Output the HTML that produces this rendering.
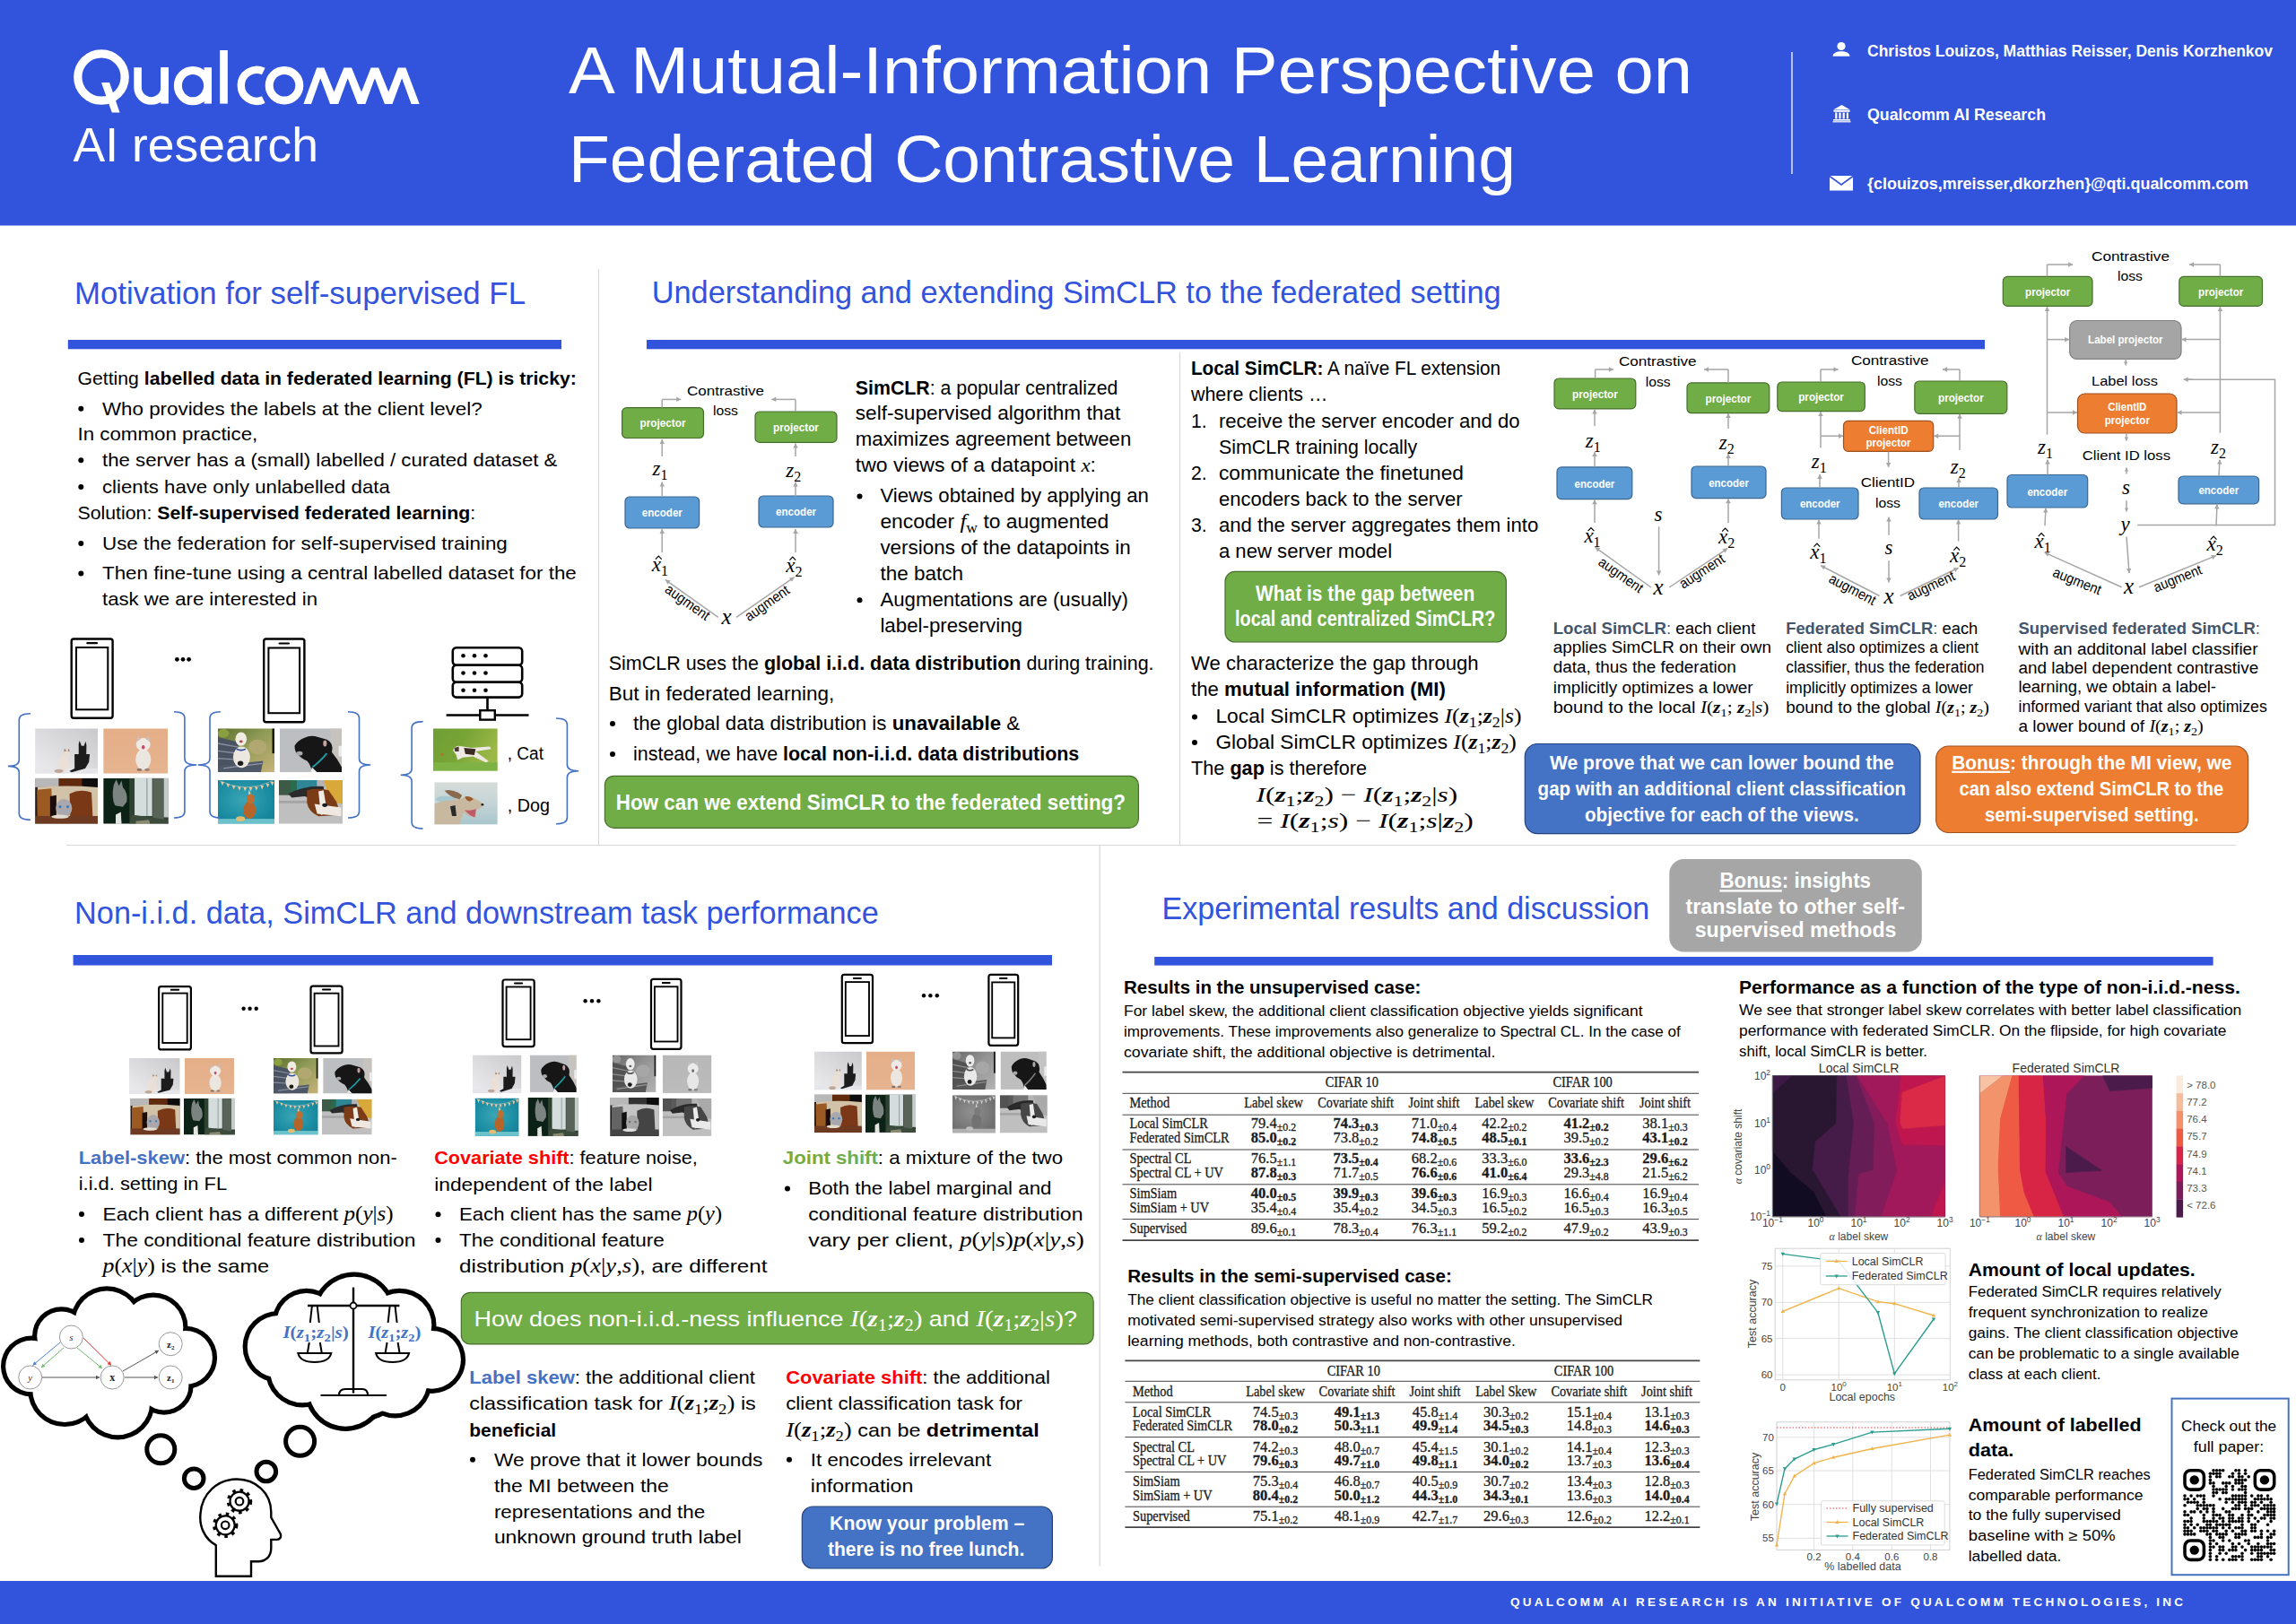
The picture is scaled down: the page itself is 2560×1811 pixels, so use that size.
<!DOCTYPE html>
<html><head><meta charset="utf-8"><title>A Mutual-Information Perspective on Federated Contrastive Learning</title>
<style>html,body{margin:0;padding:0;background:#fff;overflow:hidden}svg{display:block}</style></head>
<body><svg width="2560" height="1811" viewBox="0 0 2560 1811" font-family="Liberation Sans, sans-serif">
<defs>
<filter id="gray" color-interpolation-filters="sRGB"><feColorMatrix type="saturate" values="0"/></filter>
<filter id="soft" x="0" y="0" width="1" height="1"><feGaussianBlur stdDeviation="0.9"/></filter>
<linearGradient id="gCatSh" x1="0" y1="1" x2="1" y2="0"><stop offset="0" stop-color="#EDEDEF"/><stop offset="1" stop-color="#C9C9CB"/></linearGradient>
<linearGradient id="gPeach" x1="0" y1="0" x2="0" y2="1"><stop offset="0" stop-color="#E4AE88"/><stop offset="1" stop-color="#E6B490"/></linearGradient>
<linearGradient id="gGrass" x1="0" y1="0" x2="1" y2="0.4"><stop offset="0" stop-color="#6E9E34"/><stop offset="0.5" stop-color="#78A436"/><stop offset="1" stop-color="#9CB848"/></linearGradient>
<linearGradient id="gSky" x1="0" y1="0" x2="0" y2="1"><stop offset="0" stop-color="#D6DCD8"/><stop offset="0.5" stop-color="#C4D4D6"/><stop offset="1" stop-color="#A8C6CC"/></linearGradient>
<linearGradient id="gBench" x1="0" y1="0" x2="1" y2="1"><stop offset="0" stop-color="#5C6E2C"/><stop offset="0.45" stop-color="#8E9A56"/><stop offset="1" stop-color="#C8B27A"/></linearGradient>
<radialGradient id="gTeal" cx="0.45" cy="0.45" r="0.6"><stop offset="0" stop-color="#3AA6B6"/><stop offset="1" stop-color="#13859C"/></radialGradient>
<symbol id="phCatShadow" viewBox="0 0 100 70" preserveAspectRatio="none"><g filter="url(#soft)">
 <rect width="100" height="70" fill="url(#gCatSh)"/>
 <rect y="62" width="100" height="8" fill="#E6E6EA"/>
 <path d="M69.6,40 L69.6,24 L71.1,19 L74,27 L78,27 L80.7,20 L82,26 L81.7,40 L87.2,40 L86,52 L80,62 L58,68 L55,66 L63,62 L63,40 Z" fill="#1A1A1A"/>
 <ellipse cx="45.5" cy="54" rx="9" ry="13" fill="#EAE0D8"/>
 <circle cx="50" cy="40" r="5.5" fill="#E8DED4"/>
 <path d="M46,36 L47,31 L50,35 Z M52,35 L54,31 L55,36 Z" fill="#A08070"/>
 <ellipse cx="38" cy="66" rx="7" ry="3" fill="#C0A898"/>
</g></symbol>
<symbol id="phCatPeach" viewBox="0 0 100 70" preserveAspectRatio="none"><g filter="url(#soft)">
 <rect width="100" height="70" fill="url(#gPeach)"/>
 <ellipse cx="62" cy="48" rx="12" ry="16" fill="#ECE6E0"/>
 <ellipse cx="62" cy="25" rx="11" ry="10" fill="#EFEAE6"/>
 <path d="M52,20 L53,11 L58,17 Z M72,20 L71,11 L66,17 Z" fill="#C8C0C0"/>
 <ellipse cx="62" cy="29" rx="2.5" ry="3.2" fill="#C0506A"/>
 <ellipse cx="56" cy="64" rx="4" ry="2" fill="#807070"/><ellipse cx="68" cy="64" rx="4" ry="2" fill="#908080"/>
</g></symbol>
<symbol id="phCatBag" viewBox="0 0 100 70" preserveAspectRatio="none"><g filter="url(#soft)">
 <rect width="100" height="70" fill="#2A1A12"/>
 <rect x="0" y="0" width="38" height="14" fill="#B8B8B8"/>
 <rect x="38" y="0" width="37" height="14" fill="#5E2A10"/>
 <rect x="75" y="0" width="25" height="16" fill="#0E0A08"/>
 <path d="M4,14 Q50,10 100,14 L100,60 L4,60 Z" fill="#D2C2A8"/>
 <path d="M3,18 L26,16 L28,62 L4,62 Z" fill="#9A5A22"/>
 <path d="M24,28 L34,26 L34,62 L24,62 Z" fill="#1C0E08"/>
 <path d="M55,24 Q72,16 90,22 L92,60 L56,60 Z" fill="#7A3812"/>
 <ellipse cx="46" cy="46" rx="13" ry="14" fill="#A8A8AE"/>
 <ellipse cx="40" cy="44" rx="2.2" ry="2" fill="#3A78B0"/><ellipse cx="52" cy="44" rx="2.2" ry="2" fill="#3A78B0"/>
 <rect x="0" y="58" width="100" height="12" fill="#6E3A22"/>
 <ellipse cx="40" cy="59" rx="14" ry="3" fill="#E4DCD0"/>
</g></symbol>
<symbol id="phCatWindow" viewBox="0 0 100 70" preserveAspectRatio="none"><g filter="url(#soft)">
 <rect width="100" height="70" fill="#0E2214"/>
 <rect x="40" y="0" width="60" height="70" fill="#2E4232"/>
 <rect x="48" y="0" width="27" height="58" fill="#D4DCDC"/>
 <rect x="66" y="0" width="2" height="58" fill="#9AA8AA"/>
 <rect x="76" y="0" width="17" height="70" fill="#5A6458"/>
 <rect x="93" y="0" width="7" height="60" fill="#C4CCCC"/>
 <path d="M44,56 L100,64 L100,70 L40,70 Z" fill="#3C4C3C"/>
 <path d="M16,10 L20,2 L24,12 L28,4 L30,14 Q38,22 36,36 L30,44 L18,42 Q12,30 16,10 Z" fill="#7C8482"/>
 <path d="M19,56 L27,52 L28,70 L19,70 Z" fill="#E4E4E0"/>
 <path d="M50,66 L70,64 L72,70 L50,70 Z" fill="#8A8A70"/>
</g></symbol>
<symbol id="phDogBench" viewBox="0 0 100 70" preserveAspectRatio="none"><g filter="url(#soft)">
 <rect width="100" height="70" fill="url(#gBench)"/>
 <ellipse cx="10" cy="8" rx="10" ry="7" fill="#8AA040"/>
 <ellipse cx="70" cy="30" rx="16" ry="12" fill="#B0A870"/>
 <rect x="96" y="0" width="4" height="40" fill="#1A1A10"/>
 <path d="M0,14 L36,22 L36,70 L0,70 Z" fill="#4A5262"/>
 <path d="M0,24 L36,30 M0,36 L36,40 M0,48 L36,50" stroke="#8890A0" stroke-width="2"/>
 <path d="M0,60 L80,52 L76,70 L0,70 Z" fill="#505868"/>
 <path d="M10,64 L78,56" stroke="#9098A8" stroke-width="1.8"/>
 <ellipse cx="42" cy="46" rx="15" ry="17" fill="#ECE8E0"/>
 <ellipse cx="41" cy="17" rx="10" ry="11" fill="#F0ECE4"/>
 <path d="M33,33 Q41,37 49,33" stroke="#2A4CA0" stroke-width="2.6" fill="none"/>
 <ellipse cx="40" cy="56" rx="5" ry="4" fill="#1A1A1A"/>
 <ellipse cx="41" cy="21" rx="3" ry="2" fill="#C04050"/>
</g></symbol>
<symbol id="phDogBlack" viewBox="0 0 100 70" preserveAspectRatio="none"><g filter="url(#soft)">
 <rect width="100" height="70" fill="#BDBEC2"/>
 <rect x="82" y="0" width="18" height="70" fill="#C6C2BE"/>
 <rect x="95" y="28" width="5" height="17" fill="#ECECEC"/>
 <path d="M24,28 Q28,20 40,15 Q50,10 62,14 L76,18 Q88,24 84,38 Q94,50 100,62 L100,70 L52,70 Q50,58 44,52 Q34,48 30,42 Q24,38 24,28 Z" fill="#141516"/>
 <ellipse cx="32" cy="40" rx="5" ry="3.5" fill="#A8A8A8"/>
 <path d="M53,62 Q64,54 76,40" stroke="#1E9AA0" stroke-width="3" fill="none"/>
 <path d="M52,62 L60,70 L50,70 Z" fill="#EDEDED"/>
 <ellipse cx="73" cy="24" rx="3" ry="5" fill="#C8A0A0"/>
</g></symbol>
<symbol id="phDogTeal" viewBox="0 0 100 70" preserveAspectRatio="none"><g filter="url(#soft)">
 <rect width="100" height="70" fill="url(#gTeal)"/>
 <path d="M3,1 Q50,22 97,1" stroke="#E8D0B0" stroke-width="0.8" fill="none"/>
 <path d="M5,2 l3,7 l3,-6 z M15,5 l3,7 l3,-6 z M25,8 l3,7 l3,-6 z M35,10 l3,7 l3,-6 z M45,11 l3,7 l3,-6 z M55,11 l3,7 l3,-6 z M65,10 l3,7 l3,-6 z M75,8 l3,7 l3,-6 z M85,5 l3,7 l3,-6 z M93,2 l3,7 l3,-6 z" fill="#F2C8A0"/>
 <ellipse cx="56" cy="48" rx="11" ry="14" fill="#B5652A"/>
 <ellipse cx="58" cy="30" rx="7" ry="8" fill="#BE6E30"/>
 <path d="M54,23 L55,15 L58,22 Z" fill="#F0D0B0"/>
 <rect x="0" y="62" width="100" height="8" fill="#6CC2CA"/>
 <ellipse cx="40" cy="62" rx="8" ry="4" fill="#E2BC70"/>
</g></symbol>
<symbol id="phDogCouch" viewBox="0 0 100 70" preserveAspectRatio="none"><g filter="url(#soft)">
 <rect width="100" height="70" fill="#BFBFBF"/>
 <rect x="0" y="0" width="22" height="24" fill="#3C5A46"/>
 <rect x="18" y="0" width="12" height="22" fill="#2C6A4E"/>
 <rect x="28" y="0" width="32" height="18" fill="#2E8696"/>
 <rect x="60" y="0" width="12" height="18" fill="#B4B4B4"/>
 <path d="M70,0 L100,0 L100,38 L86,36 Q76,20 70,0 Z" fill="#D8A838"/>
 <rect x="0" y="33" width="45" height="4" fill="#A4A4A4"/>
 <path d="M15,22 Q40,8 70,10 L72,28 Q50,30 40,26 L20,28 Z" fill="#2A2A2C"/>
 <path d="M44,16 Q60,12 78,16 L90,34 Q96,48 92,56 L62,58 Q46,50 44,36 Z" fill="#7A3A14"/>
 <path d="M62,18 L70,16 L76,52 L66,56 Z" fill="#F0ECE6"/>
 <path d="M56,38 L98,44 L98,58 L60,54 Z" fill="#EEE8E0"/>
 <ellipse cx="72" cy="40" rx="4" ry="3" fill="#1A1A1A"/>
</g></symbol>
<symbol id="phCatGrass" viewBox="0 0 100 70" preserveAspectRatio="none"><g filter="url(#soft)">
 <rect width="100" height="70" fill="url(#gGrass)"/>
 <rect x="0" y="56" width="100" height="14" fill="#7EB244"/>
 <path d="M31,36 Q34,28 42,29 L60,32 L88,30 L90,34 L66,38 L86,54 L82,56 L62,46 L46,48 L38,52 L36,44 Z" fill="#EDEAE4"/>
 <path d="M48,32 L66,34 L64,44 L50,42 Z" fill="#3A2A20"/>
 <path d="M33,32 L40,30 L40,38 L34,38 Z" fill="#4A3A30"/>
 <circle cx="14" cy="43" r="2.2" fill="#C06A2A"/>
</g></symbol>
<symbol id="phDogSky" viewBox="0 0 100 70" preserveAspectRatio="none"><g filter="url(#soft)">
 <rect width="100" height="70" fill="url(#gSky)"/>
 <ellipse cx="18" cy="28" rx="16" ry="5" fill="#A8C8D0"/>
 <path d="M0,36 Q14,30 26,30 L40,28 Q52,22 62,26 L78,36 L74,42 L66,46 L66,58 L54,56 L46,50 L40,70 L0,70 Z" fill="#C8B8A0"/>
 <path d="M16,14 Q30,10 44,22 L40,28 Q26,26 16,14 Z" fill="#8A6A50"/>
 <path d="M48,24 Q56,22 62,28 L56,32 Q50,30 48,24 Z" fill="#9A5A2A"/>
 <path d="M48,46 Q58,48 66,44 L64,58 Q56,56 48,46 Z" fill="#C05A6A"/>
 <path d="M25,40 L33,38 L35,56 L28,56 Z" fill="#2A2A2A"/>
 <circle cx="76" cy="37" r="2" fill="#1A1A1A"/>
</g></symbol>
</defs>
<rect x="0.0" y="0.0" width="2560.0" height="251.5" fill="#3253DC"/>
<circle cx="113.0" cy="86.0" r="26.2" fill="none" stroke="#fff" stroke-width="9.3"/>
<polygon points="113.0,92.1 122.1,92.1 133.5,125.5 124.8,125.5" fill="#fff"/>
<path d="M153.6,75.2 V97.5 A 15 15 0 0 0 183.6 97.5 V75.2" fill="none" stroke="#fff" stroke-width="8.6"/>
<line x1="183.6" y1="75.2" x2="183.6" y2="115.6" stroke="#fff" stroke-width="8.6" />
<ellipse cx="215" cy="95.6" rx="16.6" ry="17.2" fill="none" stroke="#fff" stroke-width="9"/>
<line x1="231.8" y1="75.2" x2="231.8" y2="115.6" stroke="#fff" stroke-width="8.4" />
<line x1="249.5" y1="56.0" x2="249.5" y2="115.6" stroke="#fff" stroke-width="8.7" />
<path d="M293.8,79.5 A 17.5 17.5 0 1 0 293.8 111.1" fill="none" stroke="#fff" stroke-width="8.4"/>
<circle cx="317.0" cy="95.3" r="16.8" fill="none" stroke="#fff" stroke-width="9"/>
<polygon points="338.4,115.9 353.2,75.5 361.4,75.5 372.4,102.5 383.4,75.5 392.0,75.5 403.0,102.5 413.6,75.5 422.2,75.5 433.2,102.5 443.8,75.5 452.4,75.5 467.7,115.9 458.6,115.9 448.1,87.2 437.5,115.9 428.9,115.9 417.9,87.2 407.4,115.9 398.7,115.9 387.7,87.2 377.2,115.9 368.1,115.9 357.3,87.2 347.0,115.9" fill="#fff"/>
<text x="81.5" y="179.5" font-family="Liberation Sans" font-size="53" fill="#fff" textLength="273.5" lengthAdjust="spacingAndGlyphs">AI research</text>
<text x="634.0" y="103.6" font-family="Liberation Sans" font-size="75" fill="#fff" textLength="1253.0" lengthAdjust="spacingAndGlyphs">A Mutual-Information Perspective on</text>
<text x="634.0" y="202.7" font-family="Liberation Sans" font-size="75" fill="#fff" textLength="1056.0" lengthAdjust="spacingAndGlyphs">Federated Contrastive Learning</text>
<line x1="1998.0" y1="58.0" x2="1998.0" y2="194.0" stroke="#fff" stroke-width="1.3" />
<circle cx="2053.0" cy="51.5" r="4.6" fill="#fff"/>
<path d="M2043.5,62.8 C2043.5,55.5 2062.5,55.5 2062.5,62.8 Z" fill="#fff"/>
<polygon points="2044.0,122.5 2053.5,117.0 2063.0,122.5" fill="#fff"/>
<rect x="2044.5" y="123.0" width="18.0" height="1.8" fill="#fff"/>
<rect x="2046.2" y="125.5" width="2.2" height="7.0" fill="#fff"/>
<rect x="2050.4" y="125.5" width="2.2" height="7.0" fill="#fff"/>
<rect x="2054.6" y="125.5" width="2.2" height="7.0" fill="#fff"/>
<rect x="2058.8" y="125.5" width="2.2" height="7.0" fill="#fff"/>
<rect x="2044.0" y="133.0" width="19.0" height="1.6" fill="#fff"/>
<rect x="2043.5" y="135.2" width="20.0" height="1.2" fill="#fff"/>
<rect x="2040.0" y="196.0" width="26.0" height="16.5" fill="#fff"/>
<path d="M2040,196.5 L2053,206 L2066,196.5" fill="none" stroke="#3253DC" stroke-width="1.6"/>
<text x="2082.0" y="62.8" font-family="Liberation Sans" font-size="19" fill="#fff" font-weight="bold" textLength="452.0" lengthAdjust="spacingAndGlyphs">Christos Louizos, Matthias Reisser, Denis Korzhenkov</text>
<text x="2082.0" y="133.6" font-family="Liberation Sans" font-size="19" fill="#fff" font-weight="bold" textLength="199.0" lengthAdjust="spacingAndGlyphs">Qualcomm AI Research</text>
<text x="2082.0" y="210.6" font-family="Liberation Sans" font-size="19" fill="#fff" font-weight="bold" textLength="425.0" lengthAdjust="spacingAndGlyphs">{clouizos,mreisser,dkorzhen}@qti.qualcomm.com</text>
<line x1="667.5" y1="300.0" x2="667.5" y2="942.5" stroke="#D9D9D9" stroke-width="1.2" />
<line x1="1315.5" y1="393.0" x2="1315.5" y2="942.5" stroke="#D9D9D9" stroke-width="1.2" />
<line x1="73.5" y1="942.5" x2="2493.0" y2="942.5" stroke="#D9D9D9" stroke-width="1.2" />
<line x1="1226.2" y1="942.5" x2="1226.2" y2="1746.7" stroke="#D9D9D9" stroke-width="1.2" />
<rect x="75.8" y="379.0" width="550.2" height="10.3" fill="#3253DC"/>
<rect x="721.0" y="379.0" width="1492.0" height="10.3" fill="#3253DC"/>
<rect x="81.6" y="1065.0" width="1091.4" height="11.5" fill="#3253DC"/>
<rect x="1287.2" y="1067.0" width="1180.4" height="9.6" fill="#3253DC"/>
<text x="83.0" y="339.0" font-family="Liberation Sans" font-size="35" fill="#3253DC" textLength="503.0" lengthAdjust="spacingAndGlyphs">Motivation for self-supervised FL</text>
<text x="726.7" y="338.0" font-family="Liberation Sans" font-size="35" fill="#3253DC" textLength="947.0" lengthAdjust="spacingAndGlyphs">Understanding and extending SimCLR to the federated setting</text>
<text x="83.1" y="1029.8" font-family="Liberation Sans" font-size="35" fill="#3253DC" textLength="896.6" lengthAdjust="spacingAndGlyphs">Non-i.i.d. data, SimCLR and downstream task performance</text>
<text x="1295.6" y="1025.4" font-family="Liberation Sans" font-size="35" fill="#3253DC" textLength="543.7" lengthAdjust="spacingAndGlyphs">Experimental results and discussion</text>
<rect x="79.7" y="712.5" width="45.9" height="88.3" fill="#fff" rx="2.5" stroke="#000" stroke-width="2.4"/>
<rect x="85.0" y="722.0" width="35.3" height="69.3" fill="none" stroke="#000" stroke-width="2.04"/>
<line x1="97.3" y1="717.2" x2="108.0" y2="717.2" stroke="#000" stroke-width="2.16" stroke-linecap="round"/>
<rect x="294.2" y="712.5" width="45.2" height="92.7" fill="#fff" rx="2.5" stroke="#000" stroke-width="2.4"/>
<rect x="299.4" y="722.5" width="34.7" height="72.7" fill="none" stroke="#000" stroke-width="2.04"/>
<line x1="311.6" y1="717.5" x2="322.0" y2="717.5" stroke="#000" stroke-width="2.16" stroke-linecap="round"/>
<circle cx="197.4" cy="735.3" r="2.4" fill="#000"/>
<circle cx="204.0" cy="735.3" r="2.4" fill="#000"/>
<circle cx="210.6" cy="735.3" r="2.4" fill="#000"/>
<rect x="504.8" y="722.3" width="77.4" height="19.4" fill="#fff" rx="4" stroke="#000" stroke-width="2.6"/>
<circle cx="516.5" cy="731.2" r="2.3" fill="#000"/>
<circle cx="529.0" cy="731.2" r="2.3" fill="#000"/>
<circle cx="541.5" cy="731.2" r="2.3" fill="#000"/>
<rect x="504.8" y="741.7" width="77.4" height="19.1" fill="#fff" rx="4" stroke="#000" stroke-width="2.6"/>
<circle cx="516.5" cy="750.5" r="2.3" fill="#000"/>
<circle cx="529.0" cy="750.5" r="2.3" fill="#000"/>
<circle cx="541.5" cy="750.5" r="2.3" fill="#000"/>
<rect x="504.8" y="760.8" width="77.4" height="16.8" fill="#fff" rx="4" stroke="#000" stroke-width="2.6"/>
<circle cx="516.5" cy="769.7" r="2.3" fill="#000"/>
<circle cx="529.0" cy="769.7" r="2.3" fill="#000"/>
<circle cx="541.5" cy="769.7" r="2.3" fill="#000"/>
<line x1="543.5" y1="778.9" x2="543.5" y2="792.2" stroke="#000" stroke-width="2.6" />
<rect x="535.3" y="792.2" width="16.5" height="10.4" fill="#fff" stroke="#000" stroke-width="2.4"/>
<line x1="497.6" y1="797.5" x2="535.3" y2="797.5" stroke="#000" stroke-width="2.6" />
<line x1="551.8" y1="797.5" x2="589.5" y2="797.5" stroke="#000" stroke-width="2.6" />
<use href="#phCatShadow" x="39.1" y="812.3" width="69.9" height="50.4"/>
<use href="#phCatPeach" x="115.2" y="812.3" width="71.8" height="50.4"/>
<use href="#phCatBag" x="39.1" y="867.7" width="69.9" height="51.0"/>
<use href="#phCatWindow" x="115.2" y="867.7" width="72.6" height="51.0"/>
<use href="#phDogBench" x="242.9" y="812.3" width="63.1" height="48.7"/>
<use href="#phDogBlack" x="311.9" y="812.3" width="69.1" height="48.7"/>
<use href="#phDogTeal" x="242.9" y="870.0" width="63.1" height="48.7"/>
<use href="#phDogCouch" x="311.0" y="870.0" width="71.0" height="48.7"/>
<use href="#phCatGrass" x="482.8" y="812.3" width="72.0" height="47.4"/>
<use href="#phDogSky" x="484.3" y="872.2" width="70.5" height="47.4"/>
<text x="565.8" y="847.0" font-family="Liberation Sans" font-size="20" fill="#000" textLength="40.2" lengthAdjust="spacingAndGlyphs">, Cat</text>
<text x="565.8" y="904.7" font-family="Liberation Sans" font-size="20" fill="#000" textLength="47.2" lengthAdjust="spacingAndGlyphs">, Dog</text>
<path d="M34,795.7 Q21.3,795.7 21.3,802.7 L21.3,847.4 Q21.3,854.4 8.9,854.4 Q21.3,854.4 21.3,861.4 L21.3,907.2 Q21.3,914.2 34,914.2" fill="none" stroke="#4472C4" stroke-width="1.6"/>
<path d="M194,793.7 Q205.9,793.7 205.9,800.7 L205.9,846 Q205.9,853 219.2,853 Q205.9,853 205.9,860 L205.9,905 Q205.9,912 194,912" fill="none" stroke="#4472C4" stroke-width="1.6"/>
<path d="M245.9,793.7 Q234,793.7 234,800.7 L234,846 Q234,853 220.7,853 Q234,853 234,860 L234,905 Q234,912 245.9,912" fill="none" stroke="#4472C4" stroke-width="1.6"/>
<path d="M388,793.7 Q400.5,793.7 400.5,800.7 L400.5,846 Q400.5,853 413.2,853 Q400.5,853 400.5,860 L400.5,905 Q400.5,912 388,912" fill="none" stroke="#4472C4" stroke-width="1.6"/>
<path d="M471.6,804.6 Q459.1,804.6 459.1,811.6 L459.1,857.2 Q459.1,864.2 446.7,864.2 Q459.1,864.2 459.1,871.2 L459.1,917 Q459.1,924 471.6,924" fill="none" stroke="#4472C4" stroke-width="1.6"/>
<path d="M620,801 Q632.4,801 632.4,808 L632.4,852.7 Q632.4,859.7 645.1,859.7 Q632.4,859.7 632.4,866.7 L632.4,911.7 Q632.4,918.7 620,918.7" fill="none" stroke="#4472C4" stroke-width="1.6"/>
<rect x="177.1" y="1100.1" width="35.8" height="70.3" fill="#fff" rx="2.5" stroke="#000" stroke-width="2.2"/>
<rect x="181.3" y="1107.6" width="27.4" height="55.4" fill="none" stroke="#000" stroke-width="1.87"/>
<line x1="190.8" y1="1103.7" x2="199.2" y2="1103.7" stroke="#000" stroke-width="1.9800000000000002" stroke-linecap="round"/>
<rect x="346.5" y="1099.7" width="35.1" height="74.7" fill="#fff" rx="2.5" stroke="#000" stroke-width="2.2"/>
<rect x="350.6" y="1107.7" width="26.9" height="58.8" fill="none" stroke="#000" stroke-width="1.87"/>
<line x1="359.9" y1="1103.6" x2="368.2" y2="1103.6" stroke="#000" stroke-width="1.9800000000000002" stroke-linecap="round"/>
<circle cx="271.6" cy="1124.7" r="2.2" fill="#000"/>
<circle cx="278.6" cy="1124.7" r="2.2" fill="#000"/>
<circle cx="285.7" cy="1124.7" r="2.2" fill="#000"/>
<use href="#phCatShadow" x="144.0" y="1180.0" width="56.7" height="40.0"/>
<use href="#phCatPeach" x="206.0" y="1180.0" width="55.0" height="40.0"/>
<use href="#phCatBag" x="145.3" y="1224.8" width="55.4" height="40.6"/>
<use href="#phCatWindow" x="205.0" y="1224.8" width="57.0" height="40.6"/>
<use href="#phDogBench" x="305.0" y="1180.0" width="49.7" height="39.6"/>
<use href="#phDogBlack" x="360.2" y="1180.0" width="54.5" height="39.6"/>
<use href="#phDogTeal" x="305.0" y="1227.0" width="49.7" height="38.4"/>
<use href="#phDogCouch" x="359.0" y="1225.7" width="55.7" height="39.7"/>
<rect x="560.5" y="1092.5" width="35.2" height="74.6" fill="#fff" rx="2.5" stroke="#000" stroke-width="2.2"/>
<rect x="564.6" y="1100.5" width="27.0" height="58.7" fill="none" stroke="#000" stroke-width="1.87"/>
<line x1="574.0" y1="1096.4" x2="582.2" y2="1096.4" stroke="#000" stroke-width="1.9800000000000002" stroke-linecap="round"/>
<rect x="726.0" y="1091.9" width="33.5" height="77.9" fill="#fff" rx="2.5" stroke="#000" stroke-width="2.2"/>
<rect x="729.9" y="1100.3" width="25.6" height="61.2" fill="none" stroke="#000" stroke-width="1.87"/>
<line x1="738.8" y1="1096.0" x2="746.7" y2="1096.0" stroke="#000" stroke-width="1.9800000000000002" stroke-linecap="round"/>
<circle cx="652.6" cy="1116.3" r="2.2" fill="#000"/>
<circle cx="660.0" cy="1116.3" r="2.2" fill="#000"/>
<circle cx="667.4" cy="1116.3" r="2.2" fill="#000"/>
<use href="#phCatShadow" x="527.0" y="1176.5" width="54.5" height="42.4"/>
<use href="#phDogBlack" x="590.8" y="1176.5" width="52.0" height="41.4"/>
<use href="#phDogTeal" x="529.6" y="1224.5" width="49.0" height="42.4"/>
<use href="#phCatWindow" x="588.5" y="1223.9" width="56.3" height="43.0"/>
<use href="#phDogBench" x="682.8" y="1176.5" width="48.7" height="41.4" filter="url(#gray)"/>
<use href="#phCatPeach" x="738.8" y="1176.5" width="54.6" height="42.4" filter="url(#gray)"/>
<use href="#phCatBag" x="680.2" y="1223.9" width="54.6" height="43.0" filter="url(#gray)"/>
<use href="#phDogCouch" x="738.8" y="1224.8" width="54.6" height="42.1" filter="url(#gray)"/>
<rect x="938.8" y="1086.9" width="34.2" height="76.3" fill="#fff" rx="2.5" stroke="#000" stroke-width="2.2"/>
<rect x="942.8" y="1095.1" width="26.2" height="60.0" fill="none" stroke="#000" stroke-width="1.87"/>
<line x1="951.9" y1="1090.9" x2="959.9" y2="1090.9" stroke="#000" stroke-width="1.9800000000000002" stroke-linecap="round"/>
<rect x="1102.4" y="1086.9" width="32.8" height="78.9" fill="#fff" rx="2.5" stroke="#000" stroke-width="2.2"/>
<rect x="1106.2" y="1095.4" width="25.1" height="62.0" fill="none" stroke="#000" stroke-width="1.87"/>
<line x1="1115.0" y1="1091.1" x2="1122.6" y2="1091.1" stroke="#000" stroke-width="1.9800000000000002" stroke-linecap="round"/>
<circle cx="1030.0" cy="1110.3" r="2.2" fill="#000"/>
<circle cx="1037.4" cy="1110.3" r="2.2" fill="#000"/>
<circle cx="1044.8" cy="1110.3" r="2.2" fill="#000"/>
<use href="#phCatShadow" x="907.9" y="1172.5" width="53.0" height="43.1"/>
<use href="#phCatPeach" x="965.9" y="1172.5" width="54.3" height="43.1"/>
<use href="#phCatBag" x="907.9" y="1220.5" width="53.0" height="42.4"/>
<use href="#phCatWindow" x="964.9" y="1220.5" width="56.2" height="42.4"/>
<use href="#phDogBench" x="1061.9" y="1172.5" width="48.0" height="42.4" filter="url(#gray)"/>
<use href="#phDogBlack" x="1115.5" y="1172.5" width="51.3" height="42.4" filter="url(#gray)"/>
<use href="#phDogTeal" x="1061.9" y="1221.2" width="48.0" height="42.4" filter="url(#gray)"/>
<use href="#phDogCouch" x="1114.8" y="1221.2" width="53.0" height="42.4" filter="url(#gray)"/>
<circle cx="68.6" cy="1489.8" r="32.6" fill="#000"/>
<circle cx="119.2" cy="1475.4" r="41.1" fill="#000"/>
<circle cx="170.9" cy="1480.2" r="38.6" fill="#000"/>
<circle cx="207.0" cy="1513.9" r="35.1" fill="#000"/>
<circle cx="183.0" cy="1545.2" r="32.6" fill="#000"/>
<circle cx="131.2" cy="1564.4" r="41.1" fill="#000"/>
<circle cx="72.2" cy="1550.0" r="41.1" fill="#000"/>
<circle cx="34.9" cy="1523.5" r="33.9" fill="#000"/>
<circle cx="120.4" cy="1521.1" r="62.6" fill="#000"/>
<circle cx="160.0" cy="1515.0" r="42.6" fill="#000"/>
<circle cx="80.0" cy="1520.0" r="42.6" fill="#000"/>
<circle cx="68.6" cy="1489.8" r="27.4" fill="#fff"/>
<circle cx="119.2" cy="1475.4" r="35.9" fill="#fff"/>
<circle cx="170.9" cy="1480.2" r="33.4" fill="#fff"/>
<circle cx="207.0" cy="1513.9" r="29.9" fill="#fff"/>
<circle cx="183.0" cy="1545.2" r="27.4" fill="#fff"/>
<circle cx="131.2" cy="1564.4" r="35.9" fill="#fff"/>
<circle cx="72.2" cy="1550.0" r="35.9" fill="#fff"/>
<circle cx="34.9" cy="1523.5" r="28.7" fill="#fff"/>
<circle cx="120.4" cy="1521.1" r="57.4" fill="#fff"/>
<circle cx="160.0" cy="1515.0" r="37.4" fill="#fff"/>
<circle cx="80.0" cy="1520.0" r="37.4" fill="#fff"/>
<circle cx="394.8" cy="1465.7" r="47.1" fill="#000"/>
<circle cx="341.8" cy="1475.4" r="38.6" fill="#000"/>
<circle cx="445.4" cy="1477.8" r="41.1" fill="#000"/>
<circle cx="481.5" cy="1516.3" r="37.6" fill="#000"/>
<circle cx="440.5" cy="1540.4" r="41.1" fill="#000"/>
<circle cx="385.2" cy="1550.0" r="45.9" fill="#000"/>
<circle cx="337.0" cy="1528.3" r="41.1" fill="#000"/>
<circle cx="310.5" cy="1501.8" r="39.9" fill="#000"/>
<circle cx="394.8" cy="1511.5" r="74.6" fill="#000"/>
<circle cx="350.0" cy="1505.0" r="47.6" fill="#000"/>
<circle cx="440.0" cy="1510.0" r="47.6" fill="#000"/>
<circle cx="394.8" cy="1465.7" r="41.9" fill="#fff"/>
<circle cx="341.8" cy="1475.4" r="33.4" fill="#fff"/>
<circle cx="445.4" cy="1477.8" r="35.9" fill="#fff"/>
<circle cx="481.5" cy="1516.3" r="32.4" fill="#fff"/>
<circle cx="440.5" cy="1540.4" r="35.9" fill="#fff"/>
<circle cx="385.2" cy="1550.0" r="40.7" fill="#fff"/>
<circle cx="337.0" cy="1528.3" r="35.9" fill="#fff"/>
<circle cx="310.5" cy="1501.8" r="34.7" fill="#fff"/>
<circle cx="394.8" cy="1511.5" r="69.4" fill="#fff"/>
<circle cx="350.0" cy="1505.0" r="42.4" fill="#fff"/>
<circle cx="440.0" cy="1510.0" r="42.4" fill="#fff"/>
<circle cx="179.3" cy="1616.2" r="15.5" fill="#fff" stroke="#000" stroke-width="5"/>
<circle cx="216.2" cy="1648.7" r="10.8" fill="#fff" stroke="#000" stroke-width="5"/>
<circle cx="296.8" cy="1641.0" r="10.8" fill="#fff" stroke="#000" stroke-width="5"/>
<circle cx="334.6" cy="1607.3" r="16.0" fill="#fff" stroke="#000" stroke-width="5"/>
<circle cx="79.4" cy="1491.0" r="13.0" fill="#fff" stroke="#9A9A9A" stroke-width="1"/>
<circle cx="33.7" cy="1536.0" r="13.0" fill="#fff" stroke="#9A9A9A" stroke-width="1"/>
<circle cx="125.2" cy="1536.0" r="13.0" fill="#fff" stroke="#9A9A9A" stroke-width="1"/>
<circle cx="190.2" cy="1498.7" r="13.0" fill="#fff" stroke="#9A9A9A" stroke-width="1"/>
<circle cx="190.2" cy="1536.0" r="13.0" fill="#fff" stroke="#9A9A9A" stroke-width="1"/>
<text x="79.4" y="1495.0" font-family="Liberation Serif" font-size="11" fill="#333" font-style="italic" text-anchor="middle">s</text>
<text x="33.7" y="1540.0" font-family="Liberation Serif" font-size="11" fill="#333" font-style="italic" text-anchor="middle">y</text>
<text x="125.2" y="1540.0" font-family="Liberation Serif" font-size="12" fill="#222" font-weight="bold" text-anchor="middle">x</text>
<text x="190.2" y="1502.5" font-family="Liberation Serif" font-size="11" fill="#222" font-weight="bold" text-anchor="middle">z<tspan font-size="7" baseline-shift="-2">2</tspan></text>
<text x="190.2" y="1540.0" font-family="Liberation Serif" font-size="11" fill="#222" font-weight="bold" text-anchor="middle">z<tspan font-size="7" baseline-shift="-2">1</tspan></text>
<line x1="67.0" y1="1497.0" x2="36.5" y2="1522.5" stroke="#4A7FD0" stroke-width="1" />
<polygon points="36.5,1522.5 41.0,1521.6 38.2,1518.2" fill="#4A7FD0"/>
<line x1="71.0" y1="1503.0" x2="46.0" y2="1525.0" stroke="#6CB86C" stroke-width="1" />
<polygon points="46.0,1525.0 50.5,1524.0 47.5,1520.7" fill="#6CB86C"/>
<line x1="86.0" y1="1503.0" x2="114.0" y2="1526.0" stroke="#6CB86C" stroke-width="1" />
<polygon points="114.0,1526.0 112.3,1521.8 109.5,1525.2" fill="#6CB86C"/>
<line x1="93.0" y1="1492.0" x2="124.0" y2="1522.5" stroke="#E03030" stroke-width="1" />
<polygon points="124.0,1522.5 122.7,1518.1 119.6,1521.3" fill="#E03030"/>
<line x1="47.0" y1="1536.0" x2="111.0" y2="1536.0" stroke="#555" stroke-width="1" />
<polygon points="111.0,1536.0 107.0,1533.8 107.0,1538.2" fill="#555"/>
<line x1="139.0" y1="1536.0" x2="176.0" y2="1536.0" stroke="#555" stroke-width="1" />
<polygon points="176.0,1536.0 172.0,1533.8 172.0,1538.2" fill="#555"/>
<line x1="137.0" y1="1529.0" x2="177.0" y2="1506.0" stroke="#555" stroke-width="1" />
<polygon points="177.0,1506.0 172.4,1506.1 174.6,1509.9" fill="#555"/>
<line x1="394.0" y1="1435.6" x2="394.0" y2="1553.6" stroke="#000" stroke-width="2.4" />
<line x1="343.0" y1="1456.0" x2="445.4" y2="1456.0" stroke="#000" stroke-width="2.4" />
<circle cx="394.0" cy="1456.0" r="3.5" fill="#fff" stroke="#000" stroke-width="1.8"/>
<path d="M357.5,1556 L431,1556 M378,1556 Q378,1549 385,1549 L404,1549 Q410,1549 410,1556" fill="none" stroke="#000" stroke-width="2"/>
<line x1="347.8" y1="1457.0" x2="345.8" y2="1475.0" stroke="#000" stroke-width="2" />
<line x1="353.8" y1="1457.0" x2="355.8" y2="1475.0" stroke="#000" stroke-width="2" />
<line x1="344.8" y1="1497.0" x2="342.8" y2="1509.0" stroke="#000" stroke-width="2" />
<line x1="356.8" y1="1497.0" x2="358.8" y2="1509.0" stroke="#000" stroke-width="2" />
<path d="M332.3,1509 L369.3,1509 Q366.8,1519 350.8,1519 Q334.8,1519 332.3,1509 Z" fill="#fff" stroke="#000" stroke-width="2"/>
<line x1="434.6" y1="1457.0" x2="432.6" y2="1475.0" stroke="#000" stroke-width="2" />
<line x1="440.6" y1="1457.0" x2="442.6" y2="1475.0" stroke="#000" stroke-width="2" />
<line x1="431.6" y1="1497.0" x2="429.6" y2="1509.0" stroke="#000" stroke-width="2" />
<line x1="443.6" y1="1497.0" x2="445.6" y2="1509.0" stroke="#000" stroke-width="2" />
<path d="M419.1,1509 L456.1,1509 Q453.6,1519 437.6,1519 Q421.6,1519 419.1,1509 Z" fill="#fff" stroke="#000" stroke-width="2"/>
<text x="315.4" y="1492.0" font-family="Liberation Sans" font-size="19" fill="#4472C4" textLength="73.4" lengthAdjust="spacingAndGlyphs"><tspan font-family="Liberation Serif" font-size="19" font-style="italic" font-weight="bold">I</tspan><tspan font-family="Liberation Serif" font-size="19" font-weight="bold">(</tspan><tspan font-family="Liberation Serif" font-size="19" font-weight="bold" font-style="italic">z</tspan><tspan font-family="Liberation Serif" font-size="13.3" baseline-shift="-3.8" font-weight="bold">1</tspan><tspan font-family="Liberation Serif" font-size="19" font-weight="bold">;</tspan><tspan font-family="Liberation Serif" font-size="19" font-weight="bold" font-style="italic">z</tspan><tspan font-family="Liberation Serif" font-size="13.3" baseline-shift="-3.8" font-weight="bold">2</tspan><tspan font-family="Liberation Serif" font-size="19" font-weight="bold">|</tspan><tspan font-family="Liberation Serif" font-size="19" font-style="italic" font-weight="bold">s</tspan><tspan font-family="Liberation Serif" font-size="19" font-weight="bold">)</tspan></text>
<text x="410.4" y="1492.0" font-family="Liberation Sans" font-size="19" fill="#4472C4" textLength="59.0" lengthAdjust="spacingAndGlyphs"><tspan font-family="Liberation Serif" font-size="19" font-style="italic" font-weight="bold">I</tspan><tspan font-family="Liberation Serif" font-size="19" font-weight="bold">(</tspan><tspan font-family="Liberation Serif" font-size="19" font-weight="bold" font-style="italic">z</tspan><tspan font-family="Liberation Serif" font-size="13.3" baseline-shift="-3.8" font-weight="bold">1</tspan><tspan font-family="Liberation Serif" font-size="19" font-weight="bold">;</tspan><tspan font-family="Liberation Serif" font-size="19" font-weight="bold" font-style="italic">z</tspan><tspan font-family="Liberation Serif" font-size="13.3" baseline-shift="-3.8" font-weight="bold">2</tspan><tspan font-family="Liberation Serif" font-size="19" font-weight="bold">)</tspan></text>
<path d="M240.8,1757.7 L240.8,1723.1 C228,1716 222,1702 223.5,1688 C225,1665 243,1649.5 264.2,1649.5 C285,1649.5 302.3,1665 302.3,1686.2 L302.3,1692.3 L312.7,1710.5 C314,1714 312,1716.9 308.8,1716.9 L302.3,1716.9 L302.3,1726.2 C302.3,1736 296,1741.2 288.1,1741.2 L280,1741.2 L280,1757.7 Z" fill="#fff" stroke="#000" stroke-width="2.4"/>
<circle cx="267" cy="1674.2" r="12.10" fill="none" stroke="#000" stroke-width="4.2" stroke-dasharray="3.43 4.74"/>
<circle cx="267.0" cy="1674.2" r="10.5" fill="#fff" stroke="#000" stroke-width="2.2"/>
<circle cx="267.0" cy="1674.2" r="4.3" fill="#fff" stroke="#000" stroke-width="2.2"/>
<circle cx="251.2" cy="1700.8" r="12.10" fill="none" stroke="#000" stroke-width="4.2" stroke-dasharray="3.43 4.74"/>
<circle cx="251.2" cy="1700.8" r="10.5" fill="#fff" stroke="#000" stroke-width="2.2"/>
<circle cx="251.2" cy="1700.8" r="4.3" fill="#fff" stroke="#000" stroke-width="2.2"/>
<text x="86.5" y="429.2" font-family="Liberation Sans" font-size="21" fill="#000" textLength="556.3" lengthAdjust="spacingAndGlyphs">Getting <tspan font-weight="bold">labelled data in federated learning (FL) is tricky:</tspan></text>
<circle cx="90.3" cy="455.8" r="3.0" fill="#000"/>
<text x="114.0" y="462.7" font-family="Liberation Sans" font-size="21" fill="#000" textLength="423.6" lengthAdjust="spacingAndGlyphs">Who provides the labels at the client level?</text>
<text x="86.5" y="491.4" font-family="Liberation Sans" font-size="21" fill="#000" textLength="200.8" lengthAdjust="spacingAndGlyphs">In common practice,</text>
<circle cx="90.3" cy="513.2" r="3.0" fill="#000"/>
<text x="114.0" y="520.1" font-family="Liberation Sans" font-size="21" fill="#000" textLength="507.4" lengthAdjust="spacingAndGlyphs">the server has a (small) labelled / curated dataset &amp;</text>
<circle cx="90.3" cy="542.9" r="3.0" fill="#000"/>
<text x="114.0" y="549.8" font-family="Liberation Sans" font-size="21" fill="#000" textLength="320.8" lengthAdjust="spacingAndGlyphs">clients have only unlabelled data</text>
<text x="86.5" y="578.8" font-family="Liberation Sans" font-size="21" fill="#000" textLength="443.7" lengthAdjust="spacingAndGlyphs">Solution: <tspan font-weight="bold">Self-supervised federated learning</tspan>:</text>
<circle cx="90.3" cy="606.0" r="3.0" fill="#000"/>
<text x="114.0" y="612.9" font-family="Liberation Sans" font-size="21" fill="#000" textLength="451.8" lengthAdjust="spacingAndGlyphs">Use the federation for self-supervised training</text>
<circle cx="90.3" cy="639.4" r="3.0" fill="#000"/>
<text x="114.0" y="646.3" font-family="Liberation Sans" font-size="21" fill="#000" textLength="528.8" lengthAdjust="spacingAndGlyphs">Then fine-tune using a central labelled dataset for the</text>
<text x="114.0" y="675.1" font-family="Liberation Sans" font-size="21" fill="#000" textLength="240.0" lengthAdjust="spacingAndGlyphs">task we are interested in</text>
<text x="953.8" y="439.6" font-family="Liberation Sans" font-size="21.3" fill="#000" textLength="292.6" lengthAdjust="spacingAndGlyphs"><tspan font-weight="bold">SimCLR</tspan>: a popular centralized</text>
<text x="953.8" y="467.5" font-family="Liberation Sans" font-size="21.3" fill="#000" textLength="295.4" lengthAdjust="spacingAndGlyphs">self-supervised algorithm that</text>
<text x="953.8" y="497.4" font-family="Liberation Sans" font-size="21.3" fill="#000" textLength="307.5" lengthAdjust="spacingAndGlyphs">maximizes agreement between</text>
<text x="953.8" y="525.9" font-family="Liberation Sans" font-size="21.3" fill="#000" textLength="268.2" lengthAdjust="spacingAndGlyphs">two views of a datapoint <tspan font-family="Liberation Serif" font-size="21.3" font-style="italic">x</tspan>:</text>
<circle cx="958.5" cy="553.5" r="3.0" fill="#000"/>
<text x="981.4" y="560.4" font-family="Liberation Sans" font-size="21.3" fill="#000" textLength="299.5" lengthAdjust="spacingAndGlyphs">Views obtained by applying an</text>
<text x="981.4" y="589.0" font-family="Liberation Sans" font-size="21.3" fill="#000" textLength="254.9" lengthAdjust="spacingAndGlyphs">encoder <tspan font-family="Liberation Serif" font-size="23.430000000000003" font-style="italic">f</tspan><tspan font-family="Liberation Serif" font-size="16.4" baseline-shift="-4.7">w</tspan> to augmented</text>
<text x="981.4" y="617.9" font-family="Liberation Sans" font-size="21.3" fill="#000" textLength="279.3" lengthAdjust="spacingAndGlyphs">versions of the datapoints in</text>
<text x="981.4" y="646.6" font-family="Liberation Sans" font-size="21.3" fill="#000" textLength="92.5" lengthAdjust="spacingAndGlyphs">the batch</text>
<circle cx="958.5" cy="669.3" r="3.0" fill="#000"/>
<text x="981.4" y="676.2" font-family="Liberation Sans" font-size="21.3" fill="#000" textLength="276.5" lengthAdjust="spacingAndGlyphs">Augmentations are (usually)</text>
<text x="981.4" y="705.0" font-family="Liberation Sans" font-size="21.3" fill="#000" textLength="158.6" lengthAdjust="spacingAndGlyphs">label-preserving</text>
<text x="678.7" y="746.6" font-family="Liberation Sans" font-size="21.3" fill="#000" textLength="607.9" lengthAdjust="spacingAndGlyphs">SimCLR uses the <tspan font-weight="bold">global i.i.d. data distribution</tspan> during training.</text>
<text x="678.7" y="780.5" font-family="Liberation Sans" font-size="21.3" fill="#000" textLength="251.5" lengthAdjust="spacingAndGlyphs">But in federated learning,</text>
<circle cx="683.0" cy="807.1" r="3.0" fill="#000"/>
<text x="706.0" y="814.0" font-family="Liberation Sans" font-size="21.3" fill="#000" textLength="431.1" lengthAdjust="spacingAndGlyphs">the global data distribution is <tspan font-weight="bold">unavailable</tspan> &amp;</text>
<circle cx="683.0" cy="841.1" r="3.0" fill="#000"/>
<text x="706.0" y="848.0" font-family="Liberation Sans" font-size="21.3" fill="#000" textLength="497.3" lengthAdjust="spacingAndGlyphs">instead, we have <tspan font-weight="bold">local non-i.i.d. data distributions</tspan></text>
<rect x="674.4" y="865.3" width="595.0" height="58.0" fill="#70AD47" rx="10" stroke="#466F2C" stroke-width="1.2"/>
<text x="686.7" y="902.6" font-family="Liberation Sans" font-size="24" fill="#fff" font-weight="bold" textLength="568.3" lengthAdjust="spacingAndGlyphs">How can we extend SimCLR to the federated setting?</text>
<text x="1327.9" y="418.0" font-family="Liberation Sans" font-size="21.3" fill="#000" textLength="345.2" lengthAdjust="spacingAndGlyphs"><tspan font-weight="bold">Local SimCLR:</tspan>  A naïve FL extension</text>
<text x="1327.9" y="446.8" font-family="Liberation Sans" font-size="21.3" fill="#000" textLength="152.6" lengthAdjust="spacingAndGlyphs">where clients …</text>
<text x="1327.9" y="477.0" font-family="Liberation Sans" font-size="21.3" fill="#000">1.</text>
<text x="1358.9" y="477.0" font-family="Liberation Sans" font-size="21.3" fill="#000" textLength="335.7" lengthAdjust="spacingAndGlyphs">receive the server encoder and do</text>
<text x="1358.9" y="505.8" font-family="Liberation Sans" font-size="21.3" fill="#000" textLength="221.4" lengthAdjust="spacingAndGlyphs">SimCLR training locally</text>
<text x="1327.9" y="534.5" font-family="Liberation Sans" font-size="21.3" fill="#000">2.</text>
<text x="1358.9" y="534.5" font-family="Liberation Sans" font-size="21.3" fill="#000" textLength="273.1" lengthAdjust="spacingAndGlyphs">communicate the finetuned</text>
<text x="1358.9" y="564.0" font-family="Liberation Sans" font-size="21.3" fill="#000" textLength="271.7" lengthAdjust="spacingAndGlyphs">encoders back to the server</text>
<text x="1327.9" y="593.4" font-family="Liberation Sans" font-size="21.3" fill="#000">3.</text>
<text x="1358.9" y="593.4" font-family="Liberation Sans" font-size="21.3" fill="#000" textLength="356.4" lengthAdjust="spacingAndGlyphs">and the server aggregates them into</text>
<text x="1358.9" y="622.2" font-family="Liberation Sans" font-size="21.3" fill="#000" textLength="193.2" lengthAdjust="spacingAndGlyphs">a new server model</text>
<rect x="1366.0" y="637.4" width="313.4" height="78.6" fill="#70AD47" rx="11" stroke="#466F2C" stroke-width="1.2"/>
<text x="1400.0" y="669.6" font-family="Liberation Sans" font-size="24" fill="#fff" font-weight="bold" textLength="244.3" lengthAdjust="spacingAndGlyphs">What is the gap between</text>
<text x="1377.0" y="698.3" font-family="Liberation Sans" font-size="24" fill="#fff" font-weight="bold" textLength="290.3" lengthAdjust="spacingAndGlyphs">local and centralized SimCLR?</text>
<text x="1328.1" y="747.4" font-family="Liberation Sans" font-size="21.3" fill="#000" textLength="320.5" lengthAdjust="spacingAndGlyphs">We characterize the gap through</text>
<text x="1328.1" y="776.0" font-family="Liberation Sans" font-size="21.3" fill="#000" textLength="283.7" lengthAdjust="spacingAndGlyphs">the <tspan font-weight="bold">mutual information (MI)</tspan></text>
<circle cx="1332.0" cy="799.5" r="3.0" fill="#000"/>
<text x="1355.4" y="806.4" font-family="Liberation Sans" font-size="21.3" fill="#000" textLength="341.2" lengthAdjust="spacingAndGlyphs">Local SimCLR optimizes <tspan font-family="Liberation Serif" font-size="24" font-style="italic">I</tspan><tspan font-family="Liberation Serif" font-size="24">(</tspan><tspan font-family="Liberation Serif" font-size="24" font-weight="bold" font-style="italic">z</tspan><tspan font-family="Liberation Serif" font-size="16.8" baseline-shift="-4.8">1</tspan><tspan font-family="Liberation Serif" font-size="24">;</tspan><tspan font-family="Liberation Serif" font-size="24" font-weight="bold" font-style="italic">z</tspan><tspan font-family="Liberation Serif" font-size="16.8" baseline-shift="-4.8">2</tspan><tspan font-family="Liberation Serif" font-size="24">|</tspan><tspan font-family="Liberation Serif" font-size="24" font-style="italic">s</tspan><tspan font-family="Liberation Serif" font-size="24">)</tspan></text>
<circle cx="1332.0" cy="828.1" r="3.0" fill="#000"/>
<text x="1355.4" y="835.0" font-family="Liberation Sans" font-size="21.3" fill="#000" textLength="335.5" lengthAdjust="spacingAndGlyphs">Global SimCLR optimizes <tspan font-family="Liberation Serif" font-size="24" font-style="italic">I</tspan><tspan font-family="Liberation Serif" font-size="24">(</tspan><tspan font-family="Liberation Serif" font-size="24" font-weight="bold" font-style="italic">z</tspan><tspan font-family="Liberation Serif" font-size="16.8" baseline-shift="-4.8">1</tspan><tspan font-family="Liberation Serif" font-size="24">;</tspan><tspan font-family="Liberation Serif" font-size="24" font-weight="bold" font-style="italic">z</tspan><tspan font-family="Liberation Serif" font-size="16.8" baseline-shift="-4.8">2</tspan><tspan font-family="Liberation Serif" font-size="24">)</tspan></text>
<text x="1328.1" y="863.8" font-family="Liberation Sans" font-size="21.3" fill="#000" textLength="196.0" lengthAdjust="spacingAndGlyphs">The <tspan font-weight="bold">gap</tspan> is therefore</text>
<text x="1400.5" y="894.0" font-family="Liberation Sans" font-size="24" fill="#000" textLength="224.8" lengthAdjust="spacingAndGlyphs"><tspan font-family="Liberation Serif" font-size="24" font-style="italic">I</tspan><tspan font-family="Liberation Serif" font-size="24">(</tspan><tspan font-family="Liberation Serif" font-size="24" font-weight="bold" font-style="italic">z</tspan><tspan font-family="Liberation Serif" font-size="16.8" baseline-shift="-4.8">1</tspan><tspan font-family="Liberation Serif" font-size="24">;</tspan><tspan font-family="Liberation Serif" font-size="24" font-weight="bold" font-style="italic">z</tspan><tspan font-family="Liberation Serif" font-size="16.8" baseline-shift="-4.8">2</tspan><tspan font-family="Liberation Serif" font-size="24">)</tspan><tspan font-family="Liberation Serif" font-size="24"> </tspan><tspan font-family="Liberation Serif" font-size="24">−</tspan><tspan font-family="Liberation Serif" font-size="24"> </tspan><tspan font-family="Liberation Serif" font-size="24" font-style="italic">I</tspan><tspan font-family="Liberation Serif" font-size="24">(</tspan><tspan font-family="Liberation Serif" font-size="24" font-weight="bold" font-style="italic">z</tspan><tspan font-family="Liberation Serif" font-size="16.8" baseline-shift="-4.8">1</tspan><tspan font-family="Liberation Serif" font-size="24">;</tspan><tspan font-family="Liberation Serif" font-size="24" font-weight="bold" font-style="italic">z</tspan><tspan font-family="Liberation Serif" font-size="16.8" baseline-shift="-4.8">2</tspan><tspan font-family="Liberation Serif" font-size="24">|</tspan><tspan font-family="Liberation Serif" font-size="24" font-style="italic">s</tspan><tspan font-family="Liberation Serif" font-size="24">)</tspan></text>
<text x="1401.4" y="922.8" font-family="Liberation Sans" font-size="24" fill="#000" textLength="241.5" lengthAdjust="spacingAndGlyphs"><tspan font-family="Liberation Serif" font-size="24">=</tspan><tspan font-family="Liberation Serif" font-size="24"> </tspan><tspan font-family="Liberation Serif" font-size="24"> </tspan><tspan font-family="Liberation Serif" font-size="24" font-style="italic">I</tspan><tspan font-family="Liberation Serif" font-size="24">(</tspan><tspan font-family="Liberation Serif" font-size="24" font-weight="bold" font-style="italic">z</tspan><tspan font-family="Liberation Serif" font-size="16.8" baseline-shift="-4.8">1</tspan><tspan font-family="Liberation Serif" font-size="24">;</tspan><tspan font-family="Liberation Serif" font-size="24" font-style="italic">s</tspan><tspan font-family="Liberation Serif" font-size="24">)</tspan><tspan font-family="Liberation Serif" font-size="24"> </tspan><tspan font-family="Liberation Serif" font-size="24">−</tspan><tspan font-family="Liberation Serif" font-size="24"> </tspan><tspan font-family="Liberation Serif" font-size="24" font-style="italic">I</tspan><tspan font-family="Liberation Serif" font-size="24">(</tspan><tspan font-family="Liberation Serif" font-size="24" font-weight="bold" font-style="italic">z</tspan><tspan font-family="Liberation Serif" font-size="16.8" baseline-shift="-4.8">1</tspan><tspan font-family="Liberation Serif" font-size="24">;</tspan><tspan font-family="Liberation Serif" font-size="24" font-style="italic">s</tspan><tspan font-family="Liberation Serif" font-size="24">|</tspan><tspan font-family="Liberation Serif" font-size="24" font-weight="bold" font-style="italic">z</tspan><tspan font-family="Liberation Serif" font-size="16.8" baseline-shift="-4.8">2</tspan><tspan font-family="Liberation Serif" font-size="24">)</tspan></text>
<rect x="1700.3" y="829.5" width="440.7" height="100.1" fill="#4472C4" rx="14" stroke="#24427A" stroke-width="1.2"/>
<text x="1727.9" y="857.7" font-family="Liberation Sans" font-size="22.5" fill="#fff" font-weight="bold" textLength="383.9" lengthAdjust="spacingAndGlyphs">We prove that we can lower bound the</text>
<text x="1714.6" y="887.2" font-family="Liberation Sans" font-size="22.5" fill="#fff" font-weight="bold" textLength="410.4" lengthAdjust="spacingAndGlyphs">gap with an additional client classification</text>
<text x="1766.9" y="916.4" font-family="Liberation Sans" font-size="22.5" fill="#fff" font-weight="bold" textLength="305.8" lengthAdjust="spacingAndGlyphs">objective for each of the views.</text>
<rect x="2158.7" y="832.0" width="347.9" height="96.5" fill="#ED7D31" rx="14" stroke="#9E521E" stroke-width="1.2"/>
<text x="2176.2" y="857.7" font-family="Liberation Sans" font-size="22.5" fill="#fff" font-weight="bold" textLength="312.2" lengthAdjust="spacingAndGlyphs"><tspan text-decoration="underline">Bonus</tspan>: through the MI view, we</text>
<text x="2184.5" y="887.2" font-family="Liberation Sans" font-size="22.5" fill="#fff" font-weight="bold" textLength="294.8" lengthAdjust="spacingAndGlyphs">can also extend SimCLR to the</text>
<text x="2212.9" y="916.4" font-family="Liberation Sans" font-size="22.5" fill="#fff" font-weight="bold" textLength="238.8" lengthAdjust="spacingAndGlyphs">semi-supervised setting.</text>
<rect x="1861.3" y="958.0" width="281.5" height="103.5" fill="#A6A6A6" rx="16"/>
<text x="1917.4" y="990.3" font-family="Liberation Sans" font-size="23" fill="#fff" font-weight="bold" textLength="168.6" lengthAdjust="spacingAndGlyphs"><tspan text-decoration="underline">Bonus</tspan>: insights</text>
<text x="1879.5" y="1018.7" font-family="Liberation Sans" font-size="23" fill="#fff" font-weight="bold" textLength="244.4" lengthAdjust="spacingAndGlyphs">translate to other self-</text>
<text x="1889.7" y="1045.3" font-family="Liberation Sans" font-size="23" fill="#fff" font-weight="bold" textLength="224.7" lengthAdjust="spacingAndGlyphs">supervised methods</text>
<text x="1731.7" y="706.5" font-family="Liberation Sans" font-size="18" fill="#000" textLength="225.7" lengthAdjust="spacingAndGlyphs"><tspan font-weight="bold" fill="#44546A">Local SimCLR</tspan><tspan fill="#44546A">:</tspan> each client</text>
<text x="1731.7" y="728.0" font-family="Liberation Sans" font-size="18" fill="#000" textLength="243.3" lengthAdjust="spacingAndGlyphs">applies SimCLR on their own</text>
<text x="1731.7" y="749.8" font-family="Liberation Sans" font-size="18" fill="#000" textLength="204.0" lengthAdjust="spacingAndGlyphs">data, thus the federation</text>
<text x="1731.7" y="772.8" font-family="Liberation Sans" font-size="18" fill="#000" textLength="223.0" lengthAdjust="spacingAndGlyphs">implicitly optimizes a lower</text>
<text x="1731.7" y="794.5" font-family="Liberation Sans" font-size="18" fill="#000" textLength="240.6" lengthAdjust="spacingAndGlyphs">bound to the local <tspan font-family="Liberation Serif" font-size="19" font-style="italic">I</tspan><tspan font-family="Liberation Serif" font-size="19">(</tspan><tspan font-family="Liberation Serif" font-size="19" font-weight="bold" font-style="italic">z</tspan><tspan font-family="Liberation Serif" font-size="13.3" baseline-shift="-3.8">1</tspan><tspan font-family="Liberation Serif" font-size="19">;</tspan><tspan font-family="Liberation Serif" font-size="19"> </tspan><tspan font-family="Liberation Serif" font-size="19" font-weight="bold" font-style="italic">z</tspan><tspan font-family="Liberation Serif" font-size="13.3" baseline-shift="-3.8">2</tspan><tspan font-family="Liberation Serif" font-size="19">|</tspan><tspan font-family="Liberation Serif" font-size="19" font-style="italic">s</tspan><tspan font-family="Liberation Serif" font-size="19">)</tspan></text>
<text x="1991.2" y="706.5" font-family="Liberation Sans" font-size="18" fill="#000" textLength="214.1" lengthAdjust="spacingAndGlyphs"><tspan font-weight="bold" fill="#44546A">Federated SimCLR</tspan><tspan fill="#44546A">:</tspan> each</text>
<text x="1991.2" y="728.0" font-family="Liberation Sans" font-size="18" fill="#000" textLength="214.9" lengthAdjust="spacingAndGlyphs">client also optimizes a client</text>
<text x="1991.2" y="749.8" font-family="Liberation Sans" font-size="18" fill="#000" textLength="221.4" lengthAdjust="spacingAndGlyphs">classifier, thus the federation</text>
<text x="1991.2" y="772.8" font-family="Liberation Sans" font-size="18" fill="#000" textLength="208.7" lengthAdjust="spacingAndGlyphs">implicitly optimizes a lower</text>
<text x="1991.2" y="794.5" font-family="Liberation Sans" font-size="18" fill="#000" textLength="226.8" lengthAdjust="spacingAndGlyphs">bound to the global <tspan font-family="Liberation Serif" font-size="19" font-style="italic">I</tspan><tspan font-family="Liberation Serif" font-size="19">(</tspan><tspan font-family="Liberation Serif" font-size="19" font-weight="bold" font-style="italic">z</tspan><tspan font-family="Liberation Serif" font-size="13.3" baseline-shift="-3.8">1</tspan><tspan font-family="Liberation Serif" font-size="19">;</tspan><tspan font-family="Liberation Serif" font-size="19"> </tspan><tspan font-family="Liberation Serif" font-size="19" font-weight="bold" font-style="italic">z</tspan><tspan font-family="Liberation Serif" font-size="13.3" baseline-shift="-3.8">2</tspan><tspan font-family="Liberation Serif" font-size="19">)</tspan></text>
<text x="2250.5" y="707.4" font-family="Liberation Sans" font-size="18" fill="#000" textLength="269.5" lengthAdjust="spacingAndGlyphs"><tspan font-weight="bold" fill="#44546A">Supervised federated SimCLR</tspan><tspan fill="#44546A">:</tspan></text>
<text x="2250.5" y="729.5" font-family="Liberation Sans" font-size="18" fill="#000" textLength="267.0" lengthAdjust="spacingAndGlyphs">with an additonal label classifier</text>
<text x="2250.5" y="751.0" font-family="Liberation Sans" font-size="18" fill="#000" textLength="267.7" lengthAdjust="spacingAndGlyphs">and label dependent contrastive</text>
<text x="2250.5" y="772.0" font-family="Liberation Sans" font-size="18" fill="#000" textLength="220.4" lengthAdjust="spacingAndGlyphs">learning, we obtain a label-</text>
<text x="2250.5" y="794.0" font-family="Liberation Sans" font-size="18" fill="#000" textLength="277.2" lengthAdjust="spacingAndGlyphs">informed variant that also optimizes</text>
<text x="2250.5" y="816.0" font-family="Liberation Sans" font-size="18" fill="#000" textLength="206.3" lengthAdjust="spacingAndGlyphs">a lower bound of <tspan font-family="Liberation Serif" font-size="19" font-style="italic">I</tspan><tspan font-family="Liberation Serif" font-size="19">(</tspan><tspan font-family="Liberation Serif" font-size="19" font-weight="bold" font-style="italic">z</tspan><tspan font-family="Liberation Serif" font-size="13.3" baseline-shift="-3.8">1</tspan><tspan font-family="Liberation Serif" font-size="19">;</tspan><tspan font-family="Liberation Serif" font-size="19"> </tspan><tspan font-family="Liberation Serif" font-size="19" font-weight="bold" font-style="italic">z</tspan><tspan font-family="Liberation Serif" font-size="13.3" baseline-shift="-3.8">2</tspan><tspan font-family="Liberation Serif" font-size="19">)</tspan></text>
<text x="87.7" y="1298.0" font-family="Liberation Sans" font-size="21" fill="#000" textLength="355.0" lengthAdjust="spacingAndGlyphs"><tspan font-weight="bold" fill="#4472C4">Label-skew</tspan>: the most common non-</text>
<text x="87.7" y="1327.3" font-family="Liberation Sans" font-size="21" fill="#000" textLength="165.4" lengthAdjust="spacingAndGlyphs">i.i.d. setting in FL</text>
<circle cx="91.0" cy="1354.0" r="3.0" fill="#000"/>
<text x="114.5" y="1360.9" font-family="Liberation Sans" font-size="21" fill="#000" textLength="324.2" lengthAdjust="spacingAndGlyphs">Each client has a different <tspan font-family="Liberation Serif" font-size="23" font-style="italic">p</tspan><tspan font-family="Liberation Serif" font-size="23">(</tspan><tspan font-family="Liberation Serif" font-size="23" font-style="italic">y</tspan><tspan font-family="Liberation Serif" font-size="23">|</tspan><tspan font-family="Liberation Serif" font-size="23" font-style="italic">s</tspan><tspan font-family="Liberation Serif" font-size="23">)</tspan></text>
<circle cx="91.0" cy="1383.1" r="3.0" fill="#000"/>
<text x="114.5" y="1390.0" font-family="Liberation Sans" font-size="21" fill="#000" textLength="348.9" lengthAdjust="spacingAndGlyphs">The conditional feature distribution</text>
<text x="114.5" y="1419.4" font-family="Liberation Sans" font-size="21" fill="#000" textLength="185.7" lengthAdjust="spacingAndGlyphs"><tspan font-family="Liberation Serif" font-size="23" font-style="italic">p</tspan><tspan font-family="Liberation Serif" font-size="23">(</tspan><tspan font-family="Liberation Serif" font-size="23" font-style="italic">x</tspan><tspan font-family="Liberation Serif" font-size="23">|</tspan><tspan font-family="Liberation Serif" font-size="23" font-style="italic">y</tspan><tspan font-family="Liberation Serif" font-size="23">)</tspan> is the same</text>
<text x="484.2" y="1298.3" font-family="Liberation Sans" font-size="21" fill="#000" textLength="293.6" lengthAdjust="spacingAndGlyphs"><tspan font-weight="bold" fill="#FF0000">Covariate shift</tspan>: feature noise,</text>
<text x="484.2" y="1327.5" font-family="Liberation Sans" font-size="21" fill="#000" textLength="243.3" lengthAdjust="spacingAndGlyphs">independent of the label</text>
<circle cx="488.5" cy="1354.3" r="3.0" fill="#000"/>
<text x="512.0" y="1361.2" font-family="Liberation Sans" font-size="21" fill="#000" textLength="293.0" lengthAdjust="spacingAndGlyphs">Each client has the same <tspan font-family="Liberation Serif" font-size="23" font-style="italic">p</tspan><tspan font-family="Liberation Serif" font-size="23">(</tspan><tspan font-family="Liberation Serif" font-size="23" font-style="italic">y</tspan><tspan font-family="Liberation Serif" font-size="23">)</tspan></text>
<circle cx="488.5" cy="1383.1" r="3.0" fill="#000"/>
<text x="512.0" y="1390.0" font-family="Liberation Sans" font-size="21" fill="#000" textLength="228.8" lengthAdjust="spacingAndGlyphs">The conditional feature</text>
<text x="512.0" y="1419.2" font-family="Liberation Sans" font-size="21" fill="#000" textLength="343.6" lengthAdjust="spacingAndGlyphs">distribution <tspan font-family="Liberation Serif" font-size="23" font-style="italic">p</tspan><tspan font-family="Liberation Serif" font-size="23">(</tspan><tspan font-family="Liberation Serif" font-size="23" font-style="italic">x</tspan><tspan font-family="Liberation Serif" font-size="23">|</tspan><tspan font-family="Liberation Serif" font-size="23" font-style="italic">y</tspan><tspan font-family="Liberation Serif" font-size="23">,</tspan><tspan font-family="Liberation Serif" font-size="23" font-style="italic">s</tspan><tspan font-family="Liberation Serif" font-size="23">)</tspan>, are different</text>
<text x="872.8" y="1298.3" font-family="Liberation Sans" font-size="21" fill="#000" textLength="312.2" lengthAdjust="spacingAndGlyphs"><tspan font-weight="bold" fill="#70AD47">Joint shift</tspan>: a mixture of the two</text>
<circle cx="878.0" cy="1325.5" r="3.0" fill="#000"/>
<text x="901.3" y="1332.4" font-family="Liberation Sans" font-size="21" fill="#000" textLength="271.1" lengthAdjust="spacingAndGlyphs">Both the label marginal and</text>
<text x="901.3" y="1361.2" font-family="Liberation Sans" font-size="21" fill="#000" textLength="306.2" lengthAdjust="spacingAndGlyphs">conditional feature distribution</text>
<text x="901.3" y="1390.0" font-family="Liberation Sans" font-size="21" fill="#000" textLength="307.5" lengthAdjust="spacingAndGlyphs">vary per client, <tspan font-family="Liberation Serif" font-size="23" font-style="italic">p</tspan><tspan font-family="Liberation Serif" font-size="23">(</tspan><tspan font-family="Liberation Serif" font-size="23" font-style="italic">y</tspan><tspan font-family="Liberation Serif" font-size="23">|</tspan><tspan font-family="Liberation Serif" font-size="23" font-style="italic">s</tspan><tspan font-family="Liberation Serif" font-size="23">)</tspan><tspan font-family="Liberation Serif" font-size="23" font-style="italic">p</tspan><tspan font-family="Liberation Serif" font-size="23">(</tspan><tspan font-family="Liberation Serif" font-size="23" font-style="italic">x</tspan><tspan font-family="Liberation Serif" font-size="23">|</tspan><tspan font-family="Liberation Serif" font-size="23" font-style="italic">y</tspan><tspan font-family="Liberation Serif" font-size="23">,</tspan><tspan font-family="Liberation Serif" font-size="23" font-style="italic">s</tspan><tspan font-family="Liberation Serif" font-size="23">)</tspan></text>
<rect x="514.3" y="1441.3" width="704.9" height="57.6" fill="#70AD47" rx="10" stroke="#466F2C" stroke-width="1.2"/>
<text x="528.6" y="1478.8" font-family="Liberation Sans" font-size="24" fill="#fff" textLength="672.4" lengthAdjust="spacingAndGlyphs">How does non-i.i.d.-ness influence <tspan font-family="Liberation Serif" font-size="26" font-style="italic">I</tspan><tspan font-family="Liberation Serif" font-size="26">(</tspan><tspan font-family="Liberation Serif" font-size="26" font-weight="bold" font-style="italic">z</tspan><tspan font-family="Liberation Serif" font-size="18.2" baseline-shift="-5.2">1</tspan><tspan font-family="Liberation Serif" font-size="26">;</tspan><tspan font-family="Liberation Serif" font-size="26" font-weight="bold" font-style="italic">z</tspan><tspan font-family="Liberation Serif" font-size="18.2" baseline-shift="-5.2">2</tspan><tspan font-family="Liberation Serif" font-size="26">)</tspan> and <tspan font-family="Liberation Serif" font-size="26" font-style="italic">I</tspan><tspan font-family="Liberation Serif" font-size="26">(</tspan><tspan font-family="Liberation Serif" font-size="26" font-weight="bold" font-style="italic">z</tspan><tspan font-family="Liberation Serif" font-size="18.2" baseline-shift="-5.2">1</tspan><tspan font-family="Liberation Serif" font-size="26">;</tspan><tspan font-family="Liberation Serif" font-size="26" font-weight="bold" font-style="italic">z</tspan><tspan font-family="Liberation Serif" font-size="18.2" baseline-shift="-5.2">2</tspan><tspan font-family="Liberation Serif" font-size="26">|</tspan><tspan font-family="Liberation Serif" font-size="26" font-style="italic">s</tspan><tspan font-family="Liberation Serif" font-size="26">)</tspan>?</text>
<text x="523.2" y="1543.4" font-family="Liberation Sans" font-size="21" fill="#000" textLength="318.6" lengthAdjust="spacingAndGlyphs"><tspan font-weight="bold" fill="#4472C4">Label skew</tspan>: the additional client</text>
<text x="523.2" y="1572.0" font-family="Liberation Sans" font-size="21" fill="#000" textLength="319.6" lengthAdjust="spacingAndGlyphs">classification task for <tspan font-family="Liberation Serif" font-size="24" font-style="italic">I</tspan><tspan font-family="Liberation Serif" font-size="24">(</tspan><tspan font-family="Liberation Serif" font-size="24" font-weight="bold" font-style="italic">z</tspan><tspan font-family="Liberation Serif" font-size="16.8" baseline-shift="-4.8">1</tspan><tspan font-family="Liberation Serif" font-size="24">;</tspan><tspan font-family="Liberation Serif" font-size="24" font-weight="bold" font-style="italic">z</tspan><tspan font-family="Liberation Serif" font-size="16.8" baseline-shift="-4.8">2</tspan><tspan font-family="Liberation Serif" font-size="24">)</tspan> is</text>
<text x="523.2" y="1601.9" font-family="Liberation Sans" font-size="21" fill="#000" textLength="97.0" lengthAdjust="spacingAndGlyphs"><tspan font-weight="bold">beneficial</tspan></text>
<circle cx="527.0" cy="1627.7" r="3.0" fill="#000"/>
<text x="550.9" y="1634.6" font-family="Liberation Sans" font-size="21" fill="#000" textLength="299.5" lengthAdjust="spacingAndGlyphs">We prove that it lower bounds</text>
<text x="550.9" y="1664.2" font-family="Liberation Sans" font-size="21" fill="#000" textLength="194.9" lengthAdjust="spacingAndGlyphs">the MI between the</text>
<text x="550.9" y="1692.8" font-family="Liberation Sans" font-size="21" fill="#000" textLength="235.3" lengthAdjust="spacingAndGlyphs">representations and the</text>
<text x="550.9" y="1721.4" font-family="Liberation Sans" font-size="21" fill="#000" textLength="276.0" lengthAdjust="spacingAndGlyphs">unknown ground truth label</text>
<text x="876.2" y="1543.4" font-family="Liberation Sans" font-size="21" fill="#000" textLength="294.7" lengthAdjust="spacingAndGlyphs"><tspan font-weight="bold" fill="#FF0000">Covariate shift</tspan>: the additional</text>
<text x="876.2" y="1572.0" font-family="Liberation Sans" font-size="21" fill="#000" textLength="263.8" lengthAdjust="spacingAndGlyphs">client classification task for</text>
<text x="876.2" y="1601.9" font-family="Liberation Sans" font-size="21" fill="#000" textLength="282.6" lengthAdjust="spacingAndGlyphs"><tspan font-family="Liberation Serif" font-size="24" font-style="italic">I</tspan><tspan font-family="Liberation Serif" font-size="24">(</tspan><tspan font-family="Liberation Serif" font-size="24" font-weight="bold" font-style="italic">z</tspan><tspan font-family="Liberation Serif" font-size="16.8" baseline-shift="-4.8">1</tspan><tspan font-family="Liberation Serif" font-size="24">;</tspan><tspan font-family="Liberation Serif" font-size="24" font-weight="bold" font-style="italic">z</tspan><tspan font-family="Liberation Serif" font-size="16.8" baseline-shift="-4.8">2</tspan><tspan font-family="Liberation Serif" font-size="24">)</tspan> can be <tspan font-weight="bold">detrimental</tspan></text>
<circle cx="880.0" cy="1627.7" r="3.0" fill="#000"/>
<text x="903.8" y="1634.6" font-family="Liberation Sans" font-size="21" fill="#000" textLength="201.3" lengthAdjust="spacingAndGlyphs">It encodes irrelevant</text>
<text x="903.8" y="1664.2" font-family="Liberation Sans" font-size="21" fill="#000" textLength="114.5" lengthAdjust="spacingAndGlyphs">information</text>
<rect x="894.3" y="1680.0" width="279.1" height="69.0" fill="#4472C4" rx="12" stroke="#24427A" stroke-width="1.2"/>
<text x="925.1" y="1706.2" font-family="Liberation Sans" font-size="22" fill="#fff" font-weight="bold" textLength="217.2" lengthAdjust="spacingAndGlyphs">Know your problem –</text>
<text x="922.9" y="1734.8" font-family="Liberation Sans" font-size="22" fill="#fff" font-weight="bold" textLength="219.4" lengthAdjust="spacingAndGlyphs">there is no free lunch.</text>
<text x="1253.0" y="1108.0" font-family="Liberation Sans" font-size="20.5" fill="#000" textLength="331.4" lengthAdjust="spacingAndGlyphs"><tspan font-weight="bold">Results in the unsupervised case:</tspan></text>
<text x="1253.0" y="1132.5" font-family="Liberation Sans" font-size="16.3" fill="#000" textLength="578.5" lengthAdjust="spacingAndGlyphs">For label skew, the additional client classification objective yields significant</text>
<text x="1253.0" y="1155.5" font-family="Liberation Sans" font-size="16.3" fill="#000" textLength="620.8" lengthAdjust="spacingAndGlyphs">improvements. These improvements also generalize to Spectral CL. In the case of</text>
<text x="1253.0" y="1178.5" font-family="Liberation Sans" font-size="16.3" fill="#000" textLength="414.4" lengthAdjust="spacingAndGlyphs">covariate shift, the additional objective is detrimental.</text>
<text x="1257.2" y="1430.2" font-family="Liberation Sans" font-size="20.5" fill="#000" textLength="361.6" lengthAdjust="spacingAndGlyphs"><tspan font-weight="bold">Results in the semi-supervised case:</tspan></text>
<text x="1257.2" y="1454.6" font-family="Liberation Sans" font-size="16.3" fill="#000" textLength="585.8" lengthAdjust="spacingAndGlyphs">The client classification objective is useful no matter the setting. The SimCLR</text>
<text x="1257.2" y="1477.6" font-family="Liberation Sans" font-size="16.3" fill="#000" textLength="551.9" lengthAdjust="spacingAndGlyphs">motivated semi-supervised strategy also works with other unsupervised</text>
<text x="1257.2" y="1500.6" font-family="Liberation Sans" font-size="16.3" fill="#000" textLength="432.6" lengthAdjust="spacingAndGlyphs">learning methods, both contrastive and non-contrastive.</text>
<text x="1938.9" y="1108.4" font-family="Liberation Sans" font-size="20.5" fill="#000" textLength="559.0" lengthAdjust="spacingAndGlyphs"><tspan font-weight="bold">Performance as a function of the type of non-i.i.d.-ness.</tspan></text>
<text x="1939.0" y="1132.1" font-family="Liberation Sans" font-size="16.3" fill="#000" textLength="560.3" lengthAdjust="spacingAndGlyphs">We see that stronger label skew correlates with better label classification</text>
<text x="1939.0" y="1154.8" font-family="Liberation Sans" font-size="16.3" fill="#000" textLength="543.5" lengthAdjust="spacingAndGlyphs">performance with federated SimCLR. On the flipside, for high covariate</text>
<text x="1939.0" y="1177.8" font-family="Liberation Sans" font-size="16.3" fill="#000" textLength="210.0" lengthAdjust="spacingAndGlyphs">shift, local SimCLR is better.</text>
<text x="2194.7" y="1422.7" font-family="Liberation Sans" font-size="20.5" fill="#000" textLength="253.0" lengthAdjust="spacingAndGlyphs"><tspan font-weight="bold">Amount of local updates.</tspan></text>
<text x="2194.7" y="1446.2" font-family="Liberation Sans" font-size="16.3" fill="#000" textLength="281.9" lengthAdjust="spacingAndGlyphs">Federated SimCLR requires relatively</text>
<text x="2194.7" y="1469.1" font-family="Liberation Sans" font-size="16.3" fill="#000" textLength="267.3" lengthAdjust="spacingAndGlyphs">frequent synchronization to realize</text>
<text x="2194.7" y="1492.0" font-family="Liberation Sans" font-size="16.3" fill="#000" textLength="300.8" lengthAdjust="spacingAndGlyphs">gains. The client classification objective</text>
<text x="2194.7" y="1515.0" font-family="Liberation Sans" font-size="16.3" fill="#000" textLength="302.1" lengthAdjust="spacingAndGlyphs">can be problematic to a single available</text>
<text x="2194.7" y="1538.0" font-family="Liberation Sans" font-size="16.3" fill="#000" textLength="147.7" lengthAdjust="spacingAndGlyphs">class at each client.</text>
<text x="2194.7" y="1596.0" font-family="Liberation Sans" font-size="20.5" fill="#000" textLength="192.8" lengthAdjust="spacingAndGlyphs"><tspan font-weight="bold">Amount of labelled</tspan></text>
<text x="2194.7" y="1624.4" font-family="Liberation Sans" font-size="20.5" fill="#000" textLength="50.5" lengthAdjust="spacingAndGlyphs"><tspan font-weight="bold">data.</tspan></text>
<text x="2194.7" y="1650.0" font-family="Liberation Sans" font-size="16.3" fill="#000" textLength="203.0" lengthAdjust="spacingAndGlyphs">Federated SimCLR reaches</text>
<text x="2194.7" y="1673.0" font-family="Liberation Sans" font-size="16.3" fill="#000" textLength="194.9" lengthAdjust="spacingAndGlyphs">comparable performance</text>
<text x="2194.7" y="1695.4" font-family="Liberation Sans" font-size="16.3" fill="#000" textLength="170.1" lengthAdjust="spacingAndGlyphs">to the fully supervised</text>
<text x="2194.7" y="1718.4" font-family="Liberation Sans" font-size="16.3" fill="#000" textLength="163.9" lengthAdjust="spacingAndGlyphs">baseline with ≥ 50%</text>
<text x="2194.7" y="1740.5" font-family="Liberation Sans" font-size="16.3" fill="#000" textLength="103.7" lengthAdjust="spacingAndGlyphs">labelled data.</text>
<rect x="2421.5" y="1559.6" width="130.2" height="196.6" fill="none" stroke="#4472C4" stroke-width="2"/>
<text x="2432.0" y="1596.0" font-family="Liberation Sans" font-size="16.3" fill="#000" textLength="106.2" lengthAdjust="spacingAndGlyphs">Check out the</text>
<text x="2445.8" y="1619.0" font-family="Liberation Sans" font-size="16.3" fill="#000" textLength="78.3" lengthAdjust="spacingAndGlyphs">full paper:</text>
<rect x="693.6" y="454.6" width="90.9" height="33.9" fill="#70AD47" rx="5" stroke="#466F2C" stroke-width="1.2"/>
<text x="713.6" y="476.4" font-family="Liberation Sans" font-size="13.5" fill="#fff" font-weight="bold" textLength="50.9" lengthAdjust="spacingAndGlyphs">projector</text>
<rect x="842.0" y="459.0" width="91.0" height="34.4" fill="#70AD47" rx="5" stroke="#466F2C" stroke-width="1.2"/>
<text x="862.0" y="481.1" font-family="Liberation Sans" font-size="13.5" fill="#fff" font-weight="bold" textLength="50.9" lengthAdjust="spacingAndGlyphs">projector</text>
<rect x="697.0" y="554.0" width="82.6" height="35.0" fill="#5B9BD5" rx="5" stroke="#3A6690" stroke-width="1.2"/>
<text x="715.8" y="576.4" font-family="Liberation Sans" font-size="13.5" fill="#fff" font-weight="bold" textLength="45.1" lengthAdjust="spacingAndGlyphs">encoder</text>
<rect x="846.0" y="553.0" width="83.0" height="35.0" fill="#5B9BD5" rx="5" stroke="#3A6690" stroke-width="1.2"/>
<text x="865.0" y="575.4" font-family="Liberation Sans" font-size="13.5" fill="#fff" font-weight="bold" textLength="45.1" lengthAdjust="spacingAndGlyphs">encoder</text>
<text x="766.0" y="440.5" font-family="Liberation Sans" font-size="15.5" fill="#000" textLength="86.0" lengthAdjust="spacingAndGlyphs">Contrastive</text>
<text x="795.0" y="463.0" font-family="Liberation Sans" font-size="15.5" fill="#000" textLength="28.0" lengthAdjust="spacingAndGlyphs">loss</text>
<line x1="738.2" y1="454.6" x2="738.2" y2="445.4" stroke="#A6A6A6" stroke-width="1.5" />
<line x1="738.2" y1="445.4" x2="759.2" y2="445.4" stroke="#A6A6A6" stroke-width="1.5" />
<polygon points="759.2,445.4 754.2,442.6 754.2,448.1" fill="#A6A6A6"/>
<line x1="887.0" y1="459.0" x2="887.0" y2="445.4" stroke="#A6A6A6" stroke-width="1.5" />
<line x1="887.0" y1="445.4" x2="860.3" y2="445.4" stroke="#A6A6A6" stroke-width="1.5" />
<polygon points="860.3,445.4 865.3,448.1 865.3,442.6" fill="#A6A6A6"/>
<line x1="738.2" y1="509.0" x2="738.2" y2="490.0" stroke="#A6A6A6" stroke-width="1.5" />
<polygon points="738.2,490.0 735.5,495.0 741.0,495.0" fill="#A6A6A6"/>
<line x1="738.2" y1="553.5" x2="738.2" y2="537.5" stroke="#A6A6A6" stroke-width="1.5" />
<polygon points="738.2,537.5 735.5,542.5 741.0,542.5" fill="#A6A6A6"/>
<line x1="738.2" y1="616.0" x2="738.2" y2="590.0" stroke="#A6A6A6" stroke-width="1.5" />
<polygon points="738.2,590.0 735.5,595.0 741.0,595.0" fill="#A6A6A6"/>
<line x1="887.0" y1="509.0" x2="887.0" y2="494.5" stroke="#A6A6A6" stroke-width="1.5" />
<polygon points="887.0,494.5 884.2,499.5 889.8,499.5" fill="#A6A6A6"/>
<line x1="887.0" y1="553.5" x2="887.0" y2="537.5" stroke="#A6A6A6" stroke-width="1.5" />
<polygon points="887.0,537.5 884.2,542.5 889.8,542.5" fill="#A6A6A6"/>
<line x1="887.0" y1="616.0" x2="887.0" y2="590.0" stroke="#A6A6A6" stroke-width="1.5" />
<polygon points="887.0,590.0 884.2,595.0 889.8,595.0" fill="#A6A6A6"/>
<text x="727.5" y="530.0" font-family="Liberation Serif" font-size="23" fill="#000"><tspan font-style="italic">z</tspan><tspan font-size="16.1" baseline-shift="-5.1">1</tspan></text>
<text x="876.2" y="531.5" font-family="Liberation Serif" font-size="23" fill="#000"><tspan font-style="italic">z</tspan><tspan font-size="16.1" baseline-shift="-5.1">2</tspan></text>
<text x="726.7" y="636.5" font-family="Liberation Serif" font-size="23" fill="#000"><tspan font-style="italic">x</tspan><tspan font-size="16.1" baseline-shift="-5.1">1</tspan></text>
<path d="M730.9,623.7 L734.3,620.1 L737.7,623.7" fill="none" stroke="#000" stroke-width="1.2"/>
<text x="876.2" y="637.5" font-family="Liberation Serif" font-size="23" fill="#000"><tspan font-style="italic">x</tspan><tspan font-size="16.1" baseline-shift="-5.1">2</tspan></text>
<path d="M880.4,624.7 L883.8,621.1 L887.2,624.7" fill="none" stroke="#000" stroke-width="1.2"/>
<text x="804.6" y="695.5" font-family="Liberation Serif" font-size="25" fill="#000"><tspan font-style="italic">x</tspan></text>
<line x1="800.8" y1="688.3" x2="741.9" y2="646.6" stroke="#A6A6A6" stroke-width="1.5" />
<polygon points="741.9,646.6 744.4,651.7 747.6,647.2" fill="#A6A6A6"/>
<line x1="821.0" y1="688.3" x2="885.6" y2="643.7" stroke="#A6A6A6" stroke-width="1.5" />
<polygon points="885.6,643.7 879.9,644.3 883.0,648.8" fill="#A6A6A6"/>
<text x="0" y="0" font-family="Liberation Sans" font-size="16" text-anchor="middle" transform="translate(763.5,676.0) rotate(35.3)" textLength="56.8" lengthAdjust="spacingAndGlyphs">augment</text>
<text x="0" y="0" font-family="Liberation Sans" font-size="16" text-anchor="middle" transform="translate(858.3,677.0) rotate(-35.0)" textLength="56.8" lengthAdjust="spacingAndGlyphs">augment</text>
<rect x="1733.0" y="422.0" width="90.8" height="33.9" fill="#70AD47" rx="5" stroke="#466F2C" stroke-width="1.2"/>
<text x="1753.1" y="443.8" font-family="Liberation Sans" font-size="13.5" fill="#fff" font-weight="bold" textLength="50.7" lengthAdjust="spacingAndGlyphs">projector</text>
<rect x="1881.0" y="426.9" width="91.8" height="33.8" fill="#70AD47" rx="5" stroke="#466F2C" stroke-width="1.2"/>
<text x="1901.6" y="448.7" font-family="Liberation Sans" font-size="13.5" fill="#fff" font-weight="bold" textLength="50.7" lengthAdjust="spacingAndGlyphs">projector</text>
<rect x="1736.0" y="520.9" width="83.8" height="35.7" fill="#5B9BD5" rx="5" stroke="#3A6690" stroke-width="1.2"/>
<text x="1755.6" y="543.6" font-family="Liberation Sans" font-size="13.5" fill="#fff" font-weight="bold" textLength="44.7" lengthAdjust="spacingAndGlyphs">encoder</text>
<rect x="1886.0" y="520.0" width="83.0" height="35.6" fill="#5B9BD5" rx="5" stroke="#3A6690" stroke-width="1.2"/>
<text x="1905.2" y="542.7" font-family="Liberation Sans" font-size="13.5" fill="#fff" font-weight="bold" textLength="44.7" lengthAdjust="spacingAndGlyphs">encoder</text>
<text x="1805.0" y="408.0" font-family="Liberation Sans" font-size="15.5" fill="#000" textLength="86.5" lengthAdjust="spacingAndGlyphs">Contrastive</text>
<text x="1834.7" y="430.5" font-family="Liberation Sans" font-size="15.5" fill="#000" textLength="27.9" lengthAdjust="spacingAndGlyphs">loss</text>
<line x1="1778.6" y1="422.0" x2="1778.6" y2="412.0" stroke="#A6A6A6" stroke-width="1.5" />
<line x1="1778.6" y1="412.0" x2="1798.9" y2="412.0" stroke="#A6A6A6" stroke-width="1.5" />
<polygon points="1798.9,412.0 1793.9,409.2 1793.9,414.8" fill="#A6A6A6"/>
<line x1="1927.0" y1="426.9" x2="1927.0" y2="412.0" stroke="#A6A6A6" stroke-width="1.5" />
<line x1="1927.0" y1="412.0" x2="1900.0" y2="412.0" stroke="#A6A6A6" stroke-width="1.5" />
<polygon points="1900.0,412.0 1905.0,414.8 1905.0,409.2" fill="#A6A6A6"/>
<line x1="1778.0" y1="475.0" x2="1778.0" y2="456.5" stroke="#A6A6A6" stroke-width="1.5" />
<polygon points="1778.0,456.5 1775.2,461.5 1780.8,461.5" fill="#A6A6A6"/>
<line x1="1927.0" y1="478.0" x2="1927.0" y2="461.0" stroke="#A6A6A6" stroke-width="1.5" />
<polygon points="1927.0,461.0 1924.2,466.0 1929.8,466.0" fill="#A6A6A6"/>
<line x1="1778.0" y1="520.5" x2="1778.0" y2="504.0" stroke="#A6A6A6" stroke-width="1.5" />
<polygon points="1778.0,504.0 1775.2,509.0 1780.8,509.0" fill="#A6A6A6"/>
<line x1="1927.0" y1="520.0" x2="1927.0" y2="506.0" stroke="#A6A6A6" stroke-width="1.5" />
<polygon points="1927.0,506.0 1924.2,511.0 1929.8,511.0" fill="#A6A6A6"/>
<line x1="1778.0" y1="583.0" x2="1778.0" y2="557.3" stroke="#A6A6A6" stroke-width="1.5" />
<polygon points="1778.0,557.3 1775.2,562.3 1780.8,562.3" fill="#A6A6A6"/>
<line x1="1927.0" y1="583.0" x2="1927.0" y2="556.3" stroke="#A6A6A6" stroke-width="1.5" />
<polygon points="1927.0,556.3 1924.2,561.3 1929.8,561.3" fill="#A6A6A6"/>
<text x="1767.7" y="499.2" font-family="Liberation Serif" font-size="23" fill="#000"><tspan font-style="italic">z</tspan><tspan font-size="16.1" baseline-shift="-5.1">1</tspan></text>
<text x="1916.7" y="500.6" font-family="Liberation Serif" font-size="23" fill="#000"><tspan font-style="italic">z</tspan><tspan font-size="16.1" baseline-shift="-5.1">2</tspan></text>
<text x="1766.4" y="604.9" font-family="Liberation Serif" font-size="23" fill="#000"><tspan font-style="italic">x</tspan><tspan font-size="16.1" baseline-shift="-5.1">1</tspan></text>
<path d="M1770.6,592.1 L1774.0,588.5 L1777.4,592.1" fill="none" stroke="#000" stroke-width="1.2"/>
<text x="1916.0" y="605.5" font-family="Liberation Serif" font-size="23" fill="#000"><tspan font-style="italic">x</tspan><tspan font-size="16.1" baseline-shift="-5.1">2</tspan></text>
<path d="M1920.2,592.7 L1923.6,589.1 L1927.0,592.7" fill="none" stroke="#000" stroke-width="1.2"/>
<text x="1844.5" y="580.5" font-family="Liberation Serif" font-size="23" fill="#000"><tspan font-style="italic">s</tspan></text>
<text x="1843.5" y="663.1" font-family="Liberation Serif" font-size="25" fill="#000"><tspan font-style="italic">x</tspan></text>
<line x1="1849.6" y1="587.3" x2="1849.6" y2="641.4" stroke="#A6A6A6" stroke-width="1.5" />
<polygon points="1849.6,641.4 1852.3,636.4 1846.8,636.4" fill="#A6A6A6"/>
<line x1="1840.9" y1="655.0" x2="1778.6" y2="610.3" stroke="#A6A6A6" stroke-width="1.5" />
<polygon points="1778.6,610.3 1781.1,615.4 1784.3,611.0" fill="#A6A6A6"/>
<line x1="1861.2" y1="655.0" x2="1926.2" y2="611.6" stroke="#A6A6A6" stroke-width="1.5" />
<polygon points="1926.2,611.6 1920.5,612.1 1923.6,616.7" fill="#A6A6A6"/>
<text x="0" y="0" font-family="Liberation Sans" font-size="16" text-anchor="middle" transform="translate(1804.3,645.5) rotate(35.0)" textLength="56.8" lengthAdjust="spacingAndGlyphs">augment</text>
<text x="0" y="0" font-family="Liberation Sans" font-size="16" text-anchor="middle" transform="translate(1900.5,641.5) rotate(-33.0)" textLength="56.8" lengthAdjust="spacingAndGlyphs">augment</text>
<rect x="1981.8" y="426.0" width="97.5" height="32.6" fill="#70AD47" rx="5" stroke="#466F2C" stroke-width="1.2"/>
<text x="2005.2" y="447.2" font-family="Liberation Sans" font-size="13.5" fill="#fff" font-weight="bold" textLength="50.7" lengthAdjust="spacingAndGlyphs">projector</text>
<rect x="2134.8" y="425.0" width="103.0" height="36.3" fill="#70AD47" rx="5" stroke="#466F2C" stroke-width="1.2"/>
<text x="2161.0" y="448.0" font-family="Liberation Sans" font-size="13.5" fill="#fff" font-weight="bold" textLength="50.7" lengthAdjust="spacingAndGlyphs">projector</text>
<rect x="2055.5" y="469.4" width="100.2" height="33.9" fill="#ED7D31" rx="5" stroke="#9E521E" stroke-width="1.2"/>
<text x="2083.7" y="483.8" font-family="Liberation Sans" font-size="13" fill="#fff" font-weight="bold" textLength="43.9" lengthAdjust="spacingAndGlyphs">ClientID</text>
<text x="2080.5" y="498.3" font-family="Liberation Sans" font-size="13" fill="#fff" font-weight="bold" textLength="50.1" lengthAdjust="spacingAndGlyphs">projector</text>
<rect x="1986.4" y="544.0" width="85.6" height="35.0" fill="#5B9BD5" rx="5" stroke="#3A6690" stroke-width="1.2"/>
<text x="2006.9" y="566.4" font-family="Liberation Sans" font-size="13.5" fill="#fff" font-weight="bold" textLength="44.7" lengthAdjust="spacingAndGlyphs">encoder</text>
<rect x="2140.0" y="544.0" width="87.5" height="35.0" fill="#5B9BD5" rx="5" stroke="#3A6690" stroke-width="1.2"/>
<text x="2161.4" y="566.4" font-family="Liberation Sans" font-size="13.5" fill="#fff" font-weight="bold" textLength="44.7" lengthAdjust="spacingAndGlyphs">encoder</text>
<text x="2064.0" y="407.0" font-family="Liberation Sans" font-size="15.5" fill="#000" textLength="86.5" lengthAdjust="spacingAndGlyphs">Contrastive</text>
<text x="2093.0" y="429.6" font-family="Liberation Sans" font-size="15.5" fill="#000" textLength="28.0" lengthAdjust="spacingAndGlyphs">loss</text>
<text x="2074.7" y="542.6" font-family="Liberation Sans" font-size="15.5" fill="#000" textLength="60.3" lengthAdjust="spacingAndGlyphs">ClientID</text>
<text x="2091.0" y="565.6" font-family="Liberation Sans" font-size="15.5" fill="#000" textLength="28.0" lengthAdjust="spacingAndGlyphs">loss</text>
<line x1="2030.0" y1="426.0" x2="2030.0" y2="412.0" stroke="#A6A6A6" stroke-width="1.5" />
<line x1="2030.0" y1="412.0" x2="2049.5" y2="412.0" stroke="#A6A6A6" stroke-width="1.5" />
<polygon points="2049.5,412.0 2044.5,409.2 2044.5,414.8" fill="#A6A6A6"/>
<line x1="2185.0" y1="425.0" x2="2185.0" y2="412.0" stroke="#A6A6A6" stroke-width="1.5" />
<line x1="2185.0" y1="412.0" x2="2166.0" y2="412.0" stroke="#A6A6A6" stroke-width="1.5" />
<polygon points="2166.0,412.0 2171.0,414.8 2171.0,409.2" fill="#A6A6A6"/>
<line x1="2030.0" y1="499.2" x2="2030.0" y2="459.0" stroke="#A6A6A6" stroke-width="1.5" />
<polygon points="2030.0,459.0 2027.2,464.0 2032.8,464.0" fill="#A6A6A6"/>
<line x1="2030.0" y1="486.2" x2="2055.0" y2="486.2" stroke="#A6A6A6" stroke-width="1.5" />
<polygon points="2055.0,486.2 2050.0,483.4 2050.0,488.9" fill="#A6A6A6"/>
<line x1="2185.0" y1="501.9" x2="2185.0" y2="461.8" stroke="#A6A6A6" stroke-width="1.5" />
<polygon points="2185.0,461.8 2182.2,466.8 2187.8,466.8" fill="#A6A6A6"/>
<line x1="2185.0" y1="486.2" x2="2156.2" y2="486.2" stroke="#A6A6A6" stroke-width="1.5" />
<polygon points="2156.2,486.2 2161.2,488.9 2161.2,483.4" fill="#A6A6A6"/>
<line x1="2105.6" y1="503.5" x2="2105.6" y2="520.9" stroke="#A6A6A6" stroke-width="1.5" />
<polygon points="2105.6,520.9 2108.3,515.9 2102.8,515.9" fill="#A6A6A6"/>
<line x1="2029.0" y1="543.5" x2="2029.0" y2="529.0" stroke="#A6A6A6" stroke-width="1.5" />
<polygon points="2029.0,529.0 2026.2,534.0 2031.8,534.0" fill="#A6A6A6"/>
<line x1="2184.0" y1="543.5" x2="2184.0" y2="533.0" stroke="#A6A6A6" stroke-width="1.5" />
<polygon points="2184.0,533.0 2181.2,538.0 2186.8,538.0" fill="#A6A6A6"/>
<line x1="2028.0" y1="600.8" x2="2028.0" y2="579.5" stroke="#A6A6A6" stroke-width="1.5" />
<polygon points="2028.0,579.5 2025.2,584.5 2030.8,584.5" fill="#A6A6A6"/>
<line x1="2183.6" y1="603.5" x2="2183.6" y2="579.5" stroke="#A6A6A6" stroke-width="1.5" />
<polygon points="2183.6,579.5 2180.8,584.5 2186.3,584.5" fill="#A6A6A6"/>
<line x1="2106.0" y1="596.7" x2="2106.0" y2="576.4" stroke="#A6A6A6" stroke-width="1.5" />
<polygon points="2106.0,576.4 2103.2,581.4 2108.8,581.4" fill="#A6A6A6"/>
<line x1="2106.0" y1="625.2" x2="2106.0" y2="649.6" stroke="#A6A6A6" stroke-width="1.5" />
<polygon points="2106.0,649.6 2108.8,644.6 2103.2,644.6" fill="#A6A6A6"/>
<text x="2019.7" y="522.2" font-family="Liberation Serif" font-size="23" fill="#000"><tspan font-style="italic">z</tspan><tspan font-size="16.1" baseline-shift="-5.1">1</tspan></text>
<text x="2174.7" y="527.7" font-family="Liberation Serif" font-size="23" fill="#000"><tspan font-style="italic">z</tspan><tspan font-size="16.1" baseline-shift="-5.1">2</tspan></text>
<text x="2018.3" y="622.5" font-family="Liberation Serif" font-size="23" fill="#000"><tspan font-style="italic">x</tspan><tspan font-size="16.1" baseline-shift="-5.1">1</tspan></text>
<path d="M2022.5,609.7 L2025.9,606.1 L2029.3,609.7" fill="none" stroke="#000" stroke-width="1.2"/>
<text x="2174.1" y="626.5" font-family="Liberation Serif" font-size="23" fill="#000"><tspan font-style="italic">x</tspan><tspan font-size="16.1" baseline-shift="-5.1">2</tspan></text>
<path d="M2178.3,613.7 L2181.7,610.1 L2185.1,613.7" fill="none" stroke="#000" stroke-width="1.2"/>
<text x="2101.5" y="618.4" font-family="Liberation Serif" font-size="23" fill="#000"><tspan font-style="italic">s</tspan></text>
<text x="2100.5" y="672.6" font-family="Liberation Serif" font-size="25" fill="#000"><tspan font-style="italic">x</tspan></text>
<line x1="2095.6" y1="664.5" x2="2030.0" y2="630.6" stroke="#A6A6A6" stroke-width="1.5" />
<polygon points="2030.0,630.6 2033.2,635.3 2035.7,630.5" fill="#A6A6A6"/>
<line x1="2118.6" y1="664.5" x2="2183.6" y2="633.3" stroke="#A6A6A6" stroke-width="1.5" />
<polygon points="2183.6,633.3 2177.9,633.0 2180.3,637.9" fill="#A6A6A6"/>
<text x="0" y="0" font-family="Liberation Sans" font-size="16" text-anchor="middle" transform="translate(2063.0,662.0) rotate(28.0)" textLength="56.8" lengthAdjust="spacingAndGlyphs">augment</text>
<text x="0" y="0" font-family="Liberation Sans" font-size="16" text-anchor="middle" transform="translate(2155.2,658.0) rotate(-25.0)" textLength="56.8" lengthAdjust="spacingAndGlyphs">augment</text>
<rect x="2233.3" y="308.4" width="99.7" height="33.0" fill="#70AD47" rx="5" stroke="#466F2C" stroke-width="1.2"/>
<text x="2258.1" y="329.8" font-family="Liberation Sans" font-size="13.5" fill="#fff" font-weight="bold" textLength="50.2" lengthAdjust="spacingAndGlyphs">projector</text>
<rect x="2429.8" y="308.4" width="92.7" height="33.0" fill="#70AD47" rx="5" stroke="#466F2C" stroke-width="1.2"/>
<text x="2451.1" y="329.8" font-family="Liberation Sans" font-size="13.5" fill="#fff" font-weight="bold" textLength="50.2" lengthAdjust="spacingAndGlyphs">projector</text>
<rect x="2307.7" y="357.5" width="124.3" height="42.9" fill="#A5A5A5" rx="8" stroke="#7F7F7F" stroke-width="1.2"/>
<text x="2328.1" y="383.4" font-family="Liberation Sans" font-size="12.5" fill="#fff" font-weight="bold" textLength="83.5" lengthAdjust="spacingAndGlyphs">Label projector</text>
<rect x="2316.5" y="439.0" width="110.5" height="44.0" fill="#ED7D31" rx="8" stroke="#9E521E" stroke-width="1.2"/>
<text x="2350.2" y="458.4" font-family="Liberation Sans" font-size="13" fill="#fff" font-weight="bold" textLength="43.2" lengthAdjust="spacingAndGlyphs">ClientID</text>
<text x="2346.7" y="473.0" font-family="Liberation Sans" font-size="13" fill="#fff" font-weight="bold" textLength="50.2" lengthAdjust="spacingAndGlyphs">projector</text>
<rect x="2238.0" y="529.5" width="89.7" height="36.5" fill="#5B9BD5" rx="5" stroke="#3A6690" stroke-width="1.2"/>
<text x="2260.4" y="552.6" font-family="Liberation Sans" font-size="13.5" fill="#fff" font-weight="bold" textLength="44.9" lengthAdjust="spacingAndGlyphs">encoder</text>
<rect x="2429.0" y="531.0" width="89.6" height="30.8" fill="#5B9BD5" rx="5" stroke="#3A6690" stroke-width="1.2"/>
<text x="2451.4" y="551.3" font-family="Liberation Sans" font-size="13.5" fill="#fff" font-weight="bold" textLength="44.9" lengthAdjust="spacingAndGlyphs">encoder</text>
<text x="2332.0" y="291.0" font-family="Liberation Sans" font-size="15.5" fill="#000" textLength="87.0" lengthAdjust="spacingAndGlyphs">Contrastive</text>
<text x="2361.0" y="313.0" font-family="Liberation Sans" font-size="15.5" fill="#000" textLength="28.0" lengthAdjust="spacingAndGlyphs">loss</text>
<text x="2332.0" y="430.0" font-family="Liberation Sans" font-size="15.5" fill="#000" textLength="74.0" lengthAdjust="spacingAndGlyphs">Label loss</text>
<text x="2321.8" y="512.6" font-family="Liberation Sans" font-size="15.5" fill="#000" textLength="98.2" lengthAdjust="spacingAndGlyphs">Client ID loss</text>
<line x1="2282.5" y1="308.4" x2="2282.5" y2="295.0" stroke="#A6A6A6" stroke-width="1.5" />
<line x1="2282.5" y1="295.0" x2="2311.2" y2="295.0" stroke="#A6A6A6" stroke-width="1.5" />
<polygon points="2311.2,295.0 2306.2,292.2 2306.2,297.8" fill="#A6A6A6"/>
<line x1="2475.4" y1="308.4" x2="2475.4" y2="295.0" stroke="#A6A6A6" stroke-width="1.5" />
<line x1="2475.4" y1="295.0" x2="2441.0" y2="295.0" stroke="#A6A6A6" stroke-width="1.5" />
<polygon points="2441.0,295.0 2446.0,297.8 2446.0,292.2" fill="#A6A6A6"/>
<line x1="2282.5" y1="484.6" x2="2282.5" y2="341.9" stroke="#A6A6A6" stroke-width="1.5" />
<polygon points="2282.5,341.9 2279.8,346.9 2285.2,346.9" fill="#A6A6A6"/>
<line x1="2282.5" y1="378.6" x2="2307.2" y2="378.6" stroke="#A6A6A6" stroke-width="1.5" />
<polygon points="2307.2,378.6 2302.2,375.9 2302.2,381.4" fill="#A6A6A6"/>
<line x1="2282.5" y1="460.0" x2="2316.0" y2="460.0" stroke="#A6A6A6" stroke-width="1.5" />
<polygon points="2316.0,460.0 2311.0,457.2 2311.0,462.8" fill="#A6A6A6"/>
<line x1="2475.4" y1="482.8" x2="2475.4" y2="341.9" stroke="#A6A6A6" stroke-width="1.5" />
<polygon points="2475.4,341.9 2472.7,346.9 2478.2,346.9" fill="#A6A6A6"/>
<line x1="2475.4" y1="378.6" x2="2432.5" y2="378.6" stroke="#A6A6A6" stroke-width="1.5" />
<polygon points="2432.5,378.6 2437.5,381.4 2437.5,375.9" fill="#A6A6A6"/>
<line x1="2475.4" y1="460.0" x2="2427.5" y2="460.0" stroke="#A6A6A6" stroke-width="1.5" />
<polygon points="2427.5,460.0 2432.5,462.8 2432.5,457.2" fill="#A6A6A6"/>
<line x1="2370.2" y1="400.6" x2="2370.2" y2="407.4" stroke="#A6A6A6" stroke-width="1.5" />
<polygon points="2370.2,407.4 2372.4,403.4 2368.0,403.4" fill="#A6A6A6"/>
<line x1="2370.9" y1="483.2" x2="2370.9" y2="491.6" stroke="#A6A6A6" stroke-width="1.5" />
<polygon points="2370.9,491.6 2373.1,487.6 2368.7,487.6" fill="#A6A6A6"/>
<polyline points="2383.2,585.6 2536.5,585.6 2536.5,423.2 2440,423.2" fill="none" stroke="#A6A6A6" stroke-width="1.5"/>
<line x1="2445.0" y1="423.2" x2="2434.7" y2="423.2" stroke="#A6A6A6" stroke-width="1.5" />
<polygon points="2434.7,423.2 2439.7,425.9 2439.7,420.4" fill="#A6A6A6"/>
<line x1="2371.0" y1="528.4" x2="2371.0" y2="521.4" stroke="#A6A6A6" stroke-width="1.5" />
<polygon points="2371.0,521.4 2368.8,525.4 2373.2,525.4" fill="#A6A6A6"/>
<line x1="2371.0" y1="558.2" x2="2371.0" y2="570.5" stroke="#A6A6A6" stroke-width="1.5" />
<polygon points="2371.0,570.5 2373.2,566.5 2368.8,566.5" fill="#A6A6A6"/>
<line x1="2371.0" y1="598.6" x2="2374.0" y2="639.0" stroke="#A6A6A6" stroke-width="1.5" />
<polygon points="2374.0,639.0 2376.4,633.8 2370.9,634.2" fill="#A6A6A6"/>
<line x1="2283.0" y1="529.5" x2="2283.0" y2="512.6" stroke="#A6A6A6" stroke-width="1.5" />
<polygon points="2283.0,512.6 2280.2,517.6 2285.8,517.6" fill="#A6A6A6"/>
<line x1="2474.0" y1="531.0" x2="2475.0" y2="512.6" stroke="#A6A6A6" stroke-width="1.5" />
<polygon points="2475.0,512.6 2472.0,517.4 2477.5,517.7" fill="#A6A6A6"/>
<line x1="2280.0" y1="586.3" x2="2281.0" y2="566.5" stroke="#A6A6A6" stroke-width="1.5" />
<polygon points="2281.0,566.5 2278.0,571.4 2283.5,571.6" fill="#A6A6A6"/>
<line x1="2471.0" y1="586.3" x2="2472.0" y2="562.3" stroke="#A6A6A6" stroke-width="1.5" />
<polygon points="2472.0,562.3 2469.0,567.2 2474.5,567.4" fill="#A6A6A6"/>
<text x="2272.0" y="505.6" font-family="Liberation Serif" font-size="23" fill="#000"><tspan font-style="italic">z</tspan><tspan font-size="16.1" baseline-shift="-5.1">1</tspan></text>
<text x="2465.0" y="505.6" font-family="Liberation Serif" font-size="23" fill="#000"><tspan font-style="italic">z</tspan><tspan font-size="16.1" baseline-shift="-5.1">2</tspan></text>
<text x="2268.5" y="610.9" font-family="Liberation Serif" font-size="23" fill="#000"><tspan font-style="italic">x</tspan><tspan font-size="16.1" baseline-shift="-5.1">1</tspan></text>
<path d="M2272.7,598.1 L2276.1,594.5 L2279.5,598.1" fill="none" stroke="#000" stroke-width="1.2"/>
<text x="2460.5" y="614.4" font-family="Liberation Serif" font-size="23" fill="#000"><tspan font-style="italic">x</tspan><tspan font-size="16.1" baseline-shift="-5.1">2</tspan></text>
<path d="M2464.7,601.6 L2468.1,598.0 L2471.5,601.6" fill="none" stroke="#000" stroke-width="1.2"/>
<text x="2366.0" y="551.2" font-family="Liberation Serif" font-size="23" fill="#000"><tspan font-style="italic">s</tspan></text>
<text x="2364.5" y="591.6" font-family="Liberation Serif" font-size="23" fill="#000"><tspan font-style="italic">y</tspan></text>
<text x="2368.0" y="661.8" font-family="Liberation Serif" font-size="25" fill="#000"><tspan font-style="italic">x</tspan></text>
<line x1="2365.6" y1="654.7" x2="2279.6" y2="616.1" stroke="#A6A6A6" stroke-width="1.5" />
<polygon points="2279.6,616.1 2283.0,620.7 2285.3,615.6" fill="#A6A6A6"/>
<line x1="2385.0" y1="654.7" x2="2470.9" y2="619.6" stroke="#A6A6A6" stroke-width="1.5" />
<polygon points="2470.9,619.6 2465.2,618.9 2467.3,624.0" fill="#A6A6A6"/>
<text x="0" y="0" font-family="Liberation Sans" font-size="16" text-anchor="middle" transform="translate(2314.0,653.0) rotate(22.0)" textLength="56.8" lengthAdjust="spacingAndGlyphs">augment</text>
<text x="0" y="0" font-family="Liberation Sans" font-size="16" text-anchor="middle" transform="translate(2430.0,650.0) rotate(-22.0)" textLength="56.8" lengthAdjust="spacingAndGlyphs">augment</text>
<line x1="1251.5" y1="1195.7" x2="1894.0" y2="1195.7" stroke="#444" stroke-width="1.8" />
<line x1="1251.5" y1="1219.3" x2="1894.0" y2="1219.3" stroke="#444" stroke-width="1.0" />
<line x1="1251.5" y1="1243.2" x2="1894.0" y2="1243.2" stroke="#444" stroke-width="1.0" />
<line x1="1251.5" y1="1282.0" x2="1894.0" y2="1282.0" stroke="#444" stroke-width="1.0" />
<line x1="1251.5" y1="1320.8" x2="1894.0" y2="1320.8" stroke="#444" stroke-width="1.0" />
<line x1="1251.5" y1="1359.6" x2="1894.0" y2="1359.6" stroke="#444" stroke-width="1.0" />
<line x1="1251.5" y1="1383.2" x2="1894.0" y2="1383.2" stroke="#444" stroke-width="1.8" />
<text x="0" y="0" transform="translate(1507.3,1211.6) scale(0.87,1)" font-family="Liberation Serif" font-size="16.5" fill="#1a1a1a" text-anchor="middle" stroke="#1a1a1a" stroke-width="0.3">CIFAR 10</text>
<text x="0" y="0" transform="translate(1764.6,1211.6) scale(0.87,1)" font-family="Liberation Serif" font-size="16.5" fill="#1a1a1a" text-anchor="middle" stroke="#1a1a1a" stroke-width="0.3">CIFAR 100</text>
<text x="0" y="0" transform="translate(1259.5,1235.0) scale(0.87,1)" font-family="Liberation Serif" font-size="16.5" fill="#1a1a1a" stroke="#1a1a1a" stroke-width="0.3">Method</text>
<text x="0" y="0" transform="translate(1420.0,1235.0) scale(0.87,1)" font-family="Liberation Serif" font-size="16.5" fill="#1a1a1a" text-anchor="middle" stroke="#1a1a1a" stroke-width="0.3">Label skew</text>
<text x="0" y="0" transform="translate(1511.6,1235.0) scale(0.87,1)" font-family="Liberation Serif" font-size="16.5" fill="#1a1a1a" text-anchor="middle" stroke="#1a1a1a" stroke-width="0.3">Covariate shift</text>
<text x="0" y="0" transform="translate(1599.0,1235.0) scale(0.87,1)" font-family="Liberation Serif" font-size="16.5" fill="#1a1a1a" text-anchor="middle" stroke="#1a1a1a" stroke-width="0.3">Joint shift</text>
<text x="0" y="0" transform="translate(1677.4,1235.0) scale(0.87,1)" font-family="Liberation Serif" font-size="16.5" fill="#1a1a1a" text-anchor="middle" stroke="#1a1a1a" stroke-width="0.3">Label skew</text>
<text x="0" y="0" transform="translate(1768.6,1235.0) scale(0.87,1)" font-family="Liberation Serif" font-size="16.5" fill="#1a1a1a" text-anchor="middle" stroke="#1a1a1a" stroke-width="0.3">Covariate shift</text>
<text x="0" y="0" transform="translate(1856.5,1235.0) scale(0.87,1)" font-family="Liberation Serif" font-size="16.5" fill="#1a1a1a" text-anchor="middle" stroke="#1a1a1a" stroke-width="0.3">Joint shift</text>
<text x="0" y="0" transform="translate(1259.5,1258.4) scale(0.87,1)" font-family="Liberation Serif" font-size="16.5" fill="#1a1a1a" stroke="#1a1a1a" stroke-width="0.3">Local SimCLR</text>
<text x="1420.0" y="1258.4" font-family="Liberation Serif" font-size="16.5" fill="#1a1a1a" stroke="#1a1a1a" stroke-width="0.3" text-anchor="middle"><tspan>79.4</tspan><tspan font-size="11.9" baseline-shift="-3.3">±0.2</tspan></text>
<text x="1511.6" y="1258.4" font-family="Liberation Serif" font-size="16.5" fill="#1a1a1a" stroke="#1a1a1a" stroke-width="0.3" text-anchor="middle"><tspan font-weight="bold">74.3</tspan><tspan font-size="11.9" baseline-shift="-3.3" font-weight="bold">±0.3</tspan></text>
<text x="1599.0" y="1258.4" font-family="Liberation Serif" font-size="16.5" fill="#1a1a1a" stroke="#1a1a1a" stroke-width="0.3" text-anchor="middle"><tspan>71.0</tspan><tspan font-size="11.9" baseline-shift="-3.3">±0.4</tspan></text>
<text x="1677.4" y="1258.4" font-family="Liberation Serif" font-size="16.5" fill="#1a1a1a" stroke="#1a1a1a" stroke-width="0.3" text-anchor="middle"><tspan>42.2</tspan><tspan font-size="11.9" baseline-shift="-3.3">±0.2</tspan></text>
<text x="1768.6" y="1258.4" font-family="Liberation Serif" font-size="16.5" fill="#1a1a1a" stroke="#1a1a1a" stroke-width="0.3" text-anchor="middle"><tspan font-weight="bold">41.2</tspan><tspan font-size="11.9" baseline-shift="-3.3" font-weight="bold">±0.2</tspan></text>
<text x="1856.5" y="1258.4" font-family="Liberation Serif" font-size="16.5" fill="#1a1a1a" stroke="#1a1a1a" stroke-width="0.3" text-anchor="middle"><tspan>38.1</tspan><tspan font-size="11.9" baseline-shift="-3.3">±0.3</tspan></text>
<text x="0" y="0" transform="translate(1259.5,1274.0) scale(0.87,1)" font-family="Liberation Serif" font-size="16.5" fill="#1a1a1a" stroke="#1a1a1a" stroke-width="0.3">Federated SimCLR</text>
<text x="1420.0" y="1274.0" font-family="Liberation Serif" font-size="16.5" fill="#1a1a1a" stroke="#1a1a1a" stroke-width="0.3" text-anchor="middle"><tspan font-weight="bold">85.0</tspan><tspan font-size="11.9" baseline-shift="-3.3" font-weight="bold">±0.2</tspan></text>
<text x="1511.6" y="1274.0" font-family="Liberation Serif" font-size="16.5" fill="#1a1a1a" stroke="#1a1a1a" stroke-width="0.3" text-anchor="middle"><tspan>73.8</tspan><tspan font-size="11.9" baseline-shift="-3.3">±0.2</tspan></text>
<text x="1599.0" y="1274.0" font-family="Liberation Serif" font-size="16.5" fill="#1a1a1a" stroke="#1a1a1a" stroke-width="0.3" text-anchor="middle"><tspan font-weight="bold">74.8</tspan><tspan font-size="11.9" baseline-shift="-3.3" font-weight="bold">±0.5</tspan></text>
<text x="1677.4" y="1274.0" font-family="Liberation Serif" font-size="16.5" fill="#1a1a1a" stroke="#1a1a1a" stroke-width="0.3" text-anchor="middle"><tspan font-weight="bold">48.5</tspan><tspan font-size="11.9" baseline-shift="-3.3" font-weight="bold">±0.1</tspan></text>
<text x="1768.6" y="1274.0" font-family="Liberation Serif" font-size="16.5" fill="#1a1a1a" stroke="#1a1a1a" stroke-width="0.3" text-anchor="middle"><tspan>39.5</tspan><tspan font-size="11.9" baseline-shift="-3.3">±0.2</tspan></text>
<text x="1856.5" y="1274.0" font-family="Liberation Serif" font-size="16.5" fill="#1a1a1a" stroke="#1a1a1a" stroke-width="0.3" text-anchor="middle"><tspan font-weight="bold">43.1</tspan><tspan font-size="11.9" baseline-shift="-3.3" font-weight="bold">±0.2</tspan></text>
<text x="0" y="0" transform="translate(1259.5,1297.2) scale(0.87,1)" font-family="Liberation Serif" font-size="16.5" fill="#1a1a1a" stroke="#1a1a1a" stroke-width="0.3">Spectral CL</text>
<text x="1420.0" y="1297.2" font-family="Liberation Serif" font-size="16.5" fill="#1a1a1a" stroke="#1a1a1a" stroke-width="0.3" text-anchor="middle"><tspan>76.5</tspan><tspan font-size="11.9" baseline-shift="-3.3">±1.1</tspan></text>
<text x="1511.6" y="1297.2" font-family="Liberation Serif" font-size="16.5" fill="#1a1a1a" stroke="#1a1a1a" stroke-width="0.3" text-anchor="middle"><tspan font-weight="bold">73.5</tspan><tspan font-size="11.9" baseline-shift="-3.3" font-weight="bold">±0.4</tspan></text>
<text x="1599.0" y="1297.2" font-family="Liberation Serif" font-size="16.5" fill="#1a1a1a" stroke="#1a1a1a" stroke-width="0.3" text-anchor="middle"><tspan>68.2</tspan><tspan font-size="11.9" baseline-shift="-3.3">±0.6</tspan></text>
<text x="1677.4" y="1297.2" font-family="Liberation Serif" font-size="16.5" fill="#1a1a1a" stroke="#1a1a1a" stroke-width="0.3" text-anchor="middle"><tspan>33.3</tspan><tspan font-size="11.9" baseline-shift="-3.3">±6.0</tspan></text>
<text x="1768.6" y="1297.2" font-family="Liberation Serif" font-size="16.5" fill="#1a1a1a" stroke="#1a1a1a" stroke-width="0.3" text-anchor="middle"><tspan font-weight="bold">33.6</tspan><tspan font-size="11.9" baseline-shift="-3.3" font-weight="bold">±2.3</tspan></text>
<text x="1856.5" y="1297.2" font-family="Liberation Serif" font-size="16.5" fill="#1a1a1a" stroke="#1a1a1a" stroke-width="0.3" text-anchor="middle"><tspan font-weight="bold">29.6</tspan><tspan font-size="11.9" baseline-shift="-3.3" font-weight="bold">±6.2</tspan></text>
<text x="0" y="0" transform="translate(1259.5,1313.0) scale(0.87,1)" font-family="Liberation Serif" font-size="16.5" fill="#1a1a1a" stroke="#1a1a1a" stroke-width="0.3">Spectral CL + UV</text>
<text x="1420.0" y="1313.0" font-family="Liberation Serif" font-size="16.5" fill="#1a1a1a" stroke="#1a1a1a" stroke-width="0.3" text-anchor="middle"><tspan font-weight="bold">87.8</tspan><tspan font-size="11.9" baseline-shift="-3.3" font-weight="bold">±0.3</tspan></text>
<text x="1511.6" y="1313.0" font-family="Liberation Serif" font-size="16.5" fill="#1a1a1a" stroke="#1a1a1a" stroke-width="0.3" text-anchor="middle"><tspan>71.7</tspan><tspan font-size="11.9" baseline-shift="-3.3">±0.5</tspan></text>
<text x="1599.0" y="1313.0" font-family="Liberation Serif" font-size="16.5" fill="#1a1a1a" stroke="#1a1a1a" stroke-width="0.3" text-anchor="middle"><tspan font-weight="bold">76.6</tspan><tspan font-size="11.9" baseline-shift="-3.3" font-weight="bold">±0.6</tspan></text>
<text x="1677.4" y="1313.0" font-family="Liberation Serif" font-size="16.5" fill="#1a1a1a" stroke="#1a1a1a" stroke-width="0.3" text-anchor="middle"><tspan font-weight="bold">41.0</tspan><tspan font-size="11.9" baseline-shift="-3.3" font-weight="bold">±6.4</tspan></text>
<text x="1768.6" y="1313.0" font-family="Liberation Serif" font-size="16.5" fill="#1a1a1a" stroke="#1a1a1a" stroke-width="0.3" text-anchor="middle"><tspan>29.3</tspan><tspan font-size="11.9" baseline-shift="-3.3">±4.8</tspan></text>
<text x="1856.5" y="1313.0" font-family="Liberation Serif" font-size="16.5" fill="#1a1a1a" stroke="#1a1a1a" stroke-width="0.3" text-anchor="middle"><tspan>21.5</tspan><tspan font-size="11.9" baseline-shift="-3.3">±6.2</tspan></text>
<text x="0" y="0" transform="translate(1259.5,1336.0) scale(0.87,1)" font-family="Liberation Serif" font-size="16.5" fill="#1a1a1a" stroke="#1a1a1a" stroke-width="0.3">SimSiam</text>
<text x="1420.0" y="1336.0" font-family="Liberation Serif" font-size="16.5" fill="#1a1a1a" stroke="#1a1a1a" stroke-width="0.3" text-anchor="middle"><tspan font-weight="bold">40.0</tspan><tspan font-size="11.9" baseline-shift="-3.3" font-weight="bold">±0.5</tspan></text>
<text x="1511.6" y="1336.0" font-family="Liberation Serif" font-size="16.5" fill="#1a1a1a" stroke="#1a1a1a" stroke-width="0.3" text-anchor="middle"><tspan font-weight="bold">39.9</tspan><tspan font-size="11.9" baseline-shift="-3.3" font-weight="bold">±0.3</tspan></text>
<text x="1599.0" y="1336.0" font-family="Liberation Serif" font-size="16.5" fill="#1a1a1a" stroke="#1a1a1a" stroke-width="0.3" text-anchor="middle"><tspan font-weight="bold">39.6</tspan><tspan font-size="11.9" baseline-shift="-3.3" font-weight="bold">±0.3</tspan></text>
<text x="1677.4" y="1336.0" font-family="Liberation Serif" font-size="16.5" fill="#1a1a1a" stroke="#1a1a1a" stroke-width="0.3" text-anchor="middle"><tspan>16.9</tspan><tspan font-size="11.9" baseline-shift="-3.3">±0.3</tspan></text>
<text x="1768.6" y="1336.0" font-family="Liberation Serif" font-size="16.5" fill="#1a1a1a" stroke="#1a1a1a" stroke-width="0.3" text-anchor="middle"><tspan>16.6</tspan><tspan font-size="11.9" baseline-shift="-3.3">±0.4</tspan></text>
<text x="1856.5" y="1336.0" font-family="Liberation Serif" font-size="16.5" fill="#1a1a1a" stroke="#1a1a1a" stroke-width="0.3" text-anchor="middle"><tspan>16.9</tspan><tspan font-size="11.9" baseline-shift="-3.3">±0.4</tspan></text>
<text x="0" y="0" transform="translate(1259.5,1352.4) scale(0.87,1)" font-family="Liberation Serif" font-size="16.5" fill="#1a1a1a" stroke="#1a1a1a" stroke-width="0.3">SimSiam + UV</text>
<text x="1420.0" y="1352.4" font-family="Liberation Serif" font-size="16.5" fill="#1a1a1a" stroke="#1a1a1a" stroke-width="0.3" text-anchor="middle"><tspan>35.4</tspan><tspan font-size="11.9" baseline-shift="-3.3">±0.4</tspan></text>
<text x="1511.6" y="1352.4" font-family="Liberation Serif" font-size="16.5" fill="#1a1a1a" stroke="#1a1a1a" stroke-width="0.3" text-anchor="middle"><tspan>35.4</tspan><tspan font-size="11.9" baseline-shift="-3.3">±0.2</tspan></text>
<text x="1599.0" y="1352.4" font-family="Liberation Serif" font-size="16.5" fill="#1a1a1a" stroke="#1a1a1a" stroke-width="0.3" text-anchor="middle"><tspan>34.5</tspan><tspan font-size="11.9" baseline-shift="-3.3">±0.3</tspan></text>
<text x="1677.4" y="1352.4" font-family="Liberation Serif" font-size="16.5" fill="#1a1a1a" stroke="#1a1a1a" stroke-width="0.3" text-anchor="middle"><tspan>16.5</tspan><tspan font-size="11.9" baseline-shift="-3.3">±0.2</tspan></text>
<text x="1768.6" y="1352.4" font-family="Liberation Serif" font-size="16.5" fill="#1a1a1a" stroke="#1a1a1a" stroke-width="0.3" text-anchor="middle"><tspan>16.5</tspan><tspan font-size="11.9" baseline-shift="-3.3">±0.3</tspan></text>
<text x="1856.5" y="1352.4" font-family="Liberation Serif" font-size="16.5" fill="#1a1a1a" stroke="#1a1a1a" stroke-width="0.3" text-anchor="middle"><tspan>16.3</tspan><tspan font-size="11.9" baseline-shift="-3.3">±0.5</tspan></text>
<text x="0" y="0" transform="translate(1259.5,1374.8) scale(0.87,1)" font-family="Liberation Serif" font-size="16.5" fill="#1a1a1a" stroke="#1a1a1a" stroke-width="0.3">Supervised</text>
<text x="1420.0" y="1374.8" font-family="Liberation Serif" font-size="16.5" fill="#1a1a1a" stroke="#1a1a1a" stroke-width="0.3" text-anchor="middle"><tspan>89.6</tspan><tspan font-size="11.9" baseline-shift="-3.3">±0.1</tspan></text>
<text x="1511.6" y="1374.8" font-family="Liberation Serif" font-size="16.5" fill="#1a1a1a" stroke="#1a1a1a" stroke-width="0.3" text-anchor="middle"><tspan>78.3</tspan><tspan font-size="11.9" baseline-shift="-3.3">±0.4</tspan></text>
<text x="1599.0" y="1374.8" font-family="Liberation Serif" font-size="16.5" fill="#1a1a1a" stroke="#1a1a1a" stroke-width="0.3" text-anchor="middle"><tspan>76.3</tspan><tspan font-size="11.9" baseline-shift="-3.3">±1.1</tspan></text>
<text x="1677.4" y="1374.8" font-family="Liberation Serif" font-size="16.5" fill="#1a1a1a" stroke="#1a1a1a" stroke-width="0.3" text-anchor="middle"><tspan>59.2</tspan><tspan font-size="11.9" baseline-shift="-3.3">±0.2</tspan></text>
<text x="1768.6" y="1374.8" font-family="Liberation Serif" font-size="16.5" fill="#1a1a1a" stroke="#1a1a1a" stroke-width="0.3" text-anchor="middle"><tspan>47.9</tspan><tspan font-size="11.9" baseline-shift="-3.3">±0.2</tspan></text>
<text x="1856.5" y="1374.8" font-family="Liberation Serif" font-size="16.5" fill="#1a1a1a" stroke="#1a1a1a" stroke-width="0.3" text-anchor="middle"><tspan>43.9</tspan><tspan font-size="11.9" baseline-shift="-3.3">±0.3</tspan></text>
<line x1="1254.4" y1="1517.3" x2="1895.4" y2="1517.3" stroke="#444" stroke-width="1.8" />
<line x1="1254.4" y1="1540.3" x2="1895.4" y2="1540.3" stroke="#444" stroke-width="1.0" />
<line x1="1254.4" y1="1563.8" x2="1895.4" y2="1563.8" stroke="#444" stroke-width="1.0" />
<line x1="1254.4" y1="1602.6" x2="1895.4" y2="1602.6" stroke="#444" stroke-width="1.0" />
<line x1="1254.4" y1="1641.4" x2="1895.4" y2="1641.4" stroke="#444" stroke-width="1.0" />
<line x1="1254.4" y1="1680.2" x2="1895.4" y2="1680.2" stroke="#444" stroke-width="1.0" />
<line x1="1254.4" y1="1703.2" x2="1895.4" y2="1703.2" stroke="#444" stroke-width="1.8" />
<text x="0" y="0" transform="translate(1509.3,1533.7) scale(0.87,1)" font-family="Liberation Serif" font-size="16.5" fill="#1a1a1a" text-anchor="middle" stroke="#1a1a1a" stroke-width="0.3">CIFAR 10</text>
<text x="0" y="0" transform="translate(1766.0,1533.7) scale(0.87,1)" font-family="Liberation Serif" font-size="16.5" fill="#1a1a1a" text-anchor="middle" stroke="#1a1a1a" stroke-width="0.3">CIFAR 100</text>
<text x="0" y="0" transform="translate(1263.0,1556.7) scale(0.87,1)" font-family="Liberation Serif" font-size="16.5" fill="#1a1a1a" stroke="#1a1a1a" stroke-width="0.3">Method</text>
<text x="0" y="0" transform="translate(1422.0,1556.7) scale(0.87,1)" font-family="Liberation Serif" font-size="16.5" fill="#1a1a1a" text-anchor="middle" stroke="#1a1a1a" stroke-width="0.3">Label skew</text>
<text x="0" y="0" transform="translate(1513.0,1556.7) scale(0.87,1)" font-family="Liberation Serif" font-size="16.5" fill="#1a1a1a" text-anchor="middle" stroke="#1a1a1a" stroke-width="0.3">Covariate shift</text>
<text x="0" y="0" transform="translate(1600.0,1556.7) scale(0.87,1)" font-family="Liberation Serif" font-size="16.5" fill="#1a1a1a" text-anchor="middle" stroke="#1a1a1a" stroke-width="0.3">Joint shift</text>
<text x="0" y="0" transform="translate(1679.2,1556.7) scale(0.87,1)" font-family="Liberation Serif" font-size="16.5" fill="#1a1a1a" text-anchor="middle" stroke="#1a1a1a" stroke-width="0.3">Label Skew</text>
<text x="0" y="0" transform="translate(1771.8,1556.7) scale(0.87,1)" font-family="Liberation Serif" font-size="16.5" fill="#1a1a1a" text-anchor="middle" stroke="#1a1a1a" stroke-width="0.3">Covariate shift</text>
<text x="0" y="0" transform="translate(1858.6,1556.7) scale(0.87,1)" font-family="Liberation Serif" font-size="16.5" fill="#1a1a1a" text-anchor="middle" stroke="#1a1a1a" stroke-width="0.3">Joint shift</text>
<text x="0" y="0" transform="translate(1263.0,1579.6) scale(0.87,1)" font-family="Liberation Serif" font-size="16.5" fill="#1a1a1a" stroke="#1a1a1a" stroke-width="0.3">Local SimCLR</text>
<text x="1422.0" y="1579.6" font-family="Liberation Serif" font-size="16.5" fill="#1a1a1a" stroke="#1a1a1a" stroke-width="0.3" text-anchor="middle"><tspan>74.5</tspan><tspan font-size="11.9" baseline-shift="-3.3">±0.3</tspan></text>
<text x="1513.0" y="1579.6" font-family="Liberation Serif" font-size="16.5" fill="#1a1a1a" stroke="#1a1a1a" stroke-width="0.3" text-anchor="middle"><tspan font-weight="bold">49.1</tspan><tspan font-size="11.9" baseline-shift="-3.3" font-weight="bold">±1.3</tspan></text>
<text x="1600.0" y="1579.6" font-family="Liberation Serif" font-size="16.5" fill="#1a1a1a" stroke="#1a1a1a" stroke-width="0.3" text-anchor="middle"><tspan>45.8</tspan><tspan font-size="11.9" baseline-shift="-3.3">±1.4</tspan></text>
<text x="1679.2" y="1579.6" font-family="Liberation Serif" font-size="16.5" fill="#1a1a1a" stroke="#1a1a1a" stroke-width="0.3" text-anchor="middle"><tspan>30.3</tspan><tspan font-size="11.9" baseline-shift="-3.3">±0.2</tspan></text>
<text x="1771.8" y="1579.6" font-family="Liberation Serif" font-size="16.5" fill="#1a1a1a" stroke="#1a1a1a" stroke-width="0.3" text-anchor="middle"><tspan>15.1</tspan><tspan font-size="11.9" baseline-shift="-3.3">±0.4</tspan></text>
<text x="1858.6" y="1579.6" font-family="Liberation Serif" font-size="16.5" fill="#1a1a1a" stroke="#1a1a1a" stroke-width="0.3" text-anchor="middle"><tspan>13.1</tspan><tspan font-size="11.9" baseline-shift="-3.3">±0.3</tspan></text>
<text x="0" y="0" transform="translate(1263.0,1594.9) scale(0.87,1)" font-family="Liberation Serif" font-size="16.5" fill="#1a1a1a" stroke="#1a1a1a" stroke-width="0.3">Federated SimCLR</text>
<text x="1422.0" y="1594.9" font-family="Liberation Serif" font-size="16.5" fill="#1a1a1a" stroke="#1a1a1a" stroke-width="0.3" text-anchor="middle"><tspan font-weight="bold">78.0</tspan><tspan font-size="11.9" baseline-shift="-3.3" font-weight="bold">±0.2</tspan></text>
<text x="1513.0" y="1594.9" font-family="Liberation Serif" font-size="16.5" fill="#1a1a1a" stroke="#1a1a1a" stroke-width="0.3" text-anchor="middle"><tspan font-weight="bold">50.3</tspan><tspan font-size="11.9" baseline-shift="-3.3" font-weight="bold">±1.1</tspan></text>
<text x="1600.0" y="1594.9" font-family="Liberation Serif" font-size="16.5" fill="#1a1a1a" stroke="#1a1a1a" stroke-width="0.3" text-anchor="middle"><tspan font-weight="bold">49.9</tspan><tspan font-size="11.9" baseline-shift="-3.3" font-weight="bold">±1.4</tspan></text>
<text x="1679.2" y="1594.9" font-family="Liberation Serif" font-size="16.5" fill="#1a1a1a" stroke="#1a1a1a" stroke-width="0.3" text-anchor="middle"><tspan font-weight="bold">34.5</tspan><tspan font-size="11.9" baseline-shift="-3.3" font-weight="bold">±0.3</tspan></text>
<text x="1771.8" y="1594.9" font-family="Liberation Serif" font-size="16.5" fill="#1a1a1a" stroke="#1a1a1a" stroke-width="0.3" text-anchor="middle"><tspan>14.8</tspan><tspan font-size="11.9" baseline-shift="-3.3">±0.3</tspan></text>
<text x="1858.6" y="1594.9" font-family="Liberation Serif" font-size="16.5" fill="#1a1a1a" stroke="#1a1a1a" stroke-width="0.3" text-anchor="middle"><tspan font-weight="bold">14.6</tspan><tspan font-size="11.9" baseline-shift="-3.3" font-weight="bold">±0.3</tspan></text>
<text x="0" y="0" transform="translate(1263.0,1618.5) scale(0.87,1)" font-family="Liberation Serif" font-size="16.5" fill="#1a1a1a" stroke="#1a1a1a" stroke-width="0.3">Spectral CL</text>
<text x="1422.0" y="1618.5" font-family="Liberation Serif" font-size="16.5" fill="#1a1a1a" stroke="#1a1a1a" stroke-width="0.3" text-anchor="middle"><tspan>74.2</tspan><tspan font-size="11.9" baseline-shift="-3.3">±0.3</tspan></text>
<text x="1513.0" y="1618.5" font-family="Liberation Serif" font-size="16.5" fill="#1a1a1a" stroke="#1a1a1a" stroke-width="0.3" text-anchor="middle"><tspan>48.0</tspan><tspan font-size="11.9" baseline-shift="-3.3">±0.7</tspan></text>
<text x="1600.0" y="1618.5" font-family="Liberation Serif" font-size="16.5" fill="#1a1a1a" stroke="#1a1a1a" stroke-width="0.3" text-anchor="middle"><tspan>45.4</tspan><tspan font-size="11.9" baseline-shift="-3.3">±1.5</tspan></text>
<text x="1679.2" y="1618.5" font-family="Liberation Serif" font-size="16.5" fill="#1a1a1a" stroke="#1a1a1a" stroke-width="0.3" text-anchor="middle"><tspan>30.1</tspan><tspan font-size="11.9" baseline-shift="-3.3">±0.2</tspan></text>
<text x="1771.8" y="1618.5" font-family="Liberation Serif" font-size="16.5" fill="#1a1a1a" stroke="#1a1a1a" stroke-width="0.3" text-anchor="middle"><tspan>14.1</tspan><tspan font-size="11.9" baseline-shift="-3.3">±0.4</tspan></text>
<text x="1858.6" y="1618.5" font-family="Liberation Serif" font-size="16.5" fill="#1a1a1a" stroke="#1a1a1a" stroke-width="0.3" text-anchor="middle"><tspan>12.3</tspan><tspan font-size="11.9" baseline-shift="-3.3">±0.3</tspan></text>
<text x="0" y="0" transform="translate(1263.0,1634.3) scale(0.87,1)" font-family="Liberation Serif" font-size="16.5" fill="#1a1a1a" stroke="#1a1a1a" stroke-width="0.3">Spectral CL + UV</text>
<text x="1422.0" y="1634.3" font-family="Liberation Serif" font-size="16.5" fill="#1a1a1a" stroke="#1a1a1a" stroke-width="0.3" text-anchor="middle"><tspan font-weight="bold">79.6</tspan><tspan font-size="11.9" baseline-shift="-3.3" font-weight="bold">±0.3</tspan></text>
<text x="1513.0" y="1634.3" font-family="Liberation Serif" font-size="16.5" fill="#1a1a1a" stroke="#1a1a1a" stroke-width="0.3" text-anchor="middle"><tspan font-weight="bold">49.7</tspan><tspan font-size="11.9" baseline-shift="-3.3" font-weight="bold">±1.0</tspan></text>
<text x="1600.0" y="1634.3" font-family="Liberation Serif" font-size="16.5" fill="#1a1a1a" stroke="#1a1a1a" stroke-width="0.3" text-anchor="middle"><tspan font-weight="bold">49.8</tspan><tspan font-size="11.9" baseline-shift="-3.3" font-weight="bold">±1.1</tspan></text>
<text x="1679.2" y="1634.3" font-family="Liberation Serif" font-size="16.5" fill="#1a1a1a" stroke="#1a1a1a" stroke-width="0.3" text-anchor="middle"><tspan font-weight="bold">34.0</tspan><tspan font-size="11.9" baseline-shift="-3.3" font-weight="bold">±0.2</tspan></text>
<text x="1771.8" y="1634.3" font-family="Liberation Serif" font-size="16.5" fill="#1a1a1a" stroke="#1a1a1a" stroke-width="0.3" text-anchor="middle"><tspan>13.7</tspan><tspan font-size="11.9" baseline-shift="-3.3">±0.3</tspan></text>
<text x="1858.6" y="1634.3" font-family="Liberation Serif" font-size="16.5" fill="#1a1a1a" stroke="#1a1a1a" stroke-width="0.3" text-anchor="middle"><tspan font-weight="bold">13.6</tspan><tspan font-size="11.9" baseline-shift="-3.3" font-weight="bold">±0.4</tspan></text>
<text x="0" y="0" transform="translate(1263.0,1657.3) scale(0.87,1)" font-family="Liberation Serif" font-size="16.5" fill="#1a1a1a" stroke="#1a1a1a" stroke-width="0.3">SimSiam</text>
<text x="1422.0" y="1657.3" font-family="Liberation Serif" font-size="16.5" fill="#1a1a1a" stroke="#1a1a1a" stroke-width="0.3" text-anchor="middle"><tspan>75.3</tspan><tspan font-size="11.9" baseline-shift="-3.3">±0.4</tspan></text>
<text x="1513.0" y="1657.3" font-family="Liberation Serif" font-size="16.5" fill="#1a1a1a" stroke="#1a1a1a" stroke-width="0.3" text-anchor="middle"><tspan>46.8</tspan><tspan font-size="11.9" baseline-shift="-3.3">±0.7</tspan></text>
<text x="1600.0" y="1657.3" font-family="Liberation Serif" font-size="16.5" fill="#1a1a1a" stroke="#1a1a1a" stroke-width="0.3" text-anchor="middle"><tspan>40.5</tspan><tspan font-size="11.9" baseline-shift="-3.3">±0.9</tspan></text>
<text x="1679.2" y="1657.3" font-family="Liberation Serif" font-size="16.5" fill="#1a1a1a" stroke="#1a1a1a" stroke-width="0.3" text-anchor="middle"><tspan>30.7</tspan><tspan font-size="11.9" baseline-shift="-3.3">±0.2</tspan></text>
<text x="1771.8" y="1657.3" font-family="Liberation Serif" font-size="16.5" fill="#1a1a1a" stroke="#1a1a1a" stroke-width="0.3" text-anchor="middle"><tspan>13.4</tspan><tspan font-size="11.9" baseline-shift="-3.3">±0.3</tspan></text>
<text x="1858.6" y="1657.3" font-family="Liberation Serif" font-size="16.5" fill="#1a1a1a" stroke="#1a1a1a" stroke-width="0.3" text-anchor="middle"><tspan>12.8</tspan><tspan font-size="11.9" baseline-shift="-3.3">±0.3</tspan></text>
<text x="0" y="0" transform="translate(1263.0,1673.0) scale(0.87,1)" font-family="Liberation Serif" font-size="16.5" fill="#1a1a1a" stroke="#1a1a1a" stroke-width="0.3">SimSiam + UV</text>
<text x="1422.0" y="1673.0" font-family="Liberation Serif" font-size="16.5" fill="#1a1a1a" stroke="#1a1a1a" stroke-width="0.3" text-anchor="middle"><tspan font-weight="bold">80.4</tspan><tspan font-size="11.9" baseline-shift="-3.3" font-weight="bold">±0.2</tspan></text>
<text x="1513.0" y="1673.0" font-family="Liberation Serif" font-size="16.5" fill="#1a1a1a" stroke="#1a1a1a" stroke-width="0.3" text-anchor="middle"><tspan font-weight="bold">50.0</tspan><tspan font-size="11.9" baseline-shift="-3.3" font-weight="bold">±1.2</tspan></text>
<text x="1600.0" y="1673.0" font-family="Liberation Serif" font-size="16.5" fill="#1a1a1a" stroke="#1a1a1a" stroke-width="0.3" text-anchor="middle"><tspan font-weight="bold">44.3</tspan><tspan font-size="11.9" baseline-shift="-3.3" font-weight="bold">±1.0</tspan></text>
<text x="1679.2" y="1673.0" font-family="Liberation Serif" font-size="16.5" fill="#1a1a1a" stroke="#1a1a1a" stroke-width="0.3" text-anchor="middle"><tspan font-weight="bold">34.3</tspan><tspan font-size="11.9" baseline-shift="-3.3" font-weight="bold">±0.1</tspan></text>
<text x="1771.8" y="1673.0" font-family="Liberation Serif" font-size="16.5" fill="#1a1a1a" stroke="#1a1a1a" stroke-width="0.3" text-anchor="middle"><tspan>13.6</tspan><tspan font-size="11.9" baseline-shift="-3.3">±0.3</tspan></text>
<text x="1858.6" y="1673.0" font-family="Liberation Serif" font-size="16.5" fill="#1a1a1a" stroke="#1a1a1a" stroke-width="0.3" text-anchor="middle"><tspan font-weight="bold">14.0</tspan><tspan font-size="11.9" baseline-shift="-3.3" font-weight="bold">±0.4</tspan></text>
<text x="0" y="0" transform="translate(1263.0,1696.0) scale(0.87,1)" font-family="Liberation Serif" font-size="16.5" fill="#1a1a1a" stroke="#1a1a1a" stroke-width="0.3">Supervised</text>
<text x="1422.0" y="1696.0" font-family="Liberation Serif" font-size="16.5" fill="#1a1a1a" stroke="#1a1a1a" stroke-width="0.3" text-anchor="middle"><tspan>75.1</tspan><tspan font-size="11.9" baseline-shift="-3.3">±0.2</tspan></text>
<text x="1513.0" y="1696.0" font-family="Liberation Serif" font-size="16.5" fill="#1a1a1a" stroke="#1a1a1a" stroke-width="0.3" text-anchor="middle"><tspan>48.1</tspan><tspan font-size="11.9" baseline-shift="-3.3">±0.9</tspan></text>
<text x="1600.0" y="1696.0" font-family="Liberation Serif" font-size="16.5" fill="#1a1a1a" stroke="#1a1a1a" stroke-width="0.3" text-anchor="middle"><tspan>42.7</tspan><tspan font-size="11.9" baseline-shift="-3.3">±1.7</tspan></text>
<text x="1679.2" y="1696.0" font-family="Liberation Serif" font-size="16.5" fill="#1a1a1a" stroke="#1a1a1a" stroke-width="0.3" text-anchor="middle"><tspan>29.6</tspan><tspan font-size="11.9" baseline-shift="-3.3">±0.3</tspan></text>
<text x="1771.8" y="1696.0" font-family="Liberation Serif" font-size="16.5" fill="#1a1a1a" stroke="#1a1a1a" stroke-width="0.3" text-anchor="middle"><tspan>12.6</tspan><tspan font-size="11.9" baseline-shift="-3.3">±0.2</tspan></text>
<text x="1858.6" y="1696.0" font-family="Liberation Serif" font-size="16.5" fill="#1a1a1a" stroke="#1a1a1a" stroke-width="0.3" text-anchor="middle"><tspan>12.2</tspan><tspan font-size="11.9" baseline-shift="-3.3">±0.1</tspan></text>
<polygon points="1976.4,1199.8 2168.6,1199.8 2168.6,1356.8 1976.4,1356.8" fill="#120C22" stroke="#120C22" stroke-width="0.6"/>
<polygon points="1976.4,1219.4 1997.7,1199.8 2048.1,1199.8 2047.5,1252.7 2024.3,1272.6 2021.0,1304.2 2052.5,1356.8 2036.6,1356.8 2022.1,1328.5 1996.6,1307.5 1976.4,1283.2" fill="#291731" stroke="#291731" stroke-width="0.6"/>
<polygon points="1976.4,1199.8 1997.7,1199.8 1976.4,1219.4" fill="#3D1A46" stroke="#3D1A46" stroke-width="0.6"/>
<polygon points="2048.1,1199.8 2058.7,1199.8 2066.9,1252.1 2061.0,1309.7 2061.0,1356.8 2052.5,1356.8 2021.0,1304.2 2024.3,1272.6 2047.5,1252.7" fill="#451C47" stroke="#451C47" stroke-width="0.6"/>
<polygon points="2058.7,1199.8 2069.8,1199.8 2089.8,1252.1 2088.6,1304.7 2072.5,1309.2 2068.1,1356.8 2061.0,1356.8 2061.0,1309.7 2066.9,1252.1" fill="#641E55" stroke="#641E55" stroke-width="0.6"/>
<polygon points="2069.8,1199.8 2070.8,1199.8 2104.2,1252.7 2115.2,1305.3 2097.5,1356.8 2068.1,1356.8 2072.5,1309.2 2088.6,1304.7 2089.8,1252.1" fill="#831C5B" stroke="#831C5B" stroke-width="0.6"/>
<polygon points="2070.8,1199.8 2119.6,1199.8 2113.1,1252.1 2120.7,1276.4 2168.6,1277.5 2168.6,1317.4 2152.8,1356.8 2097.5,1356.8 2115.2,1305.3 2104.2,1252.7" fill="#A2195B" stroke="#A2195B" stroke-width="0.6"/>
<polygon points="2119.6,1199.8 2168.6,1199.8 2120.7,1218.3 2118.6,1252.1 2121.5,1258.7 2168.6,1254.9 2168.6,1277.5 2120.7,1276.4 2113.1,1252.1" fill="#C0164F" stroke="#C0164F" stroke-width="0.6"/>
<polygon points="2168.6,1317.4 2168.6,1356.8 2152.8,1356.8" fill="#C0164F" stroke="#C0164F" stroke-width="0.6"/>
<polygon points="2168.6,1199.8 2168.6,1254.9 2121.5,1258.7 2118.6,1252.1 2120.7,1218.3" fill="#DA2A47" stroke="#DA2A47" stroke-width="0.6"/>
<polygon points="2207.4,1199.8 2399.5,1199.8 2399.5,1356.8 2207.4,1356.8" fill="#7B1E5A" stroke="#7B1E5A" stroke-width="0.6"/>
<polygon points="2207.4,1199.8 2232.8,1199.8 2207.4,1219.7" fill="#F6C3A5" stroke="#F6C3A5" stroke-width="0.6"/>
<polygon points="2232.8,1199.8 2243.7,1199.8 2230.5,1247.7 2228.1,1300.9 2230.5,1356.8 2207.4,1356.8 2207.4,1219.7" fill="#F3936C" stroke="#F3936C" stroke-width="0.6"/>
<polygon points="2243.7,1199.8 2251.0,1199.8 2252.5,1305.3 2257.0,1329.6 2268.1,1356.8 2230.5,1356.8 2228.1,1300.9 2230.5,1247.7" fill="#EE5A44" stroke="#EE5A44" stroke-width="0.6"/>
<polygon points="2251.0,1199.8 2278.1,1199.8 2281.6,1252.1 2281.0,1306.4 2301.3,1356.8 2268.1,1356.8 2257.0,1329.6 2252.5,1305.3" fill="#D92545" stroke="#D92545" stroke-width="0.6"/>
<polygon points="2278.1,1199.8 2323.6,1199.8 2304.2,1219.7 2294.8,1307.5 2304.6,1323.0 2352.4,1340.8 2365.7,1356.8 2301.3,1356.8 2281.0,1306.4 2281.6,1252.1" fill="#AD1759" stroke="#AD1759" stroke-width="0.6"/>
<polygon points="2344.6,1199.8 2399.5,1199.8 2399.5,1213.3 2352.4,1216.6" fill="#4B1C4B" stroke="#4B1C4B" stroke-width="0.6"/>
<polygon points="2303.6,1278.6 2343.6,1305.3 2303.6,1307.5" fill="#4B1C4B" stroke="#4B1C4B" stroke-width="0.6"/>
<line x1="1976.4" y1="1199.8" x2="1976.4" y2="1356.8" stroke="#888" stroke-width="0.8" />
<line x1="1976.4" y1="1356.8" x2="2168.6" y2="1356.8" stroke="#888" stroke-width="0.8" />
<text x="1976.4" y="1368.0" font-family="Liberation Sans" font-size="12" fill="#444" text-anchor="middle">10<tspan font-size="8.4" baseline-shift="5.4">−1</tspan></text>
<text x="2024.5" y="1368.0" font-family="Liberation Sans" font-size="12" fill="#444" text-anchor="middle">10<tspan font-size="8.4" baseline-shift="5.4">0</tspan></text>
<text x="2072.5" y="1368.0" font-family="Liberation Sans" font-size="12" fill="#444" text-anchor="middle">10<tspan font-size="8.4" baseline-shift="5.4">1</tspan></text>
<text x="2120.6" y="1368.0" font-family="Liberation Sans" font-size="12" fill="#444" text-anchor="middle">10<tspan font-size="8.4" baseline-shift="5.4">2</tspan></text>
<text x="2168.6" y="1368.0" font-family="Liberation Sans" font-size="12" fill="#444" text-anchor="middle">10<tspan font-size="8.4" baseline-shift="5.4">3</tspan></text>
<text x="2072.4" y="1382.5" font-family="Liberation Sans" font-size="12" fill="#444" text-anchor="middle"><tspan font-family="Liberation Serif" font-style="italic">α</tspan> label skew</text>
<line x1="2207.4" y1="1199.8" x2="2207.4" y2="1356.8" stroke="#888" stroke-width="0.8" />
<line x1="2207.4" y1="1356.8" x2="2399.6" y2="1356.8" stroke="#888" stroke-width="0.8" />
<text x="2207.4" y="1368.0" font-family="Liberation Sans" font-size="12" fill="#444" text-anchor="middle">10<tspan font-size="8.4" baseline-shift="5.4">−1</tspan></text>
<text x="2255.5" y="1368.0" font-family="Liberation Sans" font-size="12" fill="#444" text-anchor="middle">10<tspan font-size="8.4" baseline-shift="5.4">0</tspan></text>
<text x="2303.5" y="1368.0" font-family="Liberation Sans" font-size="12" fill="#444" text-anchor="middle">10<tspan font-size="8.4" baseline-shift="5.4">1</tspan></text>
<text x="2351.6" y="1368.0" font-family="Liberation Sans" font-size="12" fill="#444" text-anchor="middle">10<tspan font-size="8.4" baseline-shift="5.4">2</tspan></text>
<text x="2399.6" y="1368.0" font-family="Liberation Sans" font-size="12" fill="#444" text-anchor="middle">10<tspan font-size="8.4" baseline-shift="5.4">3</tspan></text>
<text x="2303.4" y="1382.5" font-family="Liberation Sans" font-size="12" fill="#444" text-anchor="middle"><tspan font-family="Liberation Serif" font-style="italic">α</tspan> label skew</text>
<text x="1974.0" y="1204.0" font-family="Liberation Sans" font-size="12" fill="#444" text-anchor="end">10<tspan font-size="8.4" baseline-shift="5.4">2</tspan></text>
<text x="1974.0" y="1256.6" font-family="Liberation Sans" font-size="12" fill="#444" text-anchor="end">10<tspan font-size="8.4" baseline-shift="5.4">1</tspan></text>
<text x="1974.0" y="1309.2" font-family="Liberation Sans" font-size="12" fill="#444" text-anchor="end">10<tspan font-size="8.4" baseline-shift="5.4">0</tspan></text>
<text x="1974.0" y="1361.0" font-family="Liberation Sans" font-size="12" fill="#444" text-anchor="end">10<tspan font-size="8.4" baseline-shift="5.4">−1</tspan></text>
<text x="0" y="0" font-family="Liberation Sans" font-size="12" fill="#444" text-anchor="middle" transform="translate(1941.5,1278.5) rotate(-90)"><tspan font-family="Liberation Serif" font-style="italic">α</tspan> covariate shift</text>
<text x="2072.6" y="1196.0" font-family="Liberation Sans" font-size="14" fill="#333" text-anchor="middle">Local SimCLR</text>
<text x="2303.5" y="1196.0" font-family="Liberation Sans" font-size="14" fill="#333" text-anchor="middle">Federated SimCLR</text>
<rect x="2426.6" y="1199.4" width="7.5" height="20.0" fill="#FAEBDD"/>
<text x="2438.2" y="1213.8" font-family="Liberation Sans" font-size="11.5" fill="#555">&gt; 78.0</text>
<rect x="2426.6" y="1219.1" width="7.5" height="20.0" fill="#F6BD9C"/>
<text x="2438.2" y="1233.0" font-family="Liberation Sans" font-size="11.5" fill="#555">77.2</text>
<rect x="2426.6" y="1238.9" width="7.5" height="20.0" fill="#F4906A"/>
<text x="2438.2" y="1252.2" font-family="Liberation Sans" font-size="11.5" fill="#555">76.4</text>
<rect x="2426.6" y="1258.6" width="7.5" height="20.0" fill="#EF5A43"/>
<text x="2438.2" y="1271.4" font-family="Liberation Sans" font-size="11.5" fill="#555">75.7</text>
<rect x="2426.6" y="1278.3" width="7.5" height="20.0" fill="#D9254A"/>
<text x="2438.2" y="1290.6" font-family="Liberation Sans" font-size="11.5" fill="#555">74.9</text>
<rect x="2426.6" y="1298.1" width="7.5" height="20.0" fill="#AD1759"/>
<text x="2438.2" y="1309.8" font-family="Liberation Sans" font-size="11.5" fill="#555">74.1</text>
<rect x="2426.6" y="1317.8" width="7.5" height="20.0" fill="#7B1E5A"/>
<text x="2438.2" y="1329.0" font-family="Liberation Sans" font-size="11.5" fill="#555">73.3</text>
<rect x="2426.6" y="1337.6" width="7.5" height="20.0" fill="#4C1B4B"/>
<text x="2438.2" y="1348.2" font-family="Liberation Sans" font-size="11.5" fill="#555">&lt; 72.6</text>
<rect x="1979.2" y="1392.2" width="195.2" height="146.6" fill="#fff" stroke="#D0D0D0" stroke-width="1"/>
<line x1="1979.2" y1="1411.9" x2="2174.4" y2="1411.9" stroke="#DCDCDC" stroke-width="0.9" />
<text x="1976.5" y="1415.9" font-family="Liberation Sans" font-size="11.5" fill="#444" text-anchor="end">75</text>
<line x1="1979.2" y1="1452.4" x2="2174.4" y2="1452.4" stroke="#DCDCDC" stroke-width="0.9" />
<text x="1976.5" y="1456.4" font-family="Liberation Sans" font-size="11.5" fill="#444" text-anchor="end">70</text>
<line x1="1979.2" y1="1492.6" x2="2174.4" y2="1492.6" stroke="#DCDCDC" stroke-width="0.9" />
<text x="1976.5" y="1496.6" font-family="Liberation Sans" font-size="11.5" fill="#444" text-anchor="end">65</text>
<line x1="1979.2" y1="1533.1" x2="2174.4" y2="1533.1" stroke="#DCDCDC" stroke-width="0.9" />
<text x="1976.5" y="1537.1" font-family="Liberation Sans" font-size="11.5" fill="#444" text-anchor="end">60</text>
<line x1="1987.8" y1="1392.2" x2="1987.8" y2="1538.8" stroke="#DCDCDC" stroke-width="0.9" />
<text x="1987.8" y="1550.5" font-family="Liberation Sans" font-size="11.5" fill="#444" text-anchor="middle">0</text>
<line x1="2050.2" y1="1392.2" x2="2050.2" y2="1538.8" stroke="#DCDCDC" stroke-width="0.9" />
<text x="2050.2" y="1550.5" font-family="Liberation Sans" font-size="11.5" fill="#444" text-anchor="middle">10<tspan font-size="8.0" baseline-shift="5.2">0</tspan></text>
<line x1="2112.3" y1="1392.2" x2="2112.3" y2="1538.8" stroke="#DCDCDC" stroke-width="0.9" />
<text x="2112.3" y="1550.5" font-family="Liberation Sans" font-size="11.5" fill="#444" text-anchor="middle">10<tspan font-size="8.0" baseline-shift="5.2">1</tspan></text>
<line x1="2174.4" y1="1392.2" x2="2174.4" y2="1538.8" stroke="#DCDCDC" stroke-width="0.9" />
<text x="2174.4" y="1550.5" font-family="Liberation Sans" font-size="11.5" fill="#444" text-anchor="middle">10<tspan font-size="8.0" baseline-shift="5.2">2</tspan></text>
<polyline points="1987.8,1462.4 2050.2,1436.7 2093.9,1451.6 2112.3,1453.7 2156.0,1467.0" fill="none" stroke="#F0B44C" stroke-width="1.4"/>
<polygon points="1987.8,1460.0 1985.6,1464.0 1990.0,1464.0" fill="#F0B44C"/>
<polygon points="2050.2,1434.3 2048.0,1438.3 2052.4,1438.3" fill="#F0B44C"/>
<polygon points="2093.9,1449.2 2091.7,1453.2 2096.1,1453.2" fill="#F0B44C"/>
<polygon points="2112.3,1451.3 2110.1,1455.3 2114.5,1455.3" fill="#F0B44C"/>
<polygon points="2156.0,1464.6 2153.8,1468.6 2158.2,1468.6" fill="#F0B44C"/>
<polyline points="1987.8,1398.4 2050.2,1406.5 2093.9,1463.7 2112.3,1531.8 2156.0,1471.0" fill="none" stroke="#2A9D8F" stroke-width="1.4"/>
<polygon points="1987.8,1400.8 1985.6,1396.8 1990.0,1396.8" fill="#2A9D8F"/>
<polygon points="2050.2,1408.9 2048.0,1404.9 2052.4,1404.9" fill="#2A9D8F"/>
<polygon points="2093.9,1466.1 2091.7,1462.1 2096.1,1462.1" fill="#2A9D8F"/>
<polygon points="2112.3,1534.2 2110.1,1530.2 2114.5,1530.2" fill="#2A9D8F"/>
<polygon points="2156.0,1473.4 2153.8,1469.4 2158.2,1469.4" fill="#2A9D8F"/>
<rect x="2029.7" y="1397.6" width="139.3" height="35.1" fill="#fff" rx="2" stroke="#D8D8D8" stroke-width="0.9" fill-opacity="0.85"/>
<line x1="2035.7" y1="1406.5" x2="2059.7" y2="1406.5" stroke="#F0B44C" stroke-width="1.3" />
<polygon points="2047.7,1404.1 2045.5,1408.1 2049.9,1408.1" fill="#F0B44C"/>
<text x="2064.7" y="1410.5" font-family="Liberation Sans" font-size="12.5" fill="#333">Local SimCLR</text>
<line x1="2035.7" y1="1423.0" x2="2059.7" y2="1423.0" stroke="#2A9D8F" stroke-width="1.3" />
<polygon points="2047.7,1425.4 2045.5,1421.4 2049.9,1421.4" fill="#2A9D8F"/>
<text x="2064.7" y="1427.0" font-family="Liberation Sans" font-size="12.5" fill="#333">Federated SimCLR</text>
<text x="2076.3" y="1562.3" font-family="Liberation Sans" font-size="12.5" fill="#444" text-anchor="middle">Local epochs</text>
<text x="0" y="0" font-family="Liberation Sans" font-size="12.5" fill="#444" text-anchor="middle" transform="translate(1958.0,1465.0) rotate(-90)">Test accuracy</text>
<rect x="1981.0" y="1585.8" width="192.9" height="142.6" fill="#fff" stroke="#D0D0D0" stroke-width="1"/>
<line x1="1981.0" y1="1602.8" x2="2173.9" y2="1602.8" stroke="#DCDCDC" stroke-width="0.9" />
<text x="1977.8" y="1606.8" font-family="Liberation Sans" font-size="11.5" fill="#444" text-anchor="end">70</text>
<line x1="1981.0" y1="1640.0" x2="2173.9" y2="1640.0" stroke="#DCDCDC" stroke-width="0.9" />
<text x="1977.8" y="1644.0" font-family="Liberation Sans" font-size="11.5" fill="#444" text-anchor="end">65</text>
<line x1="1981.0" y1="1677.6" x2="2173.9" y2="1677.6" stroke="#DCDCDC" stroke-width="0.9" />
<text x="1977.8" y="1681.6" font-family="Liberation Sans" font-size="11.5" fill="#444" text-anchor="end">60</text>
<line x1="1981.0" y1="1715.4" x2="2173.9" y2="1715.4" stroke="#DCDCDC" stroke-width="0.9" />
<text x="1977.8" y="1719.4" font-family="Liberation Sans" font-size="11.5" fill="#444" text-anchor="end">55</text>
<line x1="2022.6" y1="1585.8" x2="2022.6" y2="1728.4" stroke="#DCDCDC" stroke-width="0.9" />
<text x="2022.6" y="1739.5" font-family="Liberation Sans" font-size="11.5" fill="#444" text-anchor="middle">0.2</text>
<line x1="2065.8" y1="1585.8" x2="2065.8" y2="1728.4" stroke="#DCDCDC" stroke-width="0.9" />
<text x="2065.8" y="1739.5" font-family="Liberation Sans" font-size="11.5" fill="#444" text-anchor="middle">0.4</text>
<line x1="2109.3" y1="1585.8" x2="2109.3" y2="1728.4" stroke="#DCDCDC" stroke-width="0.9" />
<text x="2109.3" y="1739.5" font-family="Liberation Sans" font-size="11.5" fill="#444" text-anchor="middle">0.6</text>
<line x1="2152.5" y1="1585.8" x2="2152.5" y2="1728.4" stroke="#DCDCDC" stroke-width="0.9" />
<text x="2152.5" y="1739.5" font-family="Liberation Sans" font-size="11.5" fill="#444" text-anchor="middle">0.8</text>
<line x1="1981.0" y1="1592.0" x2="2173.9" y2="1592.0" stroke="#F08080" stroke-width="1.3" stroke-dasharray="1.5 2"/>
<polyline points="1981.0,1723.0 1990.0,1665.7 2000.8,1646.0 2022.6,1631.7 2044.2,1625.2 2087.4,1615.5 2173.9,1600.1" fill="none" stroke="#F0B44C" stroke-width="1.4"/>
<polygon points="1981.0,1720.6 1978.8,1724.6 1983.2,1724.6" fill="#F0B44C"/>
<polygon points="1990.0,1663.3 1987.8,1667.3 1992.2,1667.3" fill="#F0B44C"/>
<polygon points="2000.8,1643.6 1998.6,1647.6 2003.0,1647.6" fill="#F0B44C"/>
<polygon points="2022.6,1629.3 2020.4,1633.3 2024.8,1633.3" fill="#F0B44C"/>
<polygon points="2044.2,1622.8 2042.0,1626.8 2046.4,1626.8" fill="#F0B44C"/>
<polygon points="2087.4,1613.1 2085.2,1617.1 2089.6,1617.1" fill="#F0B44C"/>
<polygon points="2173.9,1597.7 2171.7,1601.7 2176.1,1601.7" fill="#F0B44C"/>
<polyline points="1981.0,1677.1 1990.0,1637.9 2000.8,1627.1 2022.6,1616.6 2044.2,1610.6 2087.4,1597.1 2173.9,1593.3" fill="none" stroke="#2A9D8F" stroke-width="1.4"/>
<polygon points="1981.0,1679.5 1978.8,1675.5 1983.2,1675.5" fill="#2A9D8F"/>
<polygon points="1990.0,1640.3 1987.8,1636.3 1992.2,1636.3" fill="#2A9D8F"/>
<polygon points="2000.8,1629.5 1998.6,1625.5 2003.0,1625.5" fill="#2A9D8F"/>
<polygon points="2022.6,1619.0 2020.4,1615.0 2024.8,1615.0" fill="#2A9D8F"/>
<polygon points="2044.2,1613.0 2042.0,1609.0 2046.4,1609.0" fill="#2A9D8F"/>
<polygon points="2087.4,1599.5 2085.2,1595.5 2089.6,1595.5" fill="#2A9D8F"/>
<polygon points="2173.9,1595.7 2171.7,1591.7 2176.1,1591.7" fill="#2A9D8F"/>
<rect x="2030.5" y="1673.8" width="137.7" height="49.2" fill="#fff" rx="2" stroke="#D8D8D8" stroke-width="0.9" fill-opacity="0.85"/>
<line x1="2036.5" y1="1682.0" x2="2060.5" y2="1682.0" stroke="#F08080" stroke-width="1.3" stroke-dasharray="1.5 2"/>
<text x="2065.5" y="1686.0" font-family="Liberation Sans" font-size="12.5" fill="#333">Fully supervised</text>
<line x1="2036.5" y1="1697.5" x2="2060.5" y2="1697.5" stroke="#F0B44C" stroke-width="1.3" />
<polygon points="2048.5,1695.1 2046.3,1699.1 2050.7,1699.1" fill="#F0B44C"/>
<text x="2065.5" y="1701.5" font-family="Liberation Sans" font-size="12.5" fill="#333">Local SimCLR</text>
<line x1="2036.5" y1="1713.0" x2="2060.5" y2="1713.0" stroke="#2A9D8F" stroke-width="1.3" />
<polygon points="2048.5,1715.4 2046.3,1711.4 2050.7,1711.4" fill="#2A9D8F"/>
<text x="2065.5" y="1717.0" font-family="Liberation Sans" font-size="12.5" fill="#333">Federated SimCLR</text>
<text x="2076.9" y="1751.3" font-family="Liberation Sans" font-size="12.5" fill="#444" text-anchor="middle">% labelled data</text>
<text x="0" y="0" font-family="Liberation Sans" font-size="12.5" fill="#444" text-anchor="middle" transform="translate(1960.5,1658.0) rotate(-90)">Test accuracy</text>
<circle cx="2436.0" cy="1668.1" r="1.8" fill="#000"/>
<circle cx="2436.0" cy="1671.7" r="1.8" fill="#000"/>
<circle cx="2436.0" cy="1678.8" r="1.8" fill="#000"/>
<circle cx="2436.0" cy="1685.9" r="1.8" fill="#000"/>
<circle cx="2436.0" cy="1689.5" r="1.8" fill="#000"/>
<circle cx="2436.0" cy="1696.6" r="1.8" fill="#000"/>
<circle cx="2436.0" cy="1700.2" r="1.8" fill="#000"/>
<circle cx="2436.0" cy="1703.7" r="1.8" fill="#000"/>
<circle cx="2436.0" cy="1707.3" r="1.8" fill="#000"/>
<circle cx="2436.0" cy="1710.9" r="1.8" fill="#000"/>
<circle cx="2439.5" cy="1671.7" r="1.8" fill="#000"/>
<circle cx="2439.5" cy="1675.3" r="1.8" fill="#000"/>
<circle cx="2439.5" cy="1689.5" r="1.8" fill="#000"/>
<circle cx="2439.5" cy="1696.6" r="1.8" fill="#000"/>
<circle cx="2439.5" cy="1703.7" r="1.8" fill="#000"/>
<circle cx="2439.5" cy="1707.3" r="1.8" fill="#000"/>
<circle cx="2439.5" cy="1710.9" r="1.8" fill="#000"/>
<circle cx="2443.1" cy="1668.1" r="1.8" fill="#000"/>
<circle cx="2443.1" cy="1675.3" r="1.8" fill="#000"/>
<circle cx="2443.1" cy="1685.9" r="1.8" fill="#000"/>
<circle cx="2443.1" cy="1693.1" r="1.8" fill="#000"/>
<circle cx="2443.1" cy="1696.6" r="1.8" fill="#000"/>
<circle cx="2443.1" cy="1700.2" r="1.8" fill="#000"/>
<circle cx="2443.1" cy="1707.3" r="1.8" fill="#000"/>
<circle cx="2443.1" cy="1710.9" r="1.8" fill="#000"/>
<circle cx="2446.7" cy="1671.7" r="1.8" fill="#000"/>
<circle cx="2446.7" cy="1675.3" r="1.8" fill="#000"/>
<circle cx="2446.7" cy="1685.9" r="1.8" fill="#000"/>
<circle cx="2446.7" cy="1703.7" r="1.8" fill="#000"/>
<circle cx="2446.7" cy="1710.9" r="1.8" fill="#000"/>
<circle cx="2450.2" cy="1668.1" r="1.8" fill="#000"/>
<circle cx="2450.2" cy="1675.3" r="1.8" fill="#000"/>
<circle cx="2450.2" cy="1678.8" r="1.8" fill="#000"/>
<circle cx="2450.2" cy="1682.4" r="1.8" fill="#000"/>
<circle cx="2450.2" cy="1700.2" r="1.8" fill="#000"/>
<circle cx="2453.8" cy="1668.1" r="1.8" fill="#000"/>
<circle cx="2453.8" cy="1678.8" r="1.8" fill="#000"/>
<circle cx="2453.8" cy="1685.9" r="1.8" fill="#000"/>
<circle cx="2453.8" cy="1703.7" r="1.8" fill="#000"/>
<circle cx="2453.8" cy="1707.3" r="1.8" fill="#000"/>
<circle cx="2457.3" cy="1668.1" r="1.8" fill="#000"/>
<circle cx="2457.3" cy="1671.7" r="1.8" fill="#000"/>
<circle cx="2457.3" cy="1675.3" r="1.8" fill="#000"/>
<circle cx="2457.3" cy="1678.8" r="1.8" fill="#000"/>
<circle cx="2457.3" cy="1682.4" r="1.8" fill="#000"/>
<circle cx="2457.3" cy="1689.5" r="1.8" fill="#000"/>
<circle cx="2457.3" cy="1693.1" r="1.8" fill="#000"/>
<circle cx="2457.3" cy="1696.6" r="1.8" fill="#000"/>
<circle cx="2457.3" cy="1703.7" r="1.8" fill="#000"/>
<circle cx="2457.3" cy="1707.3" r="1.8" fill="#000"/>
<circle cx="2460.9" cy="1678.8" r="1.8" fill="#000"/>
<circle cx="2460.9" cy="1682.4" r="1.8" fill="#000"/>
<circle cx="2460.9" cy="1685.9" r="1.8" fill="#000"/>
<circle cx="2460.9" cy="1696.6" r="1.8" fill="#000"/>
<circle cx="2460.9" cy="1700.2" r="1.8" fill="#000"/>
<circle cx="2460.9" cy="1703.7" r="1.8" fill="#000"/>
<circle cx="2460.9" cy="1707.3" r="1.8" fill="#000"/>
<circle cx="2460.9" cy="1710.9" r="1.8" fill="#000"/>
<circle cx="2464.4" cy="1643.2" r="1.8" fill="#000"/>
<circle cx="2464.4" cy="1646.8" r="1.8" fill="#000"/>
<circle cx="2464.4" cy="1650.4" r="1.8" fill="#000"/>
<circle cx="2464.4" cy="1653.9" r="1.8" fill="#000"/>
<circle cx="2464.4" cy="1678.8" r="1.8" fill="#000"/>
<circle cx="2464.4" cy="1696.6" r="1.8" fill="#000"/>
<circle cx="2464.4" cy="1700.2" r="1.8" fill="#000"/>
<circle cx="2464.4" cy="1703.7" r="1.8" fill="#000"/>
<circle cx="2464.4" cy="1710.9" r="1.8" fill="#000"/>
<circle cx="2464.4" cy="1714.4" r="1.8" fill="#000"/>
<circle cx="2464.4" cy="1718.0" r="1.8" fill="#000"/>
<circle cx="2464.4" cy="1721.5" r="1.8" fill="#000"/>
<circle cx="2464.4" cy="1725.1" r="1.8" fill="#000"/>
<circle cx="2464.4" cy="1728.6" r="1.8" fill="#000"/>
<circle cx="2464.4" cy="1732.2" r="1.8" fill="#000"/>
<circle cx="2464.4" cy="1735.8" r="1.8" fill="#000"/>
<circle cx="2464.4" cy="1739.3" r="1.8" fill="#000"/>
<circle cx="2468.0" cy="1639.7" r="1.8" fill="#000"/>
<circle cx="2468.0" cy="1643.2" r="1.8" fill="#000"/>
<circle cx="2468.0" cy="1653.9" r="1.8" fill="#000"/>
<circle cx="2468.0" cy="1657.5" r="1.8" fill="#000"/>
<circle cx="2468.0" cy="1661.0" r="1.8" fill="#000"/>
<circle cx="2468.0" cy="1664.6" r="1.8" fill="#000"/>
<circle cx="2468.0" cy="1668.1" r="1.8" fill="#000"/>
<circle cx="2468.0" cy="1678.8" r="1.8" fill="#000"/>
<circle cx="2468.0" cy="1682.4" r="1.8" fill="#000"/>
<circle cx="2468.0" cy="1685.9" r="1.8" fill="#000"/>
<circle cx="2468.0" cy="1689.5" r="1.8" fill="#000"/>
<circle cx="2468.0" cy="1693.1" r="1.8" fill="#000"/>
<circle cx="2468.0" cy="1696.6" r="1.8" fill="#000"/>
<circle cx="2468.0" cy="1703.7" r="1.8" fill="#000"/>
<circle cx="2468.0" cy="1707.3" r="1.8" fill="#000"/>
<circle cx="2468.0" cy="1718.0" r="1.8" fill="#000"/>
<circle cx="2468.0" cy="1725.1" r="1.8" fill="#000"/>
<circle cx="2471.6" cy="1639.7" r="1.8" fill="#000"/>
<circle cx="2471.6" cy="1643.2" r="1.8" fill="#000"/>
<circle cx="2471.6" cy="1646.8" r="1.8" fill="#000"/>
<circle cx="2471.6" cy="1661.0" r="1.8" fill="#000"/>
<circle cx="2471.6" cy="1664.6" r="1.8" fill="#000"/>
<circle cx="2471.6" cy="1689.5" r="1.8" fill="#000"/>
<circle cx="2471.6" cy="1696.6" r="1.8" fill="#000"/>
<circle cx="2471.6" cy="1700.2" r="1.8" fill="#000"/>
<circle cx="2471.6" cy="1703.7" r="1.8" fill="#000"/>
<circle cx="2471.6" cy="1707.3" r="1.8" fill="#000"/>
<circle cx="2471.6" cy="1710.9" r="1.8" fill="#000"/>
<circle cx="2471.6" cy="1721.5" r="1.8" fill="#000"/>
<circle cx="2471.6" cy="1735.8" r="1.8" fill="#000"/>
<circle cx="2471.6" cy="1739.3" r="1.8" fill="#000"/>
<circle cx="2475.1" cy="1639.7" r="1.8" fill="#000"/>
<circle cx="2475.1" cy="1643.2" r="1.8" fill="#000"/>
<circle cx="2475.1" cy="1646.8" r="1.8" fill="#000"/>
<circle cx="2475.1" cy="1661.0" r="1.8" fill="#000"/>
<circle cx="2475.1" cy="1671.7" r="1.8" fill="#000"/>
<circle cx="2475.1" cy="1689.5" r="1.8" fill="#000"/>
<circle cx="2475.1" cy="1693.1" r="1.8" fill="#000"/>
<circle cx="2475.1" cy="1700.2" r="1.8" fill="#000"/>
<circle cx="2475.1" cy="1710.9" r="1.8" fill="#000"/>
<circle cx="2475.1" cy="1714.4" r="1.8" fill="#000"/>
<circle cx="2475.1" cy="1725.1" r="1.8" fill="#000"/>
<circle cx="2475.1" cy="1728.6" r="1.8" fill="#000"/>
<circle cx="2475.1" cy="1732.2" r="1.8" fill="#000"/>
<circle cx="2478.7" cy="1639.7" r="1.8" fill="#000"/>
<circle cx="2478.7" cy="1653.9" r="1.8" fill="#000"/>
<circle cx="2478.7" cy="1661.0" r="1.8" fill="#000"/>
<circle cx="2478.7" cy="1664.6" r="1.8" fill="#000"/>
<circle cx="2478.7" cy="1682.4" r="1.8" fill="#000"/>
<circle cx="2478.7" cy="1693.1" r="1.8" fill="#000"/>
<circle cx="2478.7" cy="1696.6" r="1.8" fill="#000"/>
<circle cx="2478.7" cy="1700.2" r="1.8" fill="#000"/>
<circle cx="2478.7" cy="1703.7" r="1.8" fill="#000"/>
<circle cx="2478.7" cy="1710.9" r="1.8" fill="#000"/>
<circle cx="2478.7" cy="1714.4" r="1.8" fill="#000"/>
<circle cx="2478.7" cy="1718.0" r="1.8" fill="#000"/>
<circle cx="2478.7" cy="1725.1" r="1.8" fill="#000"/>
<circle cx="2478.7" cy="1728.6" r="1.8" fill="#000"/>
<circle cx="2478.7" cy="1739.3" r="1.8" fill="#000"/>
<circle cx="2482.2" cy="1653.9" r="1.8" fill="#000"/>
<circle cx="2482.2" cy="1657.5" r="1.8" fill="#000"/>
<circle cx="2482.2" cy="1661.0" r="1.8" fill="#000"/>
<circle cx="2482.2" cy="1664.6" r="1.8" fill="#000"/>
<circle cx="2482.2" cy="1671.7" r="1.8" fill="#000"/>
<circle cx="2482.2" cy="1675.3" r="1.8" fill="#000"/>
<circle cx="2482.2" cy="1685.9" r="1.8" fill="#000"/>
<circle cx="2482.2" cy="1700.2" r="1.8" fill="#000"/>
<circle cx="2482.2" cy="1707.3" r="1.8" fill="#000"/>
<circle cx="2482.2" cy="1710.9" r="1.8" fill="#000"/>
<circle cx="2482.2" cy="1732.2" r="1.8" fill="#000"/>
<circle cx="2485.8" cy="1646.8" r="1.8" fill="#000"/>
<circle cx="2485.8" cy="1653.9" r="1.8" fill="#000"/>
<circle cx="2485.8" cy="1671.7" r="1.8" fill="#000"/>
<circle cx="2485.8" cy="1685.9" r="1.8" fill="#000"/>
<circle cx="2485.8" cy="1689.5" r="1.8" fill="#000"/>
<circle cx="2485.8" cy="1693.1" r="1.8" fill="#000"/>
<circle cx="2485.8" cy="1696.6" r="1.8" fill="#000"/>
<circle cx="2485.8" cy="1700.2" r="1.8" fill="#000"/>
<circle cx="2485.8" cy="1703.7" r="1.8" fill="#000"/>
<circle cx="2485.8" cy="1718.0" r="1.8" fill="#000"/>
<circle cx="2485.8" cy="1728.6" r="1.8" fill="#000"/>
<circle cx="2485.8" cy="1739.3" r="1.8" fill="#000"/>
<circle cx="2489.4" cy="1643.2" r="1.8" fill="#000"/>
<circle cx="2489.4" cy="1646.8" r="1.8" fill="#000"/>
<circle cx="2489.4" cy="1657.5" r="1.8" fill="#000"/>
<circle cx="2489.4" cy="1661.0" r="1.8" fill="#000"/>
<circle cx="2489.4" cy="1668.1" r="1.8" fill="#000"/>
<circle cx="2489.4" cy="1671.7" r="1.8" fill="#000"/>
<circle cx="2489.4" cy="1675.3" r="1.8" fill="#000"/>
<circle cx="2489.4" cy="1682.4" r="1.8" fill="#000"/>
<circle cx="2489.4" cy="1689.5" r="1.8" fill="#000"/>
<circle cx="2489.4" cy="1693.1" r="1.8" fill="#000"/>
<circle cx="2489.4" cy="1696.6" r="1.8" fill="#000"/>
<circle cx="2489.4" cy="1707.3" r="1.8" fill="#000"/>
<circle cx="2489.4" cy="1721.5" r="1.8" fill="#000"/>
<circle cx="2489.4" cy="1725.1" r="1.8" fill="#000"/>
<circle cx="2489.4" cy="1728.6" r="1.8" fill="#000"/>
<circle cx="2489.4" cy="1735.8" r="1.8" fill="#000"/>
<circle cx="2489.4" cy="1739.3" r="1.8" fill="#000"/>
<circle cx="2492.9" cy="1639.7" r="1.8" fill="#000"/>
<circle cx="2492.9" cy="1650.4" r="1.8" fill="#000"/>
<circle cx="2492.9" cy="1653.9" r="1.8" fill="#000"/>
<circle cx="2492.9" cy="1668.1" r="1.8" fill="#000"/>
<circle cx="2492.9" cy="1671.7" r="1.8" fill="#000"/>
<circle cx="2492.9" cy="1678.8" r="1.8" fill="#000"/>
<circle cx="2492.9" cy="1682.4" r="1.8" fill="#000"/>
<circle cx="2492.9" cy="1696.6" r="1.8" fill="#000"/>
<circle cx="2492.9" cy="1703.7" r="1.8" fill="#000"/>
<circle cx="2492.9" cy="1710.9" r="1.8" fill="#000"/>
<circle cx="2492.9" cy="1714.4" r="1.8" fill="#000"/>
<circle cx="2492.9" cy="1725.1" r="1.8" fill="#000"/>
<circle cx="2492.9" cy="1728.6" r="1.8" fill="#000"/>
<circle cx="2492.9" cy="1735.8" r="1.8" fill="#000"/>
<circle cx="2492.9" cy="1739.3" r="1.8" fill="#000"/>
<circle cx="2496.5" cy="1639.7" r="1.8" fill="#000"/>
<circle cx="2496.5" cy="1643.2" r="1.8" fill="#000"/>
<circle cx="2496.5" cy="1646.8" r="1.8" fill="#000"/>
<circle cx="2496.5" cy="1650.4" r="1.8" fill="#000"/>
<circle cx="2496.5" cy="1653.9" r="1.8" fill="#000"/>
<circle cx="2496.5" cy="1661.0" r="1.8" fill="#000"/>
<circle cx="2496.5" cy="1668.1" r="1.8" fill="#000"/>
<circle cx="2496.5" cy="1671.7" r="1.8" fill="#000"/>
<circle cx="2496.5" cy="1675.3" r="1.8" fill="#000"/>
<circle cx="2496.5" cy="1678.8" r="1.8" fill="#000"/>
<circle cx="2496.5" cy="1682.4" r="1.8" fill="#000"/>
<circle cx="2496.5" cy="1693.1" r="1.8" fill="#000"/>
<circle cx="2496.5" cy="1696.6" r="1.8" fill="#000"/>
<circle cx="2496.5" cy="1703.7" r="1.8" fill="#000"/>
<circle cx="2496.5" cy="1710.9" r="1.8" fill="#000"/>
<circle cx="2496.5" cy="1714.4" r="1.8" fill="#000"/>
<circle cx="2496.5" cy="1721.5" r="1.8" fill="#000"/>
<circle cx="2496.5" cy="1735.8" r="1.8" fill="#000"/>
<circle cx="2500.0" cy="1646.8" r="1.8" fill="#000"/>
<circle cx="2500.0" cy="1650.4" r="1.8" fill="#000"/>
<circle cx="2500.0" cy="1653.9" r="1.8" fill="#000"/>
<circle cx="2500.0" cy="1657.5" r="1.8" fill="#000"/>
<circle cx="2500.0" cy="1661.0" r="1.8" fill="#000"/>
<circle cx="2500.0" cy="1668.1" r="1.8" fill="#000"/>
<circle cx="2500.0" cy="1671.7" r="1.8" fill="#000"/>
<circle cx="2500.0" cy="1675.3" r="1.8" fill="#000"/>
<circle cx="2500.0" cy="1689.5" r="1.8" fill="#000"/>
<circle cx="2500.0" cy="1693.1" r="1.8" fill="#000"/>
<circle cx="2500.0" cy="1696.6" r="1.8" fill="#000"/>
<circle cx="2500.0" cy="1700.2" r="1.8" fill="#000"/>
<circle cx="2500.0" cy="1703.7" r="1.8" fill="#000"/>
<circle cx="2500.0" cy="1707.3" r="1.8" fill="#000"/>
<circle cx="2500.0" cy="1710.9" r="1.8" fill="#000"/>
<circle cx="2500.0" cy="1725.1" r="1.8" fill="#000"/>
<circle cx="2500.0" cy="1732.2" r="1.8" fill="#000"/>
<circle cx="2500.0" cy="1735.8" r="1.8" fill="#000"/>
<circle cx="2500.0" cy="1739.3" r="1.8" fill="#000"/>
<circle cx="2503.6" cy="1639.7" r="1.8" fill="#000"/>
<circle cx="2503.6" cy="1643.2" r="1.8" fill="#000"/>
<circle cx="2503.6" cy="1650.4" r="1.8" fill="#000"/>
<circle cx="2503.6" cy="1657.5" r="1.8" fill="#000"/>
<circle cx="2503.6" cy="1661.0" r="1.8" fill="#000"/>
<circle cx="2503.6" cy="1664.6" r="1.8" fill="#000"/>
<circle cx="2503.6" cy="1668.1" r="1.8" fill="#000"/>
<circle cx="2503.6" cy="1671.7" r="1.8" fill="#000"/>
<circle cx="2503.6" cy="1675.3" r="1.8" fill="#000"/>
<circle cx="2503.6" cy="1678.8" r="1.8" fill="#000"/>
<circle cx="2503.6" cy="1682.4" r="1.8" fill="#000"/>
<circle cx="2503.6" cy="1707.3" r="1.8" fill="#000"/>
<circle cx="2503.6" cy="1710.9" r="1.8" fill="#000"/>
<circle cx="2503.6" cy="1718.0" r="1.8" fill="#000"/>
<circle cx="2503.6" cy="1728.6" r="1.8" fill="#000"/>
<circle cx="2507.2" cy="1646.8" r="1.8" fill="#000"/>
<circle cx="2507.2" cy="1682.4" r="1.8" fill="#000"/>
<circle cx="2507.2" cy="1685.9" r="1.8" fill="#000"/>
<circle cx="2507.2" cy="1689.5" r="1.8" fill="#000"/>
<circle cx="2507.2" cy="1693.1" r="1.8" fill="#000"/>
<circle cx="2507.2" cy="1696.6" r="1.8" fill="#000"/>
<circle cx="2507.2" cy="1718.0" r="1.8" fill="#000"/>
<circle cx="2507.2" cy="1721.5" r="1.8" fill="#000"/>
<circle cx="2510.7" cy="1668.1" r="1.8" fill="#000"/>
<circle cx="2510.7" cy="1675.3" r="1.8" fill="#000"/>
<circle cx="2510.7" cy="1678.8" r="1.8" fill="#000"/>
<circle cx="2510.7" cy="1682.4" r="1.8" fill="#000"/>
<circle cx="2510.7" cy="1689.5" r="1.8" fill="#000"/>
<circle cx="2510.7" cy="1700.2" r="1.8" fill="#000"/>
<circle cx="2510.7" cy="1703.7" r="1.8" fill="#000"/>
<circle cx="2510.7" cy="1707.3" r="1.8" fill="#000"/>
<circle cx="2510.7" cy="1725.1" r="1.8" fill="#000"/>
<circle cx="2510.7" cy="1728.6" r="1.8" fill="#000"/>
<circle cx="2510.7" cy="1732.2" r="1.8" fill="#000"/>
<circle cx="2510.7" cy="1739.3" r="1.8" fill="#000"/>
<circle cx="2514.3" cy="1671.7" r="1.8" fill="#000"/>
<circle cx="2514.3" cy="1675.3" r="1.8" fill="#000"/>
<circle cx="2514.3" cy="1678.8" r="1.8" fill="#000"/>
<circle cx="2514.3" cy="1693.1" r="1.8" fill="#000"/>
<circle cx="2514.3" cy="1700.2" r="1.8" fill="#000"/>
<circle cx="2514.3" cy="1703.7" r="1.8" fill="#000"/>
<circle cx="2514.3" cy="1707.3" r="1.8" fill="#000"/>
<circle cx="2514.3" cy="1714.4" r="1.8" fill="#000"/>
<circle cx="2514.3" cy="1725.1" r="1.8" fill="#000"/>
<circle cx="2514.3" cy="1728.6" r="1.8" fill="#000"/>
<circle cx="2514.3" cy="1739.3" r="1.8" fill="#000"/>
<circle cx="2517.8" cy="1668.1" r="1.8" fill="#000"/>
<circle cx="2517.8" cy="1671.7" r="1.8" fill="#000"/>
<circle cx="2517.8" cy="1678.8" r="1.8" fill="#000"/>
<circle cx="2517.8" cy="1685.9" r="1.8" fill="#000"/>
<circle cx="2517.8" cy="1696.6" r="1.8" fill="#000"/>
<circle cx="2517.8" cy="1714.4" r="1.8" fill="#000"/>
<circle cx="2517.8" cy="1721.5" r="1.8" fill="#000"/>
<circle cx="2517.8" cy="1725.1" r="1.8" fill="#000"/>
<circle cx="2517.8" cy="1728.6" r="1.8" fill="#000"/>
<circle cx="2517.8" cy="1732.2" r="1.8" fill="#000"/>
<circle cx="2517.8" cy="1735.8" r="1.8" fill="#000"/>
<circle cx="2517.8" cy="1739.3" r="1.8" fill="#000"/>
<circle cx="2521.4" cy="1668.1" r="1.8" fill="#000"/>
<circle cx="2521.4" cy="1671.7" r="1.8" fill="#000"/>
<circle cx="2521.4" cy="1675.3" r="1.8" fill="#000"/>
<circle cx="2521.4" cy="1682.4" r="1.8" fill="#000"/>
<circle cx="2521.4" cy="1693.1" r="1.8" fill="#000"/>
<circle cx="2521.4" cy="1707.3" r="1.8" fill="#000"/>
<circle cx="2521.4" cy="1710.9" r="1.8" fill="#000"/>
<circle cx="2521.4" cy="1714.4" r="1.8" fill="#000"/>
<circle cx="2521.4" cy="1725.1" r="1.8" fill="#000"/>
<circle cx="2521.4" cy="1728.6" r="1.8" fill="#000"/>
<circle cx="2521.4" cy="1732.2" r="1.8" fill="#000"/>
<circle cx="2521.4" cy="1735.8" r="1.8" fill="#000"/>
<circle cx="2521.4" cy="1739.3" r="1.8" fill="#000"/>
<circle cx="2524.9" cy="1671.7" r="1.8" fill="#000"/>
<circle cx="2524.9" cy="1678.8" r="1.8" fill="#000"/>
<circle cx="2524.9" cy="1682.4" r="1.8" fill="#000"/>
<circle cx="2524.9" cy="1689.5" r="1.8" fill="#000"/>
<circle cx="2524.9" cy="1693.1" r="1.8" fill="#000"/>
<circle cx="2524.9" cy="1725.1" r="1.8" fill="#000"/>
<circle cx="2524.9" cy="1732.2" r="1.8" fill="#000"/>
<circle cx="2528.5" cy="1668.1" r="1.8" fill="#000"/>
<circle cx="2528.5" cy="1671.7" r="1.8" fill="#000"/>
<circle cx="2528.5" cy="1678.8" r="1.8" fill="#000"/>
<circle cx="2528.5" cy="1682.4" r="1.8" fill="#000"/>
<circle cx="2528.5" cy="1685.9" r="1.8" fill="#000"/>
<circle cx="2528.5" cy="1689.5" r="1.8" fill="#000"/>
<circle cx="2528.5" cy="1700.2" r="1.8" fill="#000"/>
<circle cx="2528.5" cy="1707.3" r="1.8" fill="#000"/>
<circle cx="2528.5" cy="1714.4" r="1.8" fill="#000"/>
<circle cx="2528.5" cy="1718.0" r="1.8" fill="#000"/>
<circle cx="2528.5" cy="1721.5" r="1.8" fill="#000"/>
<circle cx="2528.5" cy="1725.1" r="1.8" fill="#000"/>
<circle cx="2528.5" cy="1732.2" r="1.8" fill="#000"/>
<circle cx="2528.5" cy="1735.8" r="1.8" fill="#000"/>
<circle cx="2532.1" cy="1671.7" r="1.8" fill="#000"/>
<circle cx="2532.1" cy="1675.3" r="1.8" fill="#000"/>
<circle cx="2532.1" cy="1678.8" r="1.8" fill="#000"/>
<circle cx="2532.1" cy="1682.4" r="1.8" fill="#000"/>
<circle cx="2532.1" cy="1685.9" r="1.8" fill="#000"/>
<circle cx="2532.1" cy="1689.5" r="1.8" fill="#000"/>
<circle cx="2532.1" cy="1693.1" r="1.8" fill="#000"/>
<circle cx="2532.1" cy="1696.6" r="1.8" fill="#000"/>
<circle cx="2532.1" cy="1710.9" r="1.8" fill="#000"/>
<circle cx="2532.1" cy="1714.4" r="1.8" fill="#000"/>
<circle cx="2532.1" cy="1721.5" r="1.8" fill="#000"/>
<circle cx="2532.1" cy="1725.1" r="1.8" fill="#000"/>
<circle cx="2532.1" cy="1728.6" r="1.8" fill="#000"/>
<circle cx="2532.1" cy="1732.2" r="1.8" fill="#000"/>
<circle cx="2532.1" cy="1739.3" r="1.8" fill="#000"/>
<circle cx="2535.6" cy="1678.8" r="1.8" fill="#000"/>
<circle cx="2535.6" cy="1682.4" r="1.8" fill="#000"/>
<circle cx="2535.6" cy="1685.9" r="1.8" fill="#000"/>
<circle cx="2535.6" cy="1689.5" r="1.8" fill="#000"/>
<circle cx="2535.6" cy="1693.1" r="1.8" fill="#000"/>
<circle cx="2535.6" cy="1707.3" r="1.8" fill="#000"/>
<circle cx="2535.6" cy="1710.9" r="1.8" fill="#000"/>
<circle cx="2535.6" cy="1721.5" r="1.8" fill="#000"/>
<circle cx="2535.6" cy="1728.6" r="1.8" fill="#000"/>
<circle cx="2535.6" cy="1732.2" r="1.8" fill="#000"/>
<rect x="2436.0" y="1639.7" width="21.4" height="21.4" fill="none" rx="6.405517241379327" stroke="#000" stroke-width="3.5586206896551817"/>
<circle cx="2446.7" cy="1650.4" r="5.2" fill="#000"/>
<rect x="2514.3" y="1639.7" width="21.4" height="21.4" fill="none" rx="6.405517241379327" stroke="#000" stroke-width="3.5586206896551817"/>
<circle cx="2524.9" cy="1650.4" r="5.2" fill="#000"/>
<rect x="2436.0" y="1718.0" width="21.4" height="21.4" fill="none" rx="6.405517241379327" stroke="#000" stroke-width="3.5586206896551817"/>
<circle cx="2446.7" cy="1728.6" r="5.2" fill="#000"/>
<rect x="0.0" y="1763.0" width="2560.0" height="48.0" fill="#3253DC"/>
<text x="1684.0" y="1791.3" font-family="Liberation Sans" font-size="13.5" fill="#fff" font-weight="bold" textLength="750.0" lengthAdjust="spacing">QUALCOMM AI RESEARCH IS AN INITIATIVE OF QUALCOMM TECHNOLOGIES, INC</text>
</svg></body></html>
